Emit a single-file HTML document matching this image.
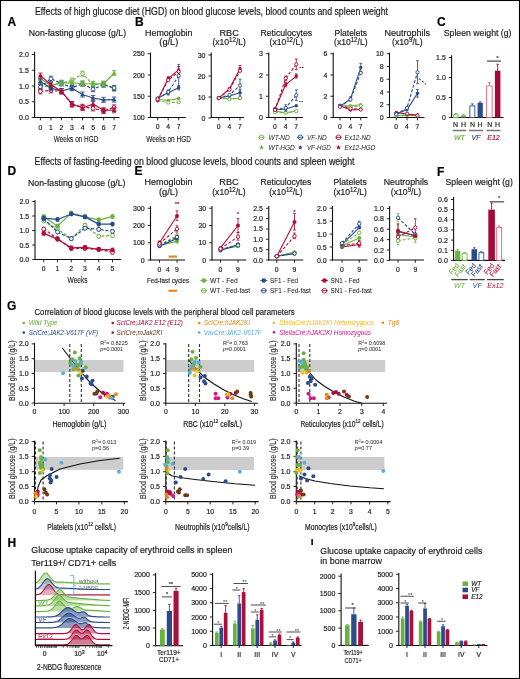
<!DOCTYPE html><html><head><meta charset="utf-8"><style>html,body{margin:0;padding:0;background:#fff;width:520px;height:679px;overflow:hidden}svg{display:block;will-change:transform}</style></head><body><svg width="520" height="679" viewBox="0 0 520 679" font-family='"Liberation Sans", sans-serif'>
<rect x="0.00" y="0.00" width="520.00" height="679.00" fill="#fff"/>
<text x="35.00" y="14.50" font-size="10" textLength="353.00" lengthAdjust="spacingAndGlyphs" fill="#1a1a1a" stroke="#1a1a1a" stroke-width="0.18">Effects of high glucose diet (HGD) on blood glucose levels, blood counts and spleen weight</text>
<text x="7.50" y="25.79" font-size="12" font-weight="bold" fill="#000" stroke="#000" stroke-width="0.18">A</text>
<text x="28.80" y="36.30" font-size="9.2" textLength="97.30" lengthAdjust="spacingAndGlyphs" fill="#1a1a1a" stroke="#1a1a1a" stroke-width="0.18">Non-fasting glucose (g/L)</text>
<line x1="34.60" y1="51.70" x2="34.60" y2="118.00" stroke="#111" stroke-width="1.1"/>
<line x1="31.80" y1="54.50" x2="34.60" y2="54.50" stroke="#111" stroke-width="0.9"/>
<text x="28.80" y="57.02" font-size="7" text-anchor="end" fill="#222" stroke="#222" stroke-width="0.18">2.0</text>
<line x1="31.80" y1="70.25" x2="34.60" y2="70.25" stroke="#111" stroke-width="0.9"/>
<text x="28.80" y="72.77" font-size="7" text-anchor="end" fill="#222" stroke="#222" stroke-width="0.18">1.5</text>
<line x1="31.80" y1="86.00" x2="34.60" y2="86.00" stroke="#111" stroke-width="0.9"/>
<text x="28.80" y="88.52" font-size="7" text-anchor="end" fill="#222" stroke="#222" stroke-width="0.18">1.0</text>
<line x1="31.80" y1="101.75" x2="34.60" y2="101.75" stroke="#111" stroke-width="0.9"/>
<text x="28.80" y="104.27" font-size="7" text-anchor="end" fill="#222" stroke="#222" stroke-width="0.18">0.5</text>
<line x1="31.80" y1="117.50" x2="34.60" y2="117.50" stroke="#111" stroke-width="0.9"/>
<text x="28.80" y="120.02" font-size="7" text-anchor="end" fill="#222" stroke="#222" stroke-width="0.18">0.0</text>
<line x1="34.10" y1="117.50" x2="119.50" y2="117.50" stroke="#111" stroke-width="1.1"/>
<line x1="40.40" y1="117.50" x2="40.40" y2="120.30" stroke="#111" stroke-width="0.9"/>
<text x="40.40" y="129.75" font-size="6.8" text-anchor="middle" fill="#222" stroke="#222" stroke-width="0.18">0</text>
<line x1="50.93" y1="117.50" x2="50.93" y2="120.30" stroke="#111" stroke-width="0.9"/>
<text x="50.93" y="129.75" font-size="6.8" text-anchor="middle" fill="#222" stroke="#222" stroke-width="0.18">1</text>
<line x1="61.46" y1="117.50" x2="61.46" y2="120.30" stroke="#111" stroke-width="0.9"/>
<text x="61.46" y="129.75" font-size="6.8" text-anchor="middle" fill="#222" stroke="#222" stroke-width="0.18">2</text>
<line x1="71.99" y1="117.50" x2="71.99" y2="120.30" stroke="#111" stroke-width="0.9"/>
<text x="71.99" y="129.75" font-size="6.8" text-anchor="middle" fill="#222" stroke="#222" stroke-width="0.18">3</text>
<line x1="82.52" y1="117.50" x2="82.52" y2="120.30" stroke="#111" stroke-width="0.9"/>
<text x="82.52" y="129.75" font-size="6.8" text-anchor="middle" fill="#222" stroke="#222" stroke-width="0.18">4</text>
<line x1="93.05" y1="117.50" x2="93.05" y2="120.30" stroke="#111" stroke-width="0.9"/>
<text x="93.05" y="129.75" font-size="6.8" text-anchor="middle" fill="#222" stroke="#222" stroke-width="0.18">5</text>
<line x1="103.58" y1="117.50" x2="103.58" y2="120.30" stroke="#111" stroke-width="0.9"/>
<text x="103.58" y="129.75" font-size="6.8" text-anchor="middle" fill="#222" stroke="#222" stroke-width="0.18">6</text>
<line x1="114.11" y1="117.50" x2="114.11" y2="120.30" stroke="#111" stroke-width="0.9"/>
<text x="114.11" y="129.75" font-size="6.8" text-anchor="middle" fill="#222" stroke="#222" stroke-width="0.18">7</text>
<text x="76.10" y="141.60" font-size="9.2" text-anchor="middle" textLength="44.70" lengthAdjust="spacingAndGlyphs" fill="#1a1a1a" stroke="#1a1a1a" stroke-width="0.12">Weeks on HGD</text>
<polyline points="40.40,86.63 50.93,86.00 61.46,82.85 71.99,80.65 82.52,73.72 93.05,84.74 103.58,83.79 114.11,88.83" fill="none" stroke="#6ab23e" stroke-width="1.2" stroke-dasharray="3,1.8" stroke-linejoin="round"/>
<line x1="40.40" y1="84.11" x2="40.40" y2="89.15" stroke="#6ab23e" stroke-width="0.85"/>
<line x1="38.20" y1="84.11" x2="42.60" y2="84.11" stroke="#6ab23e" stroke-width="0.85"/>
<line x1="38.20" y1="89.15" x2="42.60" y2="89.15" stroke="#6ab23e" stroke-width="0.85"/>
<line x1="50.93" y1="83.48" x2="50.93" y2="88.52" stroke="#6ab23e" stroke-width="0.85"/>
<line x1="48.73" y1="83.48" x2="53.13" y2="83.48" stroke="#6ab23e" stroke-width="0.85"/>
<line x1="48.73" y1="88.52" x2="53.13" y2="88.52" stroke="#6ab23e" stroke-width="0.85"/>
<line x1="61.46" y1="80.33" x2="61.46" y2="85.37" stroke="#6ab23e" stroke-width="0.85"/>
<line x1="59.26" y1="80.33" x2="63.66" y2="80.33" stroke="#6ab23e" stroke-width="0.85"/>
<line x1="59.26" y1="85.37" x2="63.66" y2="85.37" stroke="#6ab23e" stroke-width="0.85"/>
<line x1="71.99" y1="78.12" x2="71.99" y2="83.17" stroke="#6ab23e" stroke-width="0.85"/>
<line x1="69.79" y1="78.12" x2="74.19" y2="78.12" stroke="#6ab23e" stroke-width="0.85"/>
<line x1="69.79" y1="83.17" x2="74.19" y2="83.17" stroke="#6ab23e" stroke-width="0.85"/>
<line x1="82.52" y1="71.19" x2="82.52" y2="76.24" stroke="#6ab23e" stroke-width="0.85"/>
<line x1="80.32" y1="71.19" x2="84.72" y2="71.19" stroke="#6ab23e" stroke-width="0.85"/>
<line x1="80.32" y1="76.24" x2="84.72" y2="76.24" stroke="#6ab23e" stroke-width="0.85"/>
<line x1="93.05" y1="82.22" x2="93.05" y2="87.26" stroke="#6ab23e" stroke-width="0.85"/>
<line x1="90.85" y1="82.22" x2="95.25" y2="82.22" stroke="#6ab23e" stroke-width="0.85"/>
<line x1="90.85" y1="87.26" x2="95.25" y2="87.26" stroke="#6ab23e" stroke-width="0.85"/>
<line x1="103.58" y1="81.28" x2="103.58" y2="86.31" stroke="#6ab23e" stroke-width="0.85"/>
<line x1="101.38" y1="81.28" x2="105.78" y2="81.28" stroke="#6ab23e" stroke-width="0.85"/>
<line x1="101.38" y1="86.31" x2="105.78" y2="86.31" stroke="#6ab23e" stroke-width="0.85"/>
<line x1="114.11" y1="86.31" x2="114.11" y2="91.35" stroke="#6ab23e" stroke-width="0.85"/>
<line x1="111.91" y1="86.31" x2="116.31" y2="86.31" stroke="#6ab23e" stroke-width="0.85"/>
<line x1="111.91" y1="91.35" x2="116.31" y2="91.35" stroke="#6ab23e" stroke-width="0.85"/>
<circle cx="40.40" cy="86.63" r="1.87" fill="#fff" stroke="#6ab23e" stroke-width="0.95"/>
<circle cx="50.93" cy="86.00" r="1.87" fill="#fff" stroke="#6ab23e" stroke-width="0.95"/>
<circle cx="61.46" cy="82.85" r="1.87" fill="#fff" stroke="#6ab23e" stroke-width="0.95"/>
<circle cx="71.99" cy="80.65" r="1.87" fill="#fff" stroke="#6ab23e" stroke-width="0.95"/>
<circle cx="82.52" cy="73.72" r="1.87" fill="#fff" stroke="#6ab23e" stroke-width="0.95"/>
<circle cx="93.05" cy="84.74" r="1.87" fill="#fff" stroke="#6ab23e" stroke-width="0.95"/>
<circle cx="103.58" cy="83.79" r="1.87" fill="#fff" stroke="#6ab23e" stroke-width="0.95"/>
<circle cx="114.11" cy="88.83" r="1.87" fill="#fff" stroke="#6ab23e" stroke-width="0.95"/>
<polyline points="40.40,86.94 50.93,78.75 61.46,83.48 71.99,87.58 82.52,83.79 93.05,89.15 103.58,84.74 114.11,87.89" fill="none" stroke="#2b4b8c" stroke-width="1.2" stroke-dasharray="3,1.8" stroke-linejoin="round"/>
<line x1="40.40" y1="84.42" x2="40.40" y2="89.47" stroke="#2b4b8c" stroke-width="0.85"/>
<line x1="38.20" y1="84.42" x2="42.60" y2="84.42" stroke="#2b4b8c" stroke-width="0.85"/>
<line x1="38.20" y1="89.47" x2="42.60" y2="89.47" stroke="#2b4b8c" stroke-width="0.85"/>
<line x1="50.93" y1="76.23" x2="50.93" y2="81.28" stroke="#2b4b8c" stroke-width="0.85"/>
<line x1="48.73" y1="76.23" x2="53.13" y2="76.23" stroke="#2b4b8c" stroke-width="0.85"/>
<line x1="48.73" y1="81.28" x2="53.13" y2="81.28" stroke="#2b4b8c" stroke-width="0.85"/>
<line x1="61.46" y1="80.96" x2="61.46" y2="86.00" stroke="#2b4b8c" stroke-width="0.85"/>
<line x1="59.26" y1="80.96" x2="63.66" y2="80.96" stroke="#2b4b8c" stroke-width="0.85"/>
<line x1="59.26" y1="86.00" x2="63.66" y2="86.00" stroke="#2b4b8c" stroke-width="0.85"/>
<line x1="71.99" y1="85.06" x2="71.99" y2="90.09" stroke="#2b4b8c" stroke-width="0.85"/>
<line x1="69.79" y1="85.06" x2="74.19" y2="85.06" stroke="#2b4b8c" stroke-width="0.85"/>
<line x1="69.79" y1="90.09" x2="74.19" y2="90.09" stroke="#2b4b8c" stroke-width="0.85"/>
<line x1="82.52" y1="81.28" x2="82.52" y2="86.31" stroke="#2b4b8c" stroke-width="0.85"/>
<line x1="80.32" y1="81.28" x2="84.72" y2="81.28" stroke="#2b4b8c" stroke-width="0.85"/>
<line x1="80.32" y1="86.31" x2="84.72" y2="86.31" stroke="#2b4b8c" stroke-width="0.85"/>
<line x1="93.05" y1="86.63" x2="93.05" y2="91.67" stroke="#2b4b8c" stroke-width="0.85"/>
<line x1="90.85" y1="86.63" x2="95.25" y2="86.63" stroke="#2b4b8c" stroke-width="0.85"/>
<line x1="90.85" y1="91.67" x2="95.25" y2="91.67" stroke="#2b4b8c" stroke-width="0.85"/>
<line x1="103.58" y1="82.22" x2="103.58" y2="87.26" stroke="#2b4b8c" stroke-width="0.85"/>
<line x1="101.38" y1="82.22" x2="105.78" y2="82.22" stroke="#2b4b8c" stroke-width="0.85"/>
<line x1="101.38" y1="87.26" x2="105.78" y2="87.26" stroke="#2b4b8c" stroke-width="0.85"/>
<line x1="114.11" y1="85.37" x2="114.11" y2="90.41" stroke="#2b4b8c" stroke-width="0.85"/>
<line x1="111.91" y1="85.37" x2="116.31" y2="85.37" stroke="#2b4b8c" stroke-width="0.85"/>
<line x1="111.91" y1="90.41" x2="116.31" y2="90.41" stroke="#2b4b8c" stroke-width="0.85"/>
<circle cx="40.40" cy="86.94" r="1.87" fill="#fff" stroke="#2b4b8c" stroke-width="0.95"/>
<circle cx="50.93" cy="78.75" r="1.87" fill="#fff" stroke="#2b4b8c" stroke-width="0.95"/>
<circle cx="61.46" cy="83.48" r="1.87" fill="#fff" stroke="#2b4b8c" stroke-width="0.95"/>
<circle cx="71.99" cy="87.58" r="1.87" fill="#fff" stroke="#2b4b8c" stroke-width="0.95"/>
<circle cx="82.52" cy="83.79" r="1.87" fill="#fff" stroke="#2b4b8c" stroke-width="0.95"/>
<circle cx="93.05" cy="89.15" r="1.87" fill="#fff" stroke="#2b4b8c" stroke-width="0.95"/>
<circle cx="103.58" cy="84.74" r="1.87" fill="#fff" stroke="#2b4b8c" stroke-width="0.95"/>
<circle cx="114.11" cy="87.89" r="1.87" fill="#fff" stroke="#2b4b8c" stroke-width="0.95"/>
<polyline points="40.40,91.36 50.93,90.41 61.46,91.36 71.99,104.59 82.52,106.79 93.05,108.36 103.58,110.89 114.11,107.42" fill="none" stroke="#ad0e3a" stroke-width="1.2" stroke-dasharray="3,1.8" stroke-linejoin="round"/>
<line x1="40.40" y1="88.84" x2="40.40" y2="93.88" stroke="#ad0e3a" stroke-width="0.85"/>
<line x1="38.20" y1="88.84" x2="42.60" y2="88.84" stroke="#ad0e3a" stroke-width="0.85"/>
<line x1="38.20" y1="93.88" x2="42.60" y2="93.88" stroke="#ad0e3a" stroke-width="0.85"/>
<line x1="50.93" y1="87.89" x2="50.93" y2="92.93" stroke="#ad0e3a" stroke-width="0.85"/>
<line x1="48.73" y1="87.89" x2="53.13" y2="87.89" stroke="#ad0e3a" stroke-width="0.85"/>
<line x1="48.73" y1="92.93" x2="53.13" y2="92.93" stroke="#ad0e3a" stroke-width="0.85"/>
<line x1="61.46" y1="88.84" x2="61.46" y2="93.88" stroke="#ad0e3a" stroke-width="0.85"/>
<line x1="59.26" y1="88.84" x2="63.66" y2="88.84" stroke="#ad0e3a" stroke-width="0.85"/>
<line x1="59.26" y1="93.88" x2="63.66" y2="93.88" stroke="#ad0e3a" stroke-width="0.85"/>
<line x1="71.99" y1="102.06" x2="71.99" y2="107.11" stroke="#ad0e3a" stroke-width="0.85"/>
<line x1="69.79" y1="102.06" x2="74.19" y2="102.06" stroke="#ad0e3a" stroke-width="0.85"/>
<line x1="69.79" y1="107.11" x2="74.19" y2="107.11" stroke="#ad0e3a" stroke-width="0.85"/>
<line x1="82.52" y1="104.27" x2="82.52" y2="109.31" stroke="#ad0e3a" stroke-width="0.85"/>
<line x1="80.32" y1="104.27" x2="84.72" y2="104.27" stroke="#ad0e3a" stroke-width="0.85"/>
<line x1="80.32" y1="109.31" x2="84.72" y2="109.31" stroke="#ad0e3a" stroke-width="0.85"/>
<line x1="93.05" y1="105.84" x2="93.05" y2="110.89" stroke="#ad0e3a" stroke-width="0.85"/>
<line x1="90.85" y1="105.84" x2="95.25" y2="105.84" stroke="#ad0e3a" stroke-width="0.85"/>
<line x1="90.85" y1="110.89" x2="95.25" y2="110.89" stroke="#ad0e3a" stroke-width="0.85"/>
<line x1="103.58" y1="108.36" x2="103.58" y2="113.41" stroke="#ad0e3a" stroke-width="0.85"/>
<line x1="101.38" y1="108.36" x2="105.78" y2="108.36" stroke="#ad0e3a" stroke-width="0.85"/>
<line x1="101.38" y1="113.41" x2="105.78" y2="113.41" stroke="#ad0e3a" stroke-width="0.85"/>
<line x1="114.11" y1="104.90" x2="114.11" y2="109.94" stroke="#ad0e3a" stroke-width="0.85"/>
<line x1="111.91" y1="104.90" x2="116.31" y2="104.90" stroke="#ad0e3a" stroke-width="0.85"/>
<line x1="111.91" y1="109.94" x2="116.31" y2="109.94" stroke="#ad0e3a" stroke-width="0.85"/>
<circle cx="40.40" cy="91.36" r="1.87" fill="#fff" stroke="#ad0e3a" stroke-width="0.95"/>
<circle cx="50.93" cy="90.41" r="1.87" fill="#fff" stroke="#ad0e3a" stroke-width="0.95"/>
<circle cx="61.46" cy="91.36" r="1.87" fill="#fff" stroke="#ad0e3a" stroke-width="0.95"/>
<circle cx="71.99" cy="104.59" r="1.87" fill="#fff" stroke="#ad0e3a" stroke-width="0.95"/>
<circle cx="82.52" cy="106.79" r="1.87" fill="#fff" stroke="#ad0e3a" stroke-width="0.95"/>
<circle cx="93.05" cy="108.36" r="1.87" fill="#fff" stroke="#ad0e3a" stroke-width="0.95"/>
<circle cx="103.58" cy="110.89" r="1.87" fill="#fff" stroke="#ad0e3a" stroke-width="0.95"/>
<circle cx="114.11" cy="107.42" r="1.87" fill="#fff" stroke="#ad0e3a" stroke-width="0.95"/>
<polyline points="40.40,78.44 50.93,85.69 61.46,82.85 71.99,82.85 82.52,83.48 93.05,83.79 103.58,83.79 114.11,73.09" fill="none" stroke="#6ab23e" stroke-width="1.2" stroke-linejoin="round"/>
<line x1="40.40" y1="75.92" x2="40.40" y2="80.96" stroke="#6ab23e" stroke-width="0.85"/>
<line x1="38.20" y1="75.92" x2="42.60" y2="75.92" stroke="#6ab23e" stroke-width="0.85"/>
<line x1="38.20" y1="80.96" x2="42.60" y2="80.96" stroke="#6ab23e" stroke-width="0.85"/>
<line x1="50.93" y1="83.16" x2="50.93" y2="88.20" stroke="#6ab23e" stroke-width="0.85"/>
<line x1="48.73" y1="83.16" x2="53.13" y2="83.16" stroke="#6ab23e" stroke-width="0.85"/>
<line x1="48.73" y1="88.20" x2="53.13" y2="88.20" stroke="#6ab23e" stroke-width="0.85"/>
<line x1="61.46" y1="80.33" x2="61.46" y2="85.37" stroke="#6ab23e" stroke-width="0.85"/>
<line x1="59.26" y1="80.33" x2="63.66" y2="80.33" stroke="#6ab23e" stroke-width="0.85"/>
<line x1="59.26" y1="85.37" x2="63.66" y2="85.37" stroke="#6ab23e" stroke-width="0.85"/>
<line x1="71.99" y1="80.33" x2="71.99" y2="85.37" stroke="#6ab23e" stroke-width="0.85"/>
<line x1="69.79" y1="80.33" x2="74.19" y2="80.33" stroke="#6ab23e" stroke-width="0.85"/>
<line x1="69.79" y1="85.37" x2="74.19" y2="85.37" stroke="#6ab23e" stroke-width="0.85"/>
<line x1="82.52" y1="80.96" x2="82.52" y2="86.00" stroke="#6ab23e" stroke-width="0.85"/>
<line x1="80.32" y1="80.96" x2="84.72" y2="80.96" stroke="#6ab23e" stroke-width="0.85"/>
<line x1="80.32" y1="86.00" x2="84.72" y2="86.00" stroke="#6ab23e" stroke-width="0.85"/>
<line x1="93.05" y1="81.28" x2="93.05" y2="86.31" stroke="#6ab23e" stroke-width="0.85"/>
<line x1="90.85" y1="81.28" x2="95.25" y2="81.28" stroke="#6ab23e" stroke-width="0.85"/>
<line x1="90.85" y1="86.31" x2="95.25" y2="86.31" stroke="#6ab23e" stroke-width="0.85"/>
<line x1="103.58" y1="81.28" x2="103.58" y2="86.31" stroke="#6ab23e" stroke-width="0.85"/>
<line x1="101.38" y1="81.28" x2="105.78" y2="81.28" stroke="#6ab23e" stroke-width="0.85"/>
<line x1="101.38" y1="86.31" x2="105.78" y2="86.31" stroke="#6ab23e" stroke-width="0.85"/>
<line x1="114.11" y1="70.56" x2="114.11" y2="75.61" stroke="#6ab23e" stroke-width="0.85"/>
<line x1="111.91" y1="70.56" x2="116.31" y2="70.56" stroke="#6ab23e" stroke-width="0.85"/>
<line x1="111.91" y1="75.61" x2="116.31" y2="75.61" stroke="#6ab23e" stroke-width="0.85"/>
<polygon points="40.40,75.80 42.82,80.20 37.98,80.20" fill="#6ab23e"/>
<polygon points="50.93,83.05 53.35,87.45 48.51,87.45" fill="#6ab23e"/>
<polygon points="61.46,80.21 63.88,84.61 59.04,84.61" fill="#6ab23e"/>
<polygon points="71.99,80.21 74.41,84.61 69.57,84.61" fill="#6ab23e"/>
<polygon points="82.52,80.84 84.94,85.24 80.10,85.24" fill="#6ab23e"/>
<polygon points="93.05,81.15 95.47,85.55 90.63,85.55" fill="#6ab23e"/>
<polygon points="103.58,81.15 106.00,85.55 101.16,85.55" fill="#6ab23e"/>
<polygon points="114.11,70.45 116.53,74.85 111.69,74.85" fill="#6ab23e"/>
<polyline points="40.40,81.59 50.93,88.20 61.46,91.04 71.99,88.20 82.52,94.50 93.05,97.97 103.58,99.86 114.11,99.55" fill="none" stroke="#2b4b8c" stroke-width="1.2" stroke-linejoin="round"/>
<line x1="40.40" y1="79.07" x2="40.40" y2="84.11" stroke="#2b4b8c" stroke-width="0.85"/>
<line x1="38.20" y1="79.07" x2="42.60" y2="79.07" stroke="#2b4b8c" stroke-width="0.85"/>
<line x1="38.20" y1="84.11" x2="42.60" y2="84.11" stroke="#2b4b8c" stroke-width="0.85"/>
<line x1="50.93" y1="85.69" x2="50.93" y2="90.72" stroke="#2b4b8c" stroke-width="0.85"/>
<line x1="48.73" y1="85.69" x2="53.13" y2="85.69" stroke="#2b4b8c" stroke-width="0.85"/>
<line x1="48.73" y1="90.72" x2="53.13" y2="90.72" stroke="#2b4b8c" stroke-width="0.85"/>
<line x1="61.46" y1="88.52" x2="61.46" y2="93.56" stroke="#2b4b8c" stroke-width="0.85"/>
<line x1="59.26" y1="88.52" x2="63.66" y2="88.52" stroke="#2b4b8c" stroke-width="0.85"/>
<line x1="59.26" y1="93.56" x2="63.66" y2="93.56" stroke="#2b4b8c" stroke-width="0.85"/>
<line x1="71.99" y1="85.69" x2="71.99" y2="90.72" stroke="#2b4b8c" stroke-width="0.85"/>
<line x1="69.79" y1="85.69" x2="74.19" y2="85.69" stroke="#2b4b8c" stroke-width="0.85"/>
<line x1="69.79" y1="90.72" x2="74.19" y2="90.72" stroke="#2b4b8c" stroke-width="0.85"/>
<line x1="82.52" y1="91.98" x2="82.52" y2="97.03" stroke="#2b4b8c" stroke-width="0.85"/>
<line x1="80.32" y1="91.98" x2="84.72" y2="91.98" stroke="#2b4b8c" stroke-width="0.85"/>
<line x1="80.32" y1="97.03" x2="84.72" y2="97.03" stroke="#2b4b8c" stroke-width="0.85"/>
<line x1="93.05" y1="95.45" x2="93.05" y2="100.49" stroke="#2b4b8c" stroke-width="0.85"/>
<line x1="90.85" y1="95.45" x2="95.25" y2="95.45" stroke="#2b4b8c" stroke-width="0.85"/>
<line x1="90.85" y1="100.49" x2="95.25" y2="100.49" stroke="#2b4b8c" stroke-width="0.85"/>
<line x1="103.58" y1="97.34" x2="103.58" y2="102.38" stroke="#2b4b8c" stroke-width="0.85"/>
<line x1="101.38" y1="97.34" x2="105.78" y2="97.34" stroke="#2b4b8c" stroke-width="0.85"/>
<line x1="101.38" y1="102.38" x2="105.78" y2="102.38" stroke="#2b4b8c" stroke-width="0.85"/>
<line x1="114.11" y1="97.03" x2="114.11" y2="102.06" stroke="#2b4b8c" stroke-width="0.85"/>
<line x1="111.91" y1="97.03" x2="116.31" y2="97.03" stroke="#2b4b8c" stroke-width="0.85"/>
<line x1="111.91" y1="102.06" x2="116.31" y2="102.06" stroke="#2b4b8c" stroke-width="0.85"/>
<polygon points="40.40,78.95 42.82,83.35 37.98,83.35" fill="#2b4b8c"/>
<polygon points="50.93,85.56 53.35,89.97 48.51,89.97" fill="#2b4b8c"/>
<polygon points="61.46,88.40 63.88,92.80 59.04,92.80" fill="#2b4b8c"/>
<polygon points="71.99,85.56 74.41,89.97 69.57,89.97" fill="#2b4b8c"/>
<polygon points="82.52,91.86 84.94,96.27 80.10,96.27" fill="#2b4b8c"/>
<polygon points="93.05,95.33 95.47,99.73 90.63,99.73" fill="#2b4b8c"/>
<polygon points="103.58,97.22 106.00,101.62 101.16,101.62" fill="#2b4b8c"/>
<polygon points="114.11,96.91 116.53,101.31 111.69,101.31" fill="#2b4b8c"/>
<polyline points="40.40,75.60 50.93,84.74 61.46,91.36 71.99,103.95 82.52,108.05 93.05,103.95 103.58,110.25 114.11,110.25" fill="none" stroke="#ad0e3a" stroke-width="1.2" stroke-linejoin="round"/>
<line x1="40.40" y1="73.08" x2="40.40" y2="78.12" stroke="#ad0e3a" stroke-width="0.85"/>
<line x1="38.20" y1="73.08" x2="42.60" y2="73.08" stroke="#ad0e3a" stroke-width="0.85"/>
<line x1="38.20" y1="78.12" x2="42.60" y2="78.12" stroke="#ad0e3a" stroke-width="0.85"/>
<line x1="50.93" y1="82.22" x2="50.93" y2="87.26" stroke="#ad0e3a" stroke-width="0.85"/>
<line x1="48.73" y1="82.22" x2="53.13" y2="82.22" stroke="#ad0e3a" stroke-width="0.85"/>
<line x1="48.73" y1="87.26" x2="53.13" y2="87.26" stroke="#ad0e3a" stroke-width="0.85"/>
<line x1="61.46" y1="88.84" x2="61.46" y2="93.88" stroke="#ad0e3a" stroke-width="0.85"/>
<line x1="59.26" y1="88.84" x2="63.66" y2="88.84" stroke="#ad0e3a" stroke-width="0.85"/>
<line x1="59.26" y1="93.88" x2="63.66" y2="93.88" stroke="#ad0e3a" stroke-width="0.85"/>
<line x1="71.99" y1="101.44" x2="71.99" y2="106.47" stroke="#ad0e3a" stroke-width="0.85"/>
<line x1="69.79" y1="101.44" x2="74.19" y2="101.44" stroke="#ad0e3a" stroke-width="0.85"/>
<line x1="69.79" y1="106.47" x2="74.19" y2="106.47" stroke="#ad0e3a" stroke-width="0.85"/>
<line x1="82.52" y1="105.53" x2="82.52" y2="110.57" stroke="#ad0e3a" stroke-width="0.85"/>
<line x1="80.32" y1="105.53" x2="84.72" y2="105.53" stroke="#ad0e3a" stroke-width="0.85"/>
<line x1="80.32" y1="110.57" x2="84.72" y2="110.57" stroke="#ad0e3a" stroke-width="0.85"/>
<line x1="93.05" y1="101.44" x2="93.05" y2="106.47" stroke="#ad0e3a" stroke-width="0.85"/>
<line x1="90.85" y1="101.44" x2="95.25" y2="101.44" stroke="#ad0e3a" stroke-width="0.85"/>
<line x1="90.85" y1="106.47" x2="95.25" y2="106.47" stroke="#ad0e3a" stroke-width="0.85"/>
<line x1="103.58" y1="107.73" x2="103.58" y2="112.78" stroke="#ad0e3a" stroke-width="0.85"/>
<line x1="101.38" y1="107.73" x2="105.78" y2="107.73" stroke="#ad0e3a" stroke-width="0.85"/>
<line x1="101.38" y1="112.78" x2="105.78" y2="112.78" stroke="#ad0e3a" stroke-width="0.85"/>
<line x1="114.11" y1="107.73" x2="114.11" y2="112.78" stroke="#ad0e3a" stroke-width="0.85"/>
<line x1="111.91" y1="107.73" x2="116.31" y2="107.73" stroke="#ad0e3a" stroke-width="0.85"/>
<line x1="111.91" y1="112.78" x2="116.31" y2="112.78" stroke="#ad0e3a" stroke-width="0.85"/>
<polygon points="40.40,72.96 42.82,77.36 37.98,77.36" fill="#ad0e3a"/>
<polygon points="50.93,82.10 53.35,86.50 48.51,86.50" fill="#ad0e3a"/>
<polygon points="61.46,88.72 63.88,93.12 59.04,93.12" fill="#ad0e3a"/>
<polygon points="71.99,101.31 74.41,105.72 69.57,105.72" fill="#ad0e3a"/>
<polygon points="82.52,105.41 84.94,109.81 80.10,109.81" fill="#ad0e3a"/>
<polygon points="93.05,101.31 95.47,105.72 90.63,105.72" fill="#ad0e3a"/>
<polygon points="103.58,107.61 106.00,112.02 101.16,112.02" fill="#ad0e3a"/>
<polygon points="114.11,107.61 116.53,112.02 111.69,112.02" fill="#ad0e3a"/>
<text x="135.00" y="25.79" font-size="12" font-weight="bold" fill="#000" stroke="#000" stroke-width="0.18">B</text>
<text x="168.80" y="35.90" font-size="9.2" text-anchor="middle" textLength="47.50" lengthAdjust="spacingAndGlyphs" fill="#1a1a1a" stroke="#1a1a1a" stroke-width="0.18">Hemoglobin</text>
<text x="168.80" y="45.30" font-size="9.2" text-anchor="middle" fill="#1a1a1a" stroke="#1a1a1a" stroke-width="0.18">(g/L)</text>
<text x="229.20" y="35.90" font-size="9.2" text-anchor="middle" fill="#1a1a1a" stroke="#1a1a1a" stroke-width="0.18">RBC</text>
<text x="229.20" y="45.30" font-size="9.2" text-anchor="middle" textLength="33.50" lengthAdjust="spacingAndGlyphs" fill="#1a1a1a" stroke="#1a1a1a" stroke-width="0.18">(x10<tspan font-size="6.6" dy="-3.3">12</tspan><tspan dy="3.3">/L)</tspan></text>
<text x="286.30" y="35.90" font-size="9.2" text-anchor="middle" textLength="51.50" lengthAdjust="spacingAndGlyphs" fill="#1a1a1a" stroke="#1a1a1a" stroke-width="0.18">Reticulocytes</text>
<text x="286.30" y="45.30" font-size="9.2" text-anchor="middle" textLength="33.50" lengthAdjust="spacingAndGlyphs" fill="#1a1a1a" stroke="#1a1a1a" stroke-width="0.18">(x10<tspan font-size="6.6" dy="-3.3">12</tspan><tspan dy="3.3">/L)</tspan></text>
<text x="350.80" y="35.90" font-size="9.2" text-anchor="middle" textLength="32.50" lengthAdjust="spacingAndGlyphs" fill="#1a1a1a" stroke="#1a1a1a" stroke-width="0.18">Platelets</text>
<text x="350.80" y="45.30" font-size="9.2" text-anchor="middle" textLength="33.50" lengthAdjust="spacingAndGlyphs" fill="#1a1a1a" stroke="#1a1a1a" stroke-width="0.18">(x10<tspan font-size="6.6" dy="-3.3">12</tspan><tspan dy="3.3">/L)</tspan></text>
<text x="407.30" y="35.90" font-size="9.2" text-anchor="middle" textLength="45.50" lengthAdjust="spacingAndGlyphs" fill="#1a1a1a" stroke="#1a1a1a" stroke-width="0.18">Neutrophils</text>
<text x="407.30" y="45.30" font-size="9.2" text-anchor="middle" textLength="30.50" lengthAdjust="spacingAndGlyphs" fill="#1a1a1a" stroke="#1a1a1a" stroke-width="0.18">(x10<tspan font-size="6.6" dy="-3.3">9</tspan><tspan dy="3.3">/L)</tspan></text>
<line x1="150.50" y1="52.50" x2="150.50" y2="118.00" stroke="#111" stroke-width="1.1"/>
<line x1="147.70" y1="53.75" x2="150.50" y2="53.75" stroke="#111" stroke-width="0.9"/>
<text x="144.70" y="56.27" font-size="7" text-anchor="end" fill="#222" stroke="#222" stroke-width="0.18">250</text>
<line x1="147.70" y1="75.00" x2="150.50" y2="75.00" stroke="#111" stroke-width="0.9"/>
<text x="144.70" y="77.52" font-size="7" text-anchor="end" fill="#222" stroke="#222" stroke-width="0.18">200</text>
<line x1="147.70" y1="96.25" x2="150.50" y2="96.25" stroke="#111" stroke-width="0.9"/>
<text x="144.70" y="98.77" font-size="7" text-anchor="end" fill="#222" stroke="#222" stroke-width="0.18">150</text>
<line x1="147.70" y1="117.50" x2="150.50" y2="117.50" stroke="#111" stroke-width="0.9"/>
<text x="144.70" y="120.02" font-size="7" text-anchor="end" fill="#222" stroke="#222" stroke-width="0.18">100</text>
<line x1="150.00" y1="117.50" x2="185.80" y2="117.50" stroke="#111" stroke-width="1.1"/>
<line x1="157.60" y1="117.50" x2="157.60" y2="120.30" stroke="#111" stroke-width="0.9"/>
<text x="157.60" y="129.45" font-size="6.8" text-anchor="middle" fill="#222" stroke="#222" stroke-width="0.18">0</text>
<line x1="168.20" y1="117.50" x2="168.20" y2="120.30" stroke="#111" stroke-width="0.9"/>
<text x="168.20" y="129.45" font-size="6.8" text-anchor="middle" fill="#222" stroke="#222" stroke-width="0.18">4</text>
<line x1="178.70" y1="117.50" x2="178.70" y2="120.30" stroke="#111" stroke-width="0.9"/>
<text x="178.70" y="129.45" font-size="6.8" text-anchor="middle" fill="#222" stroke="#222" stroke-width="0.18">7</text>
<polyline points="157.60,99.22 168.20,100.50 178.70,98.38" fill="none" stroke="#6ab23e" stroke-width="1.1" stroke-linejoin="round"/>
<circle cx="157.60" cy="99.22" r="1.71" fill="#6ab23e"/>
<circle cx="168.20" cy="100.50" r="1.71" fill="#6ab23e"/>
<circle cx="178.70" cy="98.38" r="1.71" fill="#6ab23e"/>
<polyline points="157.60,100.50 168.20,102.62 178.70,102.20" fill="none" stroke="#6ab23e" stroke-width="1.1" stroke-dasharray="3,1.8" stroke-linejoin="round"/>
<circle cx="157.60" cy="100.50" r="1.61" fill="#fff" stroke="#6ab23e" stroke-width="0.95"/>
<circle cx="168.20" cy="102.62" r="1.61" fill="#fff" stroke="#6ab23e" stroke-width="0.95"/>
<circle cx="178.70" cy="102.20" r="1.61" fill="#fff" stroke="#6ab23e" stroke-width="0.95"/>
<polyline points="157.60,98.38 168.20,92.85 178.70,87.75" fill="none" stroke="#2b4b8c" stroke-width="1.1" stroke-linejoin="round"/>
<line x1="168.20" y1="94.97" x2="168.20" y2="90.72" stroke="#2b4b8c" stroke-width="0.85"/>
<line x1="166.80" y1="94.97" x2="169.60" y2="94.97" stroke="#2b4b8c" stroke-width="0.85"/>
<line x1="166.80" y1="90.72" x2="169.60" y2="90.72" stroke="#2b4b8c" stroke-width="0.85"/>
<line x1="178.70" y1="89.88" x2="178.70" y2="85.62" stroke="#2b4b8c" stroke-width="0.85"/>
<line x1="177.30" y1="89.88" x2="180.10" y2="89.88" stroke="#2b4b8c" stroke-width="0.85"/>
<line x1="177.30" y1="85.62" x2="180.10" y2="85.62" stroke="#2b4b8c" stroke-width="0.85"/>
<circle cx="157.60" cy="98.38" r="1.71" fill="#2b4b8c"/>
<circle cx="168.20" cy="92.85" r="1.71" fill="#2b4b8c"/>
<circle cx="178.70" cy="87.75" r="1.71" fill="#2b4b8c"/>
<polyline points="157.60,98.38 168.20,92.00 178.70,75.85" fill="none" stroke="#2b4b8c" stroke-width="1.1" stroke-dasharray="3,1.8" stroke-linejoin="round"/>
<line x1="168.20" y1="94.12" x2="168.20" y2="89.88" stroke="#2b4b8c" stroke-width="0.85"/>
<line x1="166.80" y1="94.12" x2="169.60" y2="94.12" stroke="#2b4b8c" stroke-width="0.85"/>
<line x1="166.80" y1="89.88" x2="169.60" y2="89.88" stroke="#2b4b8c" stroke-width="0.85"/>
<line x1="178.70" y1="86.90" x2="178.70" y2="64.38" stroke="#2b4b8c" stroke-width="0.85"/>
<line x1="177.30" y1="86.90" x2="180.10" y2="86.90" stroke="#2b4b8c" stroke-width="0.85"/>
<line x1="177.30" y1="64.38" x2="180.10" y2="64.38" stroke="#2b4b8c" stroke-width="0.85"/>
<circle cx="157.60" cy="98.38" r="1.61" fill="#fff" stroke="#2b4b8c" stroke-width="0.95"/>
<circle cx="168.20" cy="92.00" r="1.61" fill="#fff" stroke="#2b4b8c" stroke-width="0.95"/>
<circle cx="178.70" cy="75.85" r="1.61" fill="#fff" stroke="#2b4b8c" stroke-width="0.95"/>
<polyline points="157.60,100.50 168.20,78.40 178.70,69.90" fill="none" stroke="#ad0e3a" stroke-width="1.1" stroke-linejoin="round"/>
<line x1="168.20" y1="80.10" x2="168.20" y2="76.70" stroke="#ad0e3a" stroke-width="0.85"/>
<line x1="166.80" y1="80.10" x2="169.60" y2="80.10" stroke="#ad0e3a" stroke-width="0.85"/>
<line x1="166.80" y1="76.70" x2="169.60" y2="76.70" stroke="#ad0e3a" stroke-width="0.85"/>
<line x1="178.70" y1="72.88" x2="178.70" y2="66.50" stroke="#ad0e3a" stroke-width="0.85"/>
<line x1="177.30" y1="72.88" x2="180.10" y2="72.88" stroke="#ad0e3a" stroke-width="0.85"/>
<line x1="177.30" y1="66.50" x2="180.10" y2="66.50" stroke="#ad0e3a" stroke-width="0.85"/>
<circle cx="157.60" cy="100.50" r="1.71" fill="#ad0e3a"/>
<circle cx="168.20" cy="78.40" r="1.71" fill="#ad0e3a"/>
<circle cx="178.70" cy="69.90" r="1.71" fill="#ad0e3a"/>
<polyline points="157.60,99.22 168.20,80.10 178.70,71.60" fill="none" stroke="#ad0e3a" stroke-width="1.1" stroke-dasharray="3,1.8" stroke-linejoin="round"/>
<circle cx="157.60" cy="99.22" r="1.61" fill="#fff" stroke="#ad0e3a" stroke-width="0.95"/>
<circle cx="168.20" cy="80.10" r="1.61" fill="#fff" stroke="#ad0e3a" stroke-width="0.95"/>
<circle cx="178.70" cy="71.60" r="1.61" fill="#fff" stroke="#ad0e3a" stroke-width="0.95"/>
<text x="168.50" y="141.60" font-size="9.2" text-anchor="middle" textLength="44.60" lengthAdjust="spacingAndGlyphs" fill="#1a1a1a" stroke="#1a1a1a" stroke-width="0.12">Weeks on HGD</text>
<line x1="211.25" y1="52.50" x2="211.25" y2="118.00" stroke="#111" stroke-width="1.1"/>
<line x1="208.45" y1="55.00" x2="211.25" y2="55.00" stroke="#111" stroke-width="0.9"/>
<text x="205.45" y="57.52" font-size="7" text-anchor="end" fill="#222" stroke="#222" stroke-width="0.18">30</text>
<line x1="208.45" y1="76.00" x2="211.25" y2="76.00" stroke="#111" stroke-width="0.9"/>
<text x="205.45" y="78.52" font-size="7" text-anchor="end" fill="#222" stroke="#222" stroke-width="0.18">20</text>
<line x1="208.45" y1="97.00" x2="211.25" y2="97.00" stroke="#111" stroke-width="0.9"/>
<text x="205.45" y="99.52" font-size="7" text-anchor="end" fill="#222" stroke="#222" stroke-width="0.18">10</text>
<line x1="208.45" y1="118.00" x2="211.25" y2="118.00" stroke="#111" stroke-width="0.9"/>
<text x="205.45" y="120.52" font-size="7" text-anchor="end" fill="#222" stroke="#222" stroke-width="0.18">0</text>
<line x1="210.75" y1="117.50" x2="244.00" y2="117.50" stroke="#111" stroke-width="1.1"/>
<line x1="218.75" y1="117.50" x2="218.75" y2="120.30" stroke="#111" stroke-width="0.9"/>
<text x="218.75" y="129.45" font-size="6.8" text-anchor="middle" fill="#222" stroke="#222" stroke-width="0.18">0</text>
<line x1="229.50" y1="117.50" x2="229.50" y2="120.30" stroke="#111" stroke-width="0.9"/>
<text x="229.50" y="129.45" font-size="6.8" text-anchor="middle" fill="#222" stroke="#222" stroke-width="0.18">4</text>
<line x1="240.00" y1="117.50" x2="240.00" y2="120.30" stroke="#111" stroke-width="0.9"/>
<text x="240.00" y="129.45" font-size="6.8" text-anchor="middle" fill="#222" stroke="#222" stroke-width="0.18">7</text>
<polyline points="218.75,98.05 229.50,98.68 240.00,98.47" fill="none" stroke="#6ab23e" stroke-width="1.1" stroke-linejoin="round"/>
<circle cx="218.75" cy="98.05" r="1.71" fill="#6ab23e"/>
<circle cx="229.50" cy="98.68" r="1.71" fill="#6ab23e"/>
<circle cx="240.00" cy="98.47" r="1.71" fill="#6ab23e"/>
<polyline points="218.75,98.05 229.50,99.10 240.00,98.05" fill="none" stroke="#6ab23e" stroke-width="1.1" stroke-dasharray="3,1.8" stroke-linejoin="round"/>
<circle cx="218.75" cy="98.05" r="1.61" fill="#fff" stroke="#6ab23e" stroke-width="0.95"/>
<circle cx="229.50" cy="99.10" r="1.61" fill="#fff" stroke="#6ab23e" stroke-width="0.95"/>
<circle cx="240.00" cy="98.05" r="1.61" fill="#fff" stroke="#6ab23e" stroke-width="0.95"/>
<polyline points="218.75,98.05 229.50,95.95 240.00,92.80" fill="none" stroke="#2b4b8c" stroke-width="1.1" stroke-linejoin="round"/>
<line x1="240.00" y1="95.95" x2="240.00" y2="89.65" stroke="#2b4b8c" stroke-width="0.85"/>
<line x1="238.60" y1="95.95" x2="241.40" y2="95.95" stroke="#2b4b8c" stroke-width="0.85"/>
<line x1="238.60" y1="89.65" x2="241.40" y2="89.65" stroke="#2b4b8c" stroke-width="0.85"/>
<circle cx="218.75" cy="98.05" r="1.71" fill="#2b4b8c"/>
<circle cx="229.50" cy="95.95" r="1.71" fill="#2b4b8c"/>
<circle cx="240.00" cy="92.80" r="1.71" fill="#2b4b8c"/>
<polyline points="218.75,98.05 229.50,94.90 240.00,85.45" fill="none" stroke="#2b4b8c" stroke-width="1.1" stroke-dasharray="3,1.8" stroke-linejoin="round"/>
<line x1="240.00" y1="92.80" x2="240.00" y2="79.15" stroke="#2b4b8c" stroke-width="0.85"/>
<line x1="238.60" y1="92.80" x2="241.40" y2="92.80" stroke="#2b4b8c" stroke-width="0.85"/>
<line x1="238.60" y1="79.15" x2="241.40" y2="79.15" stroke="#2b4b8c" stroke-width="0.85"/>
<circle cx="218.75" cy="98.05" r="1.61" fill="#fff" stroke="#2b4b8c" stroke-width="0.95"/>
<circle cx="229.50" cy="94.90" r="1.61" fill="#fff" stroke="#2b4b8c" stroke-width="0.95"/>
<circle cx="240.00" cy="85.45" r="1.61" fill="#fff" stroke="#2b4b8c" stroke-width="0.95"/>
<polyline points="218.75,98.05 229.50,88.60 240.00,68.65" fill="none" stroke="#ad0e3a" stroke-width="1.1" stroke-linejoin="round"/>
<line x1="240.00" y1="71.80" x2="240.00" y2="65.50" stroke="#ad0e3a" stroke-width="0.85"/>
<line x1="238.60" y1="71.80" x2="241.40" y2="71.80" stroke="#ad0e3a" stroke-width="0.85"/>
<line x1="238.60" y1="65.50" x2="241.40" y2="65.50" stroke="#ad0e3a" stroke-width="0.85"/>
<circle cx="218.75" cy="98.05" r="1.71" fill="#ad0e3a"/>
<circle cx="229.50" cy="88.60" r="1.71" fill="#ad0e3a"/>
<circle cx="240.00" cy="68.65" r="1.71" fill="#ad0e3a"/>
<polyline points="218.75,98.05 229.50,89.65 240.00,70.75" fill="none" stroke="#ad0e3a" stroke-width="1.1" stroke-dasharray="3,1.8" stroke-linejoin="round"/>
<circle cx="218.75" cy="98.05" r="1.61" fill="#fff" stroke="#ad0e3a" stroke-width="0.95"/>
<circle cx="229.50" cy="89.65" r="1.61" fill="#fff" stroke="#ad0e3a" stroke-width="0.95"/>
<circle cx="240.00" cy="70.75" r="1.61" fill="#fff" stroke="#ad0e3a" stroke-width="0.95"/>
<line x1="268.75" y1="52.50" x2="268.75" y2="118.00" stroke="#111" stroke-width="1.1"/>
<line x1="265.95" y1="53.75" x2="268.75" y2="53.75" stroke="#111" stroke-width="0.9"/>
<text x="262.95" y="56.27" font-size="7" text-anchor="end" fill="#222" stroke="#222" stroke-width="0.18">3</text>
<line x1="265.95" y1="75.00" x2="268.75" y2="75.00" stroke="#111" stroke-width="0.9"/>
<text x="262.95" y="77.52" font-size="7" text-anchor="end" fill="#222" stroke="#222" stroke-width="0.18">2</text>
<line x1="265.95" y1="96.25" x2="268.75" y2="96.25" stroke="#111" stroke-width="0.9"/>
<text x="262.95" y="98.77" font-size="7" text-anchor="end" fill="#222" stroke="#222" stroke-width="0.18">1</text>
<line x1="265.95" y1="117.50" x2="268.75" y2="117.50" stroke="#111" stroke-width="0.9"/>
<text x="262.95" y="120.02" font-size="7" text-anchor="end" fill="#222" stroke="#222" stroke-width="0.18">0</text>
<line x1="268.25" y1="117.50" x2="303.00" y2="117.50" stroke="#111" stroke-width="1.1"/>
<line x1="275.00" y1="117.50" x2="275.00" y2="120.30" stroke="#111" stroke-width="0.9"/>
<text x="275.00" y="129.45" font-size="6.8" text-anchor="middle" fill="#222" stroke="#222" stroke-width="0.18">0</text>
<line x1="285.75" y1="117.50" x2="285.75" y2="120.30" stroke="#111" stroke-width="0.9"/>
<text x="285.75" y="129.45" font-size="6.8" text-anchor="middle" fill="#222" stroke="#222" stroke-width="0.18">4</text>
<line x1="296.25" y1="117.50" x2="296.25" y2="120.30" stroke="#111" stroke-width="0.9"/>
<text x="296.25" y="129.45" font-size="6.8" text-anchor="middle" fill="#222" stroke="#222" stroke-width="0.18">7</text>
<polyline points="275.00,111.12 285.75,112.83 296.25,111.12" fill="none" stroke="#6ab23e" stroke-width="1.1" stroke-linejoin="round"/>
<circle cx="275.00" cy="111.12" r="1.71" fill="#6ab23e"/>
<circle cx="285.75" cy="112.83" r="1.71" fill="#6ab23e"/>
<circle cx="296.25" cy="111.12" r="1.71" fill="#6ab23e"/>
<polyline points="275.00,112.19 285.75,112.83 296.25,111.12" fill="none" stroke="#6ab23e" stroke-width="1.1" stroke-dasharray="3,1.8" stroke-linejoin="round"/>
<circle cx="275.00" cy="112.19" r="1.61" fill="#fff" stroke="#6ab23e" stroke-width="0.95"/>
<circle cx="285.75" cy="112.83" r="1.61" fill="#fff" stroke="#6ab23e" stroke-width="0.95"/>
<circle cx="296.25" cy="111.12" r="1.61" fill="#fff" stroke="#6ab23e" stroke-width="0.95"/>
<polyline points="275.00,110.06 285.75,109.00 296.25,105.81" fill="none" stroke="#2b4b8c" stroke-width="1.1" stroke-linejoin="round"/>
<circle cx="275.00" cy="110.06" r="1.71" fill="#2b4b8c"/>
<circle cx="285.75" cy="109.00" r="1.71" fill="#2b4b8c"/>
<circle cx="296.25" cy="105.81" r="1.71" fill="#2b4b8c"/>
<polyline points="275.00,109.00 285.75,107.94 296.25,95.19" fill="none" stroke="#2b4b8c" stroke-width="1.1" stroke-dasharray="3,1.8" stroke-linejoin="round"/>
<line x1="285.75" y1="111.12" x2="285.75" y2="104.75" stroke="#2b4b8c" stroke-width="0.85"/>
<line x1="284.35" y1="111.12" x2="287.15" y2="111.12" stroke="#2b4b8c" stroke-width="0.85"/>
<line x1="284.35" y1="104.75" x2="287.15" y2="104.75" stroke="#2b4b8c" stroke-width="0.85"/>
<line x1="296.25" y1="100.50" x2="296.25" y2="89.88" stroke="#2b4b8c" stroke-width="0.85"/>
<line x1="294.85" y1="100.50" x2="297.65" y2="100.50" stroke="#2b4b8c" stroke-width="0.85"/>
<line x1="294.85" y1="89.88" x2="297.65" y2="89.88" stroke="#2b4b8c" stroke-width="0.85"/>
<circle cx="275.00" cy="109.00" r="1.61" fill="#fff" stroke="#2b4b8c" stroke-width="0.95"/>
<circle cx="285.75" cy="107.94" r="1.61" fill="#fff" stroke="#2b4b8c" stroke-width="0.95"/>
<circle cx="296.25" cy="95.19" r="1.61" fill="#fff" stroke="#2b4b8c" stroke-width="0.95"/>
<polyline points="275.00,109.00 285.75,84.56 296.25,76.06" fill="none" stroke="#ad0e3a" stroke-width="1.1" stroke-linejoin="round"/>
<line x1="285.75" y1="86.69" x2="285.75" y2="82.44" stroke="#ad0e3a" stroke-width="0.85"/>
<line x1="284.35" y1="86.69" x2="287.15" y2="86.69" stroke="#ad0e3a" stroke-width="0.85"/>
<line x1="284.35" y1="82.44" x2="287.15" y2="82.44" stroke="#ad0e3a" stroke-width="0.85"/>
<line x1="296.25" y1="78.19" x2="296.25" y2="73.94" stroke="#ad0e3a" stroke-width="0.85"/>
<line x1="294.85" y1="78.19" x2="297.65" y2="78.19" stroke="#ad0e3a" stroke-width="0.85"/>
<line x1="294.85" y1="73.94" x2="297.65" y2="73.94" stroke="#ad0e3a" stroke-width="0.85"/>
<circle cx="275.00" cy="109.00" r="1.71" fill="#ad0e3a"/>
<circle cx="285.75" cy="84.56" r="1.71" fill="#ad0e3a"/>
<circle cx="296.25" cy="76.06" r="1.71" fill="#ad0e3a"/>
<polyline points="275.00,110.06 285.75,78.19 296.25,64.38" fill="none" stroke="#ad0e3a" stroke-width="1.1" stroke-dasharray="3,1.8" stroke-linejoin="round"/>
<line x1="285.75" y1="80.31" x2="285.75" y2="76.06" stroke="#ad0e3a" stroke-width="0.85"/>
<line x1="284.35" y1="80.31" x2="287.15" y2="80.31" stroke="#ad0e3a" stroke-width="0.85"/>
<line x1="284.35" y1="76.06" x2="287.15" y2="76.06" stroke="#ad0e3a" stroke-width="0.85"/>
<line x1="296.25" y1="69.69" x2="296.25" y2="59.06" stroke="#ad0e3a" stroke-width="0.85"/>
<line x1="294.85" y1="69.69" x2="297.65" y2="69.69" stroke="#ad0e3a" stroke-width="0.85"/>
<line x1="294.85" y1="59.06" x2="297.65" y2="59.06" stroke="#ad0e3a" stroke-width="0.85"/>
<circle cx="275.00" cy="110.06" r="1.61" fill="#fff" stroke="#ad0e3a" stroke-width="0.95"/>
<circle cx="285.75" cy="78.19" r="1.61" fill="#fff" stroke="#ad0e3a" stroke-width="0.95"/>
<circle cx="296.25" cy="64.38" r="1.61" fill="#fff" stroke="#ad0e3a" stroke-width="0.95"/>
<line x1="299.50" y1="67.56" x2="303.50" y2="67.56" stroke="#ad0e3a" stroke-width="1.1" stroke-dasharray="1.5,1"/>
<line x1="299.00" y1="101.56" x2="303.50" y2="101.56" stroke="#2b4b8c" stroke-width="1.1" stroke-dasharray="1.5,1"/>
<line x1="333.20" y1="52.50" x2="333.20" y2="118.00" stroke="#111" stroke-width="1.1"/>
<line x1="330.40" y1="53.75" x2="333.20" y2="53.75" stroke="#111" stroke-width="0.9"/>
<text x="327.40" y="56.27" font-size="7" text-anchor="end" fill="#222" stroke="#222" stroke-width="0.18">6</text>
<line x1="330.40" y1="75.00" x2="333.20" y2="75.00" stroke="#111" stroke-width="0.9"/>
<text x="327.40" y="77.52" font-size="7" text-anchor="end" fill="#222" stroke="#222" stroke-width="0.18">4</text>
<line x1="330.40" y1="96.25" x2="333.20" y2="96.25" stroke="#111" stroke-width="0.9"/>
<text x="327.40" y="98.77" font-size="7" text-anchor="end" fill="#222" stroke="#222" stroke-width="0.18">2</text>
<line x1="330.40" y1="117.50" x2="333.20" y2="117.50" stroke="#111" stroke-width="0.9"/>
<text x="327.40" y="120.02" font-size="7" text-anchor="end" fill="#222" stroke="#222" stroke-width="0.18">0</text>
<line x1="332.70" y1="117.50" x2="367.50" y2="117.50" stroke="#111" stroke-width="1.1"/>
<line x1="340.00" y1="117.50" x2="340.00" y2="120.30" stroke="#111" stroke-width="0.9"/>
<text x="340.00" y="129.45" font-size="6.8" text-anchor="middle" fill="#222" stroke="#222" stroke-width="0.18">0</text>
<line x1="350.50" y1="117.50" x2="350.50" y2="120.30" stroke="#111" stroke-width="0.9"/>
<text x="350.50" y="129.45" font-size="6.8" text-anchor="middle" fill="#222" stroke="#222" stroke-width="0.18">4</text>
<line x1="360.75" y1="117.50" x2="360.75" y2="120.30" stroke="#111" stroke-width="0.9"/>
<text x="360.75" y="129.45" font-size="6.8" text-anchor="middle" fill="#222" stroke="#222" stroke-width="0.18">7</text>
<polyline points="340.00,105.81 350.50,105.81 360.75,104.75" fill="none" stroke="#6ab23e" stroke-width="1.1" stroke-linejoin="round"/>
<circle cx="340.00" cy="105.81" r="1.71" fill="#6ab23e"/>
<circle cx="350.50" cy="105.81" r="1.71" fill="#6ab23e"/>
<circle cx="360.75" cy="104.75" r="1.71" fill="#6ab23e"/>
<polyline points="340.00,105.81 350.50,106.88 360.75,105.81" fill="none" stroke="#6ab23e" stroke-width="1.1" stroke-dasharray="3,1.8" stroke-linejoin="round"/>
<circle cx="340.00" cy="105.81" r="1.61" fill="#fff" stroke="#6ab23e" stroke-width="0.95"/>
<circle cx="350.50" cy="106.88" r="1.61" fill="#fff" stroke="#6ab23e" stroke-width="0.95"/>
<circle cx="360.75" cy="105.81" r="1.61" fill="#fff" stroke="#6ab23e" stroke-width="0.95"/>
<polyline points="340.00,105.81 350.50,110.06 360.75,109.53" fill="none" stroke="#ad0e3a" stroke-width="1.1" stroke-linejoin="round"/>
<circle cx="340.00" cy="105.81" r="1.71" fill="#ad0e3a"/>
<circle cx="350.50" cy="110.06" r="1.71" fill="#ad0e3a"/>
<circle cx="360.75" cy="109.53" r="1.71" fill="#ad0e3a"/>
<polyline points="340.00,105.81 350.50,108.47 360.75,109.53" fill="none" stroke="#ad0e3a" stroke-width="1.1" stroke-dasharray="3,1.8" stroke-linejoin="round"/>
<circle cx="340.00" cy="105.81" r="1.61" fill="#fff" stroke="#ad0e3a" stroke-width="0.95"/>
<circle cx="350.50" cy="108.47" r="1.61" fill="#fff" stroke="#ad0e3a" stroke-width="0.95"/>
<circle cx="360.75" cy="109.53" r="1.61" fill="#fff" stroke="#ad0e3a" stroke-width="0.95"/>
<polyline points="340.00,106.34 350.50,98.91 360.75,67.56" fill="none" stroke="#2b4b8c" stroke-width="1.1" stroke-linejoin="round"/>
<line x1="350.50" y1="101.03" x2="350.50" y2="96.78" stroke="#2b4b8c" stroke-width="0.85"/>
<line x1="349.10" y1="101.03" x2="351.90" y2="101.03" stroke="#2b4b8c" stroke-width="0.85"/>
<line x1="349.10" y1="96.78" x2="351.90" y2="96.78" stroke="#2b4b8c" stroke-width="0.85"/>
<line x1="360.75" y1="71.81" x2="360.75" y2="63.31" stroke="#2b4b8c" stroke-width="0.85"/>
<line x1="359.35" y1="71.81" x2="362.15" y2="71.81" stroke="#2b4b8c" stroke-width="0.85"/>
<line x1="359.35" y1="63.31" x2="362.15" y2="63.31" stroke="#2b4b8c" stroke-width="0.85"/>
<circle cx="340.00" cy="106.34" r="1.71" fill="#2b4b8c"/>
<circle cx="350.50" cy="98.91" r="1.71" fill="#2b4b8c"/>
<circle cx="360.75" cy="67.56" r="1.71" fill="#2b4b8c"/>
<polyline points="340.00,106.88 350.50,99.44 360.75,72.88" fill="none" stroke="#2b4b8c" stroke-width="1.1" stroke-dasharray="3,1.8" stroke-linejoin="round"/>
<circle cx="340.00" cy="106.88" r="1.61" fill="#fff" stroke="#2b4b8c" stroke-width="0.95"/>
<circle cx="350.50" cy="99.44" r="1.61" fill="#fff" stroke="#2b4b8c" stroke-width="0.95"/>
<circle cx="360.75" cy="72.88" r="1.61" fill="#fff" stroke="#2b4b8c" stroke-width="0.95"/>
<line x1="389.50" y1="52.50" x2="389.50" y2="118.00" stroke="#111" stroke-width="1.1"/>
<line x1="386.70" y1="53.75" x2="389.50" y2="53.75" stroke="#111" stroke-width="0.9"/>
<text x="383.70" y="56.27" font-size="7" text-anchor="end" fill="#222" stroke="#222" stroke-width="0.18">10</text>
<line x1="386.70" y1="66.50" x2="389.50" y2="66.50" stroke="#111" stroke-width="0.9"/>
<text x="383.70" y="69.02" font-size="7" text-anchor="end" fill="#222" stroke="#222" stroke-width="0.18">8</text>
<line x1="386.70" y1="79.25" x2="389.50" y2="79.25" stroke="#111" stroke-width="0.9"/>
<text x="383.70" y="81.77" font-size="7" text-anchor="end" fill="#222" stroke="#222" stroke-width="0.18">6</text>
<line x1="386.70" y1="92.00" x2="389.50" y2="92.00" stroke="#111" stroke-width="0.9"/>
<text x="383.70" y="94.52" font-size="7" text-anchor="end" fill="#222" stroke="#222" stroke-width="0.18">4</text>
<line x1="386.70" y1="104.75" x2="389.50" y2="104.75" stroke="#111" stroke-width="0.9"/>
<text x="383.70" y="107.27" font-size="7" text-anchor="end" fill="#222" stroke="#222" stroke-width="0.18">2</text>
<line x1="386.70" y1="117.50" x2="389.50" y2="117.50" stroke="#111" stroke-width="0.9"/>
<text x="383.70" y="120.02" font-size="7" text-anchor="end" fill="#222" stroke="#222" stroke-width="0.18">0</text>
<line x1="389.00" y1="117.50" x2="424.50" y2="117.50" stroke="#111" stroke-width="1.1"/>
<line x1="396.25" y1="117.50" x2="396.25" y2="120.30" stroke="#111" stroke-width="0.9"/>
<text x="396.25" y="129.45" font-size="6.8" text-anchor="middle" fill="#222" stroke="#222" stroke-width="0.18">0</text>
<line x1="407.00" y1="117.50" x2="407.00" y2="120.30" stroke="#111" stroke-width="0.9"/>
<text x="407.00" y="129.45" font-size="6.8" text-anchor="middle" fill="#222" stroke="#222" stroke-width="0.18">4</text>
<line x1="417.50" y1="117.50" x2="417.50" y2="120.30" stroke="#111" stroke-width="0.9"/>
<text x="417.50" y="129.45" font-size="6.8" text-anchor="middle" fill="#222" stroke="#222" stroke-width="0.18">7</text>
<polyline points="396.25,115.59 407.00,115.59 417.50,115.59" fill="none" stroke="#6ab23e" stroke-width="1.1" stroke-linejoin="round"/>
<circle cx="396.25" cy="115.59" r="1.71" fill="#6ab23e"/>
<circle cx="407.00" cy="115.59" r="1.71" fill="#6ab23e"/>
<circle cx="417.50" cy="115.59" r="1.71" fill="#6ab23e"/>
<polyline points="396.25,115.59 407.00,114.95 417.50,115.59" fill="none" stroke="#6ab23e" stroke-width="1.1" stroke-dasharray="3,1.8" stroke-linejoin="round"/>
<circle cx="396.25" cy="115.59" r="1.61" fill="#fff" stroke="#6ab23e" stroke-width="0.95"/>
<circle cx="407.00" cy="114.95" r="1.61" fill="#fff" stroke="#6ab23e" stroke-width="0.95"/>
<circle cx="417.50" cy="115.59" r="1.61" fill="#fff" stroke="#6ab23e" stroke-width="0.95"/>
<polyline points="396.25,112.40 407.00,114.31 417.50,114.95" fill="none" stroke="#ad0e3a" stroke-width="1.1" stroke-linejoin="round"/>
<circle cx="396.25" cy="112.40" r="1.71" fill="#ad0e3a"/>
<circle cx="407.00" cy="114.31" r="1.71" fill="#ad0e3a"/>
<circle cx="417.50" cy="114.95" r="1.71" fill="#ad0e3a"/>
<polyline points="396.25,113.04 407.00,113.67 417.50,115.59" fill="none" stroke="#ad0e3a" stroke-width="1.1" stroke-dasharray="3,1.8" stroke-linejoin="round"/>
<circle cx="396.25" cy="113.04" r="1.61" fill="#fff" stroke="#ad0e3a" stroke-width="0.95"/>
<circle cx="407.00" cy="113.67" r="1.61" fill="#fff" stroke="#ad0e3a" stroke-width="0.95"/>
<circle cx="417.50" cy="115.59" r="1.61" fill="#fff" stroke="#ad0e3a" stroke-width="0.95"/>
<polyline points="396.25,113.67 407.00,109.85 417.50,93.28" fill="none" stroke="#2b4b8c" stroke-width="1.1" stroke-linejoin="round"/>
<line x1="417.50" y1="97.10" x2="417.50" y2="89.45" stroke="#2b4b8c" stroke-width="0.85"/>
<line x1="416.10" y1="97.10" x2="418.90" y2="97.10" stroke="#2b4b8c" stroke-width="0.85"/>
<line x1="416.10" y1="89.45" x2="418.90" y2="89.45" stroke="#2b4b8c" stroke-width="0.85"/>
<circle cx="396.25" cy="113.67" r="1.71" fill="#2b4b8c"/>
<circle cx="407.00" cy="109.85" r="1.71" fill="#2b4b8c"/>
<circle cx="417.50" cy="93.28" r="1.71" fill="#2b4b8c"/>
<polyline points="396.25,114.31 407.00,107.94 417.50,72.24" fill="none" stroke="#2b4b8c" stroke-width="1.1" stroke-dasharray="3,1.8" stroke-linejoin="round"/>
<line x1="417.50" y1="83.71" x2="417.50" y2="60.76" stroke="#2b4b8c" stroke-width="0.85"/>
<line x1="416.10" y1="83.71" x2="418.90" y2="83.71" stroke="#2b4b8c" stroke-width="0.85"/>
<line x1="416.10" y1="60.76" x2="418.90" y2="60.76" stroke="#2b4b8c" stroke-width="0.85"/>
<circle cx="396.25" cy="114.31" r="1.61" fill="#fff" stroke="#2b4b8c" stroke-width="0.95"/>
<circle cx="407.00" cy="107.94" r="1.61" fill="#fff" stroke="#2b4b8c" stroke-width="0.95"/>
<circle cx="417.50" cy="72.24" r="1.61" fill="#fff" stroke="#2b4b8c" stroke-width="0.95"/>
<line x1="419.00" y1="78.61" x2="426.00" y2="84.35" stroke="#2b4b8c" stroke-width="1.1" stroke-dasharray="2.2,1.6"/>
<line x1="258.30" y1="137.30" x2="264.70" y2="137.30" stroke="#6ab23e" stroke-width="0.9"/>
<circle cx="261.50" cy="137.30" r="2.30" fill="none" stroke="#6ab23e" stroke-width="0.9"/>
<text x="268.60" y="139.80" font-size="7.2" textLength="21.20" lengthAdjust="spacingAndGlyphs" font-style="italic" fill="#222" stroke="#222" stroke-width="0">WT-ND</text>
<polygon points="261.50,144.90 262.19,146.55 263.97,146.70 262.61,147.86 263.03,149.60 261.50,148.67 259.97,149.60 260.39,147.86 259.03,146.70 260.81,146.55" fill="#6ab23e"/>
<text x="268.60" y="150.00" font-size="7.2" textLength="26.20" lengthAdjust="spacingAndGlyphs" font-style="italic" fill="#222" stroke="#222" stroke-width="0">WT-HGD</text>
<line x1="297.10" y1="137.30" x2="303.50" y2="137.30" stroke="#2b4b8c" stroke-width="0.9"/>
<circle cx="300.30" cy="137.30" r="2.30" fill="none" stroke="#2b4b8c" stroke-width="0.9"/>
<text x="307.00" y="139.80" font-size="7.2" textLength="19.70" lengthAdjust="spacingAndGlyphs" font-style="italic" fill="#222" stroke="#222" stroke-width="0">VF-ND</text>
<polygon points="300.30,144.90 300.99,146.55 302.77,146.70 301.41,147.86 301.83,149.60 300.30,148.67 298.77,149.60 299.19,147.86 297.83,146.70 299.61,146.55" fill="#2b4b8c"/>
<text x="307.00" y="150.00" font-size="7.2" textLength="23.70" lengthAdjust="spacingAndGlyphs" font-style="italic" fill="#222" stroke="#222" stroke-width="0">VF-HGD</text>
<line x1="335.30" y1="137.30" x2="341.70" y2="137.30" stroke="#ad0e3a" stroke-width="0.9"/>
<circle cx="338.50" cy="137.30" r="2.30" fill="none" stroke="#ad0e3a" stroke-width="0.9"/>
<text x="344.60" y="139.80" font-size="7.2" textLength="26.20" lengthAdjust="spacingAndGlyphs" font-style="italic" fill="#222" stroke="#222" stroke-width="0">Ex12-ND</text>
<polygon points="338.50,144.90 339.19,146.55 340.97,146.70 339.61,147.86 340.03,149.60 338.50,148.67 336.97,149.60 337.39,147.86 336.03,146.70 337.81,146.55" fill="#ad0e3a"/>
<text x="344.60" y="150.00" font-size="7.2" textLength="30.80" lengthAdjust="spacingAndGlyphs" font-style="italic" fill="#222" stroke="#222" stroke-width="0">Ex12-HGD</text>
<text x="437.00" y="25.79" font-size="12" font-weight="bold" fill="#000" stroke="#000" stroke-width="0.18">C</text>
<text x="443.80" y="36.40" font-size="9.2" textLength="67.70" lengthAdjust="spacingAndGlyphs" fill="#1a1a1a" stroke="#1a1a1a" stroke-width="0.18">Spleen weight (g)</text>
<line x1="451.60" y1="55.20" x2="451.60" y2="118.00" stroke="#111" stroke-width="1.1"/>
<line x1="448.80" y1="57.50" x2="451.60" y2="57.50" stroke="#111" stroke-width="0.9"/>
<text x="445.80" y="60.02" font-size="7" text-anchor="end" fill="#222" stroke="#222" stroke-width="0.18">1.5</text>
<line x1="448.80" y1="77.50" x2="451.60" y2="77.50" stroke="#111" stroke-width="0.9"/>
<text x="445.80" y="80.02" font-size="7" text-anchor="end" fill="#222" stroke="#222" stroke-width="0.18">1.0</text>
<line x1="448.80" y1="97.50" x2="451.60" y2="97.50" stroke="#111" stroke-width="0.9"/>
<text x="445.80" y="100.02" font-size="7" text-anchor="end" fill="#222" stroke="#222" stroke-width="0.18">0.5</text>
<line x1="448.80" y1="117.50" x2="451.60" y2="117.50" stroke="#111" stroke-width="0.9"/>
<text x="445.80" y="120.02" font-size="7" text-anchor="end" fill="#222" stroke="#222" stroke-width="0.18">0</text>
<line x1="451.10" y1="117.50" x2="503.50" y2="117.50" stroke="#111" stroke-width="1.1"/>
<line x1="455.75" y1="114.30" x2="455.75" y2="113.50" stroke="#6ab23e" stroke-width="0.9"/>
<line x1="454.55" y1="113.50" x2="456.95" y2="113.50" stroke="#6ab23e" stroke-width="0.9"/>
<rect x="453.45" y="114.75" width="4.60" height="2.75" fill="#fff" stroke="#6ab23e" stroke-width="0.9"/>
<line x1="463.40" y1="115.30" x2="463.40" y2="114.70" stroke="#6ab23e" stroke-width="0.9"/>
<line x1="462.20" y1="114.70" x2="464.60" y2="114.70" stroke="#6ab23e" stroke-width="0.9"/>
<rect x="460.80" y="115.30" width="5.20" height="2.20" fill="#6ab23e"/>
<line x1="472.35" y1="105.50" x2="472.35" y2="103.90" stroke="#2b4b8c" stroke-width="0.9"/>
<line x1="471.15" y1="103.90" x2="473.55" y2="103.90" stroke="#2b4b8c" stroke-width="0.9"/>
<rect x="469.85" y="105.95" width="5.00" height="11.55" fill="#fff" stroke="#2b4b8c" stroke-width="0.9"/>
<line x1="480.20" y1="102.70" x2="480.20" y2="101.90" stroke="#2b4b8c" stroke-width="0.9"/>
<line x1="479.00" y1="101.90" x2="481.40" y2="101.90" stroke="#2b4b8c" stroke-width="0.9"/>
<rect x="477.60" y="102.70" width="5.20" height="14.80" fill="#2b4b8c"/>
<line x1="489.40" y1="85.50" x2="489.40" y2="82.70" stroke="#d9607e" stroke-width="0.9"/>
<line x1="488.20" y1="82.70" x2="490.60" y2="82.70" stroke="#d9607e" stroke-width="0.9"/>
<rect x="486.65" y="85.95" width="5.50" height="31.55" fill="#fff" stroke="#d9607e" stroke-width="0.9"/>
<line x1="497.65" y1="70.70" x2="497.65" y2="64.30" stroke="#a50a35" stroke-width="0.9"/>
<line x1="496.45" y1="64.30" x2="498.85" y2="64.30" stroke="#a50a35" stroke-width="0.9"/>
<rect x="494.90" y="70.70" width="5.50" height="46.80" fill="#a50a35"/>
<line x1="487.00" y1="61.10" x2="501.00" y2="61.10" stroke="#555" stroke-width="1.3"/>
<text x="497.50" y="59.60" font-size="6" text-anchor="middle" fill="#ad0e3a" stroke="#ad0e3a" stroke-width="0.18">*</text>
<text x="455.60" y="126.90" font-size="7" text-anchor="middle" fill="#222" stroke="#222" stroke-width="0.18">N</text>
<text x="463.50" y="126.90" font-size="7" text-anchor="middle" fill="#222" stroke="#222" stroke-width="0.18">H</text>
<text x="472.60" y="126.90" font-size="7" text-anchor="middle" fill="#222" stroke="#222" stroke-width="0.18">N</text>
<text x="480.00" y="126.90" font-size="7" text-anchor="middle" fill="#222" stroke="#222" stroke-width="0.18">H</text>
<text x="489.70" y="126.90" font-size="7" text-anchor="middle" fill="#222" stroke="#222" stroke-width="0.18">N</text>
<text x="497.50" y="126.90" font-size="7" text-anchor="middle" fill="#222" stroke="#222" stroke-width="0.18">H</text>
<line x1="452.50" y1="130.50" x2="466.30" y2="130.50" stroke="#777" stroke-width="1.5"/>
<text x="459.40" y="139.90" font-size="7" text-anchor="middle" font-style="italic" fill="#6ab23e" stroke="#6ab23e" stroke-width="0.18">WT</text>
<line x1="469.00" y1="130.50" x2="483.00" y2="130.50" stroke="#777" stroke-width="1.5"/>
<text x="476.00" y="139.90" font-size="7" text-anchor="middle" font-style="italic" fill="#2b4b8c" stroke="#2b4b8c" stroke-width="0.18">VF</text>
<line x1="486.50" y1="130.50" x2="500.50" y2="130.50" stroke="#777" stroke-width="1.5"/>
<text x="493.50" y="139.90" font-size="7" text-anchor="middle" font-style="italic" fill="#ad0e3a" stroke="#ad0e3a" stroke-width="0.18">E12</text>
<text x="34.50" y="164.80" font-size="10" textLength="320.00" lengthAdjust="spacingAndGlyphs" fill="#1a1a1a" stroke="#1a1a1a" stroke-width="0.18">Effects of fasting-feeding on blood glucose levels, blood counts and spleen weight</text>
<text x="7.50" y="175.39" font-size="12" font-weight="bold" fill="#000" stroke="#000" stroke-width="0.18">D</text>
<text x="28.00" y="185.90" font-size="9.2" textLength="97.50" lengthAdjust="spacingAndGlyphs" fill="#1a1a1a" stroke="#1a1a1a" stroke-width="0.18">Non-fasting glucose (g/L)</text>
<line x1="35.00" y1="200.00" x2="35.00" y2="260.00" stroke="#111" stroke-width="1.1"/>
<line x1="32.20" y1="201.50" x2="35.00" y2="201.50" stroke="#111" stroke-width="0.9"/>
<text x="29.20" y="204.02" font-size="7" text-anchor="end" fill="#222" stroke="#222" stroke-width="0.18">2.0</text>
<line x1="32.20" y1="216.00" x2="35.00" y2="216.00" stroke="#111" stroke-width="0.9"/>
<text x="29.20" y="218.52" font-size="7" text-anchor="end" fill="#222" stroke="#222" stroke-width="0.18">1.5</text>
<line x1="32.20" y1="230.50" x2="35.00" y2="230.50" stroke="#111" stroke-width="0.9"/>
<text x="29.20" y="233.02" font-size="7" text-anchor="end" fill="#222" stroke="#222" stroke-width="0.18">1.0</text>
<line x1="32.20" y1="245.00" x2="35.00" y2="245.00" stroke="#111" stroke-width="0.9"/>
<text x="29.20" y="247.52" font-size="7" text-anchor="end" fill="#222" stroke="#222" stroke-width="0.18">0.5</text>
<line x1="32.20" y1="259.50" x2="35.00" y2="259.50" stroke="#111" stroke-width="0.9"/>
<text x="29.20" y="262.02" font-size="7" text-anchor="end" fill="#222" stroke="#222" stroke-width="0.18">0.0</text>
<line x1="34.50" y1="259.50" x2="121.25" y2="259.50" stroke="#111" stroke-width="1.1"/>
<line x1="43.75" y1="259.50" x2="43.75" y2="262.30" stroke="#111" stroke-width="0.9"/>
<text x="43.75" y="271.45" font-size="6.8" text-anchor="middle" fill="#222" stroke="#222" stroke-width="0.18">0</text>
<line x1="57.50" y1="259.50" x2="57.50" y2="262.30" stroke="#111" stroke-width="0.9"/>
<text x="57.50" y="271.45" font-size="6.8" text-anchor="middle" fill="#222" stroke="#222" stroke-width="0.18">1</text>
<line x1="71.25" y1="259.50" x2="71.25" y2="262.30" stroke="#111" stroke-width="0.9"/>
<text x="71.25" y="271.45" font-size="6.8" text-anchor="middle" fill="#222" stroke="#222" stroke-width="0.18">2</text>
<line x1="85.00" y1="259.50" x2="85.00" y2="262.30" stroke="#111" stroke-width="0.9"/>
<text x="85.00" y="271.45" font-size="6.8" text-anchor="middle" fill="#222" stroke="#222" stroke-width="0.18">3</text>
<line x1="98.75" y1="259.50" x2="98.75" y2="262.30" stroke="#111" stroke-width="0.9"/>
<text x="98.75" y="271.45" font-size="6.8" text-anchor="middle" fill="#222" stroke="#222" stroke-width="0.18">4</text>
<line x1="112.50" y1="259.50" x2="112.50" y2="262.30" stroke="#111" stroke-width="0.9"/>
<text x="112.50" y="271.45" font-size="6.8" text-anchor="middle" fill="#222" stroke="#222" stroke-width="0.18">5</text>
<text x="77.60" y="283.40" font-size="9.2" text-anchor="middle" textLength="20.20" lengthAdjust="spacingAndGlyphs" fill="#1a1a1a" stroke="#1a1a1a" stroke-width="0.12">Weeks</text>
<polyline points="43.75,220.93 57.50,229.05 71.25,238.62 85.00,225.28 98.75,236.30 112.50,235.43" fill="none" stroke="#6ab23e" stroke-width="1.25" stroke-dasharray="3,1.8" stroke-linejoin="round"/>
<line x1="43.75" y1="219.19" x2="43.75" y2="222.67" stroke="#6ab23e" stroke-width="0.85"/>
<line x1="42.35" y1="219.19" x2="45.15" y2="219.19" stroke="#6ab23e" stroke-width="0.85"/>
<line x1="42.35" y1="222.67" x2="45.15" y2="222.67" stroke="#6ab23e" stroke-width="0.85"/>
<line x1="57.50" y1="227.31" x2="57.50" y2="230.79" stroke="#6ab23e" stroke-width="0.85"/>
<line x1="56.10" y1="227.31" x2="58.90" y2="227.31" stroke="#6ab23e" stroke-width="0.85"/>
<line x1="56.10" y1="230.79" x2="58.90" y2="230.79" stroke="#6ab23e" stroke-width="0.85"/>
<line x1="71.25" y1="236.88" x2="71.25" y2="240.36" stroke="#6ab23e" stroke-width="0.85"/>
<line x1="69.85" y1="236.88" x2="72.65" y2="236.88" stroke="#6ab23e" stroke-width="0.85"/>
<line x1="69.85" y1="240.36" x2="72.65" y2="240.36" stroke="#6ab23e" stroke-width="0.85"/>
<line x1="85.00" y1="223.54" x2="85.00" y2="227.02" stroke="#6ab23e" stroke-width="0.85"/>
<line x1="83.60" y1="223.54" x2="86.40" y2="223.54" stroke="#6ab23e" stroke-width="0.85"/>
<line x1="83.60" y1="227.02" x2="86.40" y2="227.02" stroke="#6ab23e" stroke-width="0.85"/>
<line x1="98.75" y1="234.56" x2="98.75" y2="238.04" stroke="#6ab23e" stroke-width="0.85"/>
<line x1="97.35" y1="234.56" x2="100.15" y2="234.56" stroke="#6ab23e" stroke-width="0.85"/>
<line x1="97.35" y1="238.04" x2="100.15" y2="238.04" stroke="#6ab23e" stroke-width="0.85"/>
<line x1="112.50" y1="233.69" x2="112.50" y2="237.17" stroke="#6ab23e" stroke-width="0.85"/>
<line x1="111.10" y1="233.69" x2="113.90" y2="233.69" stroke="#6ab23e" stroke-width="0.85"/>
<line x1="111.10" y1="237.17" x2="113.90" y2="237.17" stroke="#6ab23e" stroke-width="0.85"/>
<circle cx="43.75" cy="220.93" r="1.95" fill="#fff" stroke="#6ab23e" stroke-width="0.95"/>
<circle cx="57.50" cy="229.05" r="1.95" fill="#fff" stroke="#6ab23e" stroke-width="0.95"/>
<circle cx="71.25" cy="238.62" r="1.95" fill="#fff" stroke="#6ab23e" stroke-width="0.95"/>
<circle cx="85.00" cy="225.28" r="1.95" fill="#fff" stroke="#6ab23e" stroke-width="0.95"/>
<circle cx="98.75" cy="236.30" r="1.95" fill="#fff" stroke="#6ab23e" stroke-width="0.95"/>
<circle cx="112.50" cy="235.43" r="1.95" fill="#fff" stroke="#6ab23e" stroke-width="0.95"/>
<polyline points="43.75,218.90 57.50,231.95 71.25,238.62 85.00,228.18 98.75,229.34 112.50,231.37" fill="none" stroke="#2b4b8c" stroke-width="1.25" stroke-dasharray="3,1.8" stroke-linejoin="round"/>
<line x1="43.75" y1="217.16" x2="43.75" y2="220.64" stroke="#2b4b8c" stroke-width="0.85"/>
<line x1="42.35" y1="217.16" x2="45.15" y2="217.16" stroke="#2b4b8c" stroke-width="0.85"/>
<line x1="42.35" y1="220.64" x2="45.15" y2="220.64" stroke="#2b4b8c" stroke-width="0.85"/>
<line x1="57.50" y1="230.21" x2="57.50" y2="233.69" stroke="#2b4b8c" stroke-width="0.85"/>
<line x1="56.10" y1="230.21" x2="58.90" y2="230.21" stroke="#2b4b8c" stroke-width="0.85"/>
<line x1="56.10" y1="233.69" x2="58.90" y2="233.69" stroke="#2b4b8c" stroke-width="0.85"/>
<line x1="71.25" y1="236.88" x2="71.25" y2="240.36" stroke="#2b4b8c" stroke-width="0.85"/>
<line x1="69.85" y1="236.88" x2="72.65" y2="236.88" stroke="#2b4b8c" stroke-width="0.85"/>
<line x1="69.85" y1="240.36" x2="72.65" y2="240.36" stroke="#2b4b8c" stroke-width="0.85"/>
<line x1="85.00" y1="226.44" x2="85.00" y2="229.92" stroke="#2b4b8c" stroke-width="0.85"/>
<line x1="83.60" y1="226.44" x2="86.40" y2="226.44" stroke="#2b4b8c" stroke-width="0.85"/>
<line x1="83.60" y1="229.92" x2="86.40" y2="229.92" stroke="#2b4b8c" stroke-width="0.85"/>
<line x1="98.75" y1="227.60" x2="98.75" y2="231.08" stroke="#2b4b8c" stroke-width="0.85"/>
<line x1="97.35" y1="227.60" x2="100.15" y2="227.60" stroke="#2b4b8c" stroke-width="0.85"/>
<line x1="97.35" y1="231.08" x2="100.15" y2="231.08" stroke="#2b4b8c" stroke-width="0.85"/>
<line x1="112.50" y1="229.63" x2="112.50" y2="233.11" stroke="#2b4b8c" stroke-width="0.85"/>
<line x1="111.10" y1="229.63" x2="113.90" y2="229.63" stroke="#2b4b8c" stroke-width="0.85"/>
<line x1="111.10" y1="233.11" x2="113.90" y2="233.11" stroke="#2b4b8c" stroke-width="0.85"/>
<circle cx="43.75" cy="218.90" r="1.95" fill="#fff" stroke="#2b4b8c" stroke-width="0.95"/>
<circle cx="57.50" cy="231.95" r="1.95" fill="#fff" stroke="#2b4b8c" stroke-width="0.95"/>
<circle cx="71.25" cy="238.62" r="1.95" fill="#fff" stroke="#2b4b8c" stroke-width="0.95"/>
<circle cx="85.00" cy="228.18" r="1.95" fill="#fff" stroke="#2b4b8c" stroke-width="0.95"/>
<circle cx="98.75" cy="229.34" r="1.95" fill="#fff" stroke="#2b4b8c" stroke-width="0.95"/>
<circle cx="112.50" cy="231.37" r="1.95" fill="#fff" stroke="#2b4b8c" stroke-width="0.95"/>
<polyline points="43.75,229.05 57.50,238.62 71.25,248.48 85.00,248.48 98.75,249.35 112.50,252.25" fill="none" stroke="#ad0e3a" stroke-width="1.25" stroke-dasharray="3,1.8" stroke-linejoin="round"/>
<line x1="43.75" y1="227.31" x2="43.75" y2="230.79" stroke="#ad0e3a" stroke-width="0.85"/>
<line x1="42.35" y1="227.31" x2="45.15" y2="227.31" stroke="#ad0e3a" stroke-width="0.85"/>
<line x1="42.35" y1="230.79" x2="45.15" y2="230.79" stroke="#ad0e3a" stroke-width="0.85"/>
<line x1="57.50" y1="236.88" x2="57.50" y2="240.36" stroke="#ad0e3a" stroke-width="0.85"/>
<line x1="56.10" y1="236.88" x2="58.90" y2="236.88" stroke="#ad0e3a" stroke-width="0.85"/>
<line x1="56.10" y1="240.36" x2="58.90" y2="240.36" stroke="#ad0e3a" stroke-width="0.85"/>
<line x1="71.25" y1="246.74" x2="71.25" y2="250.22" stroke="#ad0e3a" stroke-width="0.85"/>
<line x1="69.85" y1="246.74" x2="72.65" y2="246.74" stroke="#ad0e3a" stroke-width="0.85"/>
<line x1="69.85" y1="250.22" x2="72.65" y2="250.22" stroke="#ad0e3a" stroke-width="0.85"/>
<line x1="85.00" y1="246.74" x2="85.00" y2="250.22" stroke="#ad0e3a" stroke-width="0.85"/>
<line x1="83.60" y1="246.74" x2="86.40" y2="246.74" stroke="#ad0e3a" stroke-width="0.85"/>
<line x1="83.60" y1="250.22" x2="86.40" y2="250.22" stroke="#ad0e3a" stroke-width="0.85"/>
<line x1="98.75" y1="247.61" x2="98.75" y2="251.09" stroke="#ad0e3a" stroke-width="0.85"/>
<line x1="97.35" y1="247.61" x2="100.15" y2="247.61" stroke="#ad0e3a" stroke-width="0.85"/>
<line x1="97.35" y1="251.09" x2="100.15" y2="251.09" stroke="#ad0e3a" stroke-width="0.85"/>
<line x1="112.50" y1="250.51" x2="112.50" y2="253.99" stroke="#ad0e3a" stroke-width="0.85"/>
<line x1="111.10" y1="250.51" x2="113.90" y2="250.51" stroke="#ad0e3a" stroke-width="0.85"/>
<line x1="111.10" y1="253.99" x2="113.90" y2="253.99" stroke="#ad0e3a" stroke-width="0.85"/>
<circle cx="43.75" cy="229.05" r="1.95" fill="#fff" stroke="#ad0e3a" stroke-width="0.95"/>
<circle cx="57.50" cy="238.62" r="1.95" fill="#fff" stroke="#ad0e3a" stroke-width="0.95"/>
<circle cx="71.25" cy="248.48" r="1.95" fill="#fff" stroke="#ad0e3a" stroke-width="0.95"/>
<circle cx="85.00" cy="248.48" r="1.95" fill="#fff" stroke="#ad0e3a" stroke-width="0.95"/>
<circle cx="98.75" cy="249.35" r="1.95" fill="#fff" stroke="#ad0e3a" stroke-width="0.95"/>
<circle cx="112.50" cy="252.25" r="1.95" fill="#fff" stroke="#ad0e3a" stroke-width="0.95"/>
<polyline points="43.75,216.58 57.50,226.15 71.25,213.10 85.00,216.87 98.75,219.77 112.50,216.58" fill="none" stroke="#6ab23e" stroke-width="1.25" stroke-linejoin="round"/>
<line x1="43.75" y1="214.84" x2="43.75" y2="218.32" stroke="#6ab23e" stroke-width="0.85"/>
<line x1="42.35" y1="214.84" x2="45.15" y2="214.84" stroke="#6ab23e" stroke-width="0.85"/>
<line x1="42.35" y1="218.32" x2="45.15" y2="218.32" stroke="#6ab23e" stroke-width="0.85"/>
<line x1="57.50" y1="224.41" x2="57.50" y2="227.89" stroke="#6ab23e" stroke-width="0.85"/>
<line x1="56.10" y1="224.41" x2="58.90" y2="224.41" stroke="#6ab23e" stroke-width="0.85"/>
<line x1="56.10" y1="227.89" x2="58.90" y2="227.89" stroke="#6ab23e" stroke-width="0.85"/>
<line x1="71.25" y1="211.36" x2="71.25" y2="214.84" stroke="#6ab23e" stroke-width="0.85"/>
<line x1="69.85" y1="211.36" x2="72.65" y2="211.36" stroke="#6ab23e" stroke-width="0.85"/>
<line x1="69.85" y1="214.84" x2="72.65" y2="214.84" stroke="#6ab23e" stroke-width="0.85"/>
<line x1="85.00" y1="215.13" x2="85.00" y2="218.61" stroke="#6ab23e" stroke-width="0.85"/>
<line x1="83.60" y1="215.13" x2="86.40" y2="215.13" stroke="#6ab23e" stroke-width="0.85"/>
<line x1="83.60" y1="218.61" x2="86.40" y2="218.61" stroke="#6ab23e" stroke-width="0.85"/>
<line x1="98.75" y1="218.03" x2="98.75" y2="221.51" stroke="#6ab23e" stroke-width="0.85"/>
<line x1="97.35" y1="218.03" x2="100.15" y2="218.03" stroke="#6ab23e" stroke-width="0.85"/>
<line x1="97.35" y1="221.51" x2="100.15" y2="221.51" stroke="#6ab23e" stroke-width="0.85"/>
<line x1="112.50" y1="214.84" x2="112.50" y2="218.32" stroke="#6ab23e" stroke-width="0.85"/>
<line x1="111.10" y1="214.84" x2="113.90" y2="214.84" stroke="#6ab23e" stroke-width="0.85"/>
<line x1="111.10" y1="218.32" x2="113.90" y2="218.32" stroke="#6ab23e" stroke-width="0.85"/>
<circle cx="43.75" cy="216.58" r="2.30" fill="#6ab23e"/>
<circle cx="57.50" cy="226.15" r="2.30" fill="#6ab23e"/>
<circle cx="71.25" cy="213.10" r="2.30" fill="#6ab23e"/>
<circle cx="85.00" cy="216.87" r="2.30" fill="#6ab23e"/>
<circle cx="98.75" cy="219.77" r="2.30" fill="#6ab23e"/>
<circle cx="112.50" cy="216.58" r="2.30" fill="#6ab23e"/>
<polyline points="43.75,218.03 57.50,219.48 71.25,213.97 85.00,216.87 98.75,224.12 112.50,224.12" fill="none" stroke="#2b4b8c" stroke-width="1.25" stroke-linejoin="round"/>
<line x1="43.75" y1="216.29" x2="43.75" y2="219.77" stroke="#2b4b8c" stroke-width="0.85"/>
<line x1="42.35" y1="216.29" x2="45.15" y2="216.29" stroke="#2b4b8c" stroke-width="0.85"/>
<line x1="42.35" y1="219.77" x2="45.15" y2="219.77" stroke="#2b4b8c" stroke-width="0.85"/>
<line x1="57.50" y1="217.74" x2="57.50" y2="221.22" stroke="#2b4b8c" stroke-width="0.85"/>
<line x1="56.10" y1="217.74" x2="58.90" y2="217.74" stroke="#2b4b8c" stroke-width="0.85"/>
<line x1="56.10" y1="221.22" x2="58.90" y2="221.22" stroke="#2b4b8c" stroke-width="0.85"/>
<line x1="71.25" y1="212.23" x2="71.25" y2="215.71" stroke="#2b4b8c" stroke-width="0.85"/>
<line x1="69.85" y1="212.23" x2="72.65" y2="212.23" stroke="#2b4b8c" stroke-width="0.85"/>
<line x1="69.85" y1="215.71" x2="72.65" y2="215.71" stroke="#2b4b8c" stroke-width="0.85"/>
<line x1="85.00" y1="215.13" x2="85.00" y2="218.61" stroke="#2b4b8c" stroke-width="0.85"/>
<line x1="83.60" y1="215.13" x2="86.40" y2="215.13" stroke="#2b4b8c" stroke-width="0.85"/>
<line x1="83.60" y1="218.61" x2="86.40" y2="218.61" stroke="#2b4b8c" stroke-width="0.85"/>
<line x1="98.75" y1="222.38" x2="98.75" y2="225.86" stroke="#2b4b8c" stroke-width="0.85"/>
<line x1="97.35" y1="222.38" x2="100.15" y2="222.38" stroke="#2b4b8c" stroke-width="0.85"/>
<line x1="97.35" y1="225.86" x2="100.15" y2="225.86" stroke="#2b4b8c" stroke-width="0.85"/>
<line x1="112.50" y1="222.38" x2="112.50" y2="225.86" stroke="#2b4b8c" stroke-width="0.85"/>
<line x1="111.10" y1="222.38" x2="113.90" y2="222.38" stroke="#2b4b8c" stroke-width="0.85"/>
<line x1="111.10" y1="225.86" x2="113.90" y2="225.86" stroke="#2b4b8c" stroke-width="0.85"/>
<circle cx="43.75" cy="218.03" r="2.30" fill="#2b4b8c"/>
<circle cx="57.50" cy="219.48" r="2.30" fill="#2b4b8c"/>
<circle cx="71.25" cy="213.97" r="2.30" fill="#2b4b8c"/>
<circle cx="85.00" cy="216.87" r="2.30" fill="#2b4b8c"/>
<circle cx="98.75" cy="224.12" r="2.30" fill="#2b4b8c"/>
<circle cx="112.50" cy="224.12" r="2.30" fill="#2b4b8c"/>
<polyline points="43.75,233.40 57.50,239.20 71.25,247.90 85.00,247.32 98.75,249.35 112.50,249.93" fill="none" stroke="#ad0e3a" stroke-width="1.25" stroke-linejoin="round"/>
<line x1="43.75" y1="231.66" x2="43.75" y2="235.14" stroke="#ad0e3a" stroke-width="0.85"/>
<line x1="42.35" y1="231.66" x2="45.15" y2="231.66" stroke="#ad0e3a" stroke-width="0.85"/>
<line x1="42.35" y1="235.14" x2="45.15" y2="235.14" stroke="#ad0e3a" stroke-width="0.85"/>
<line x1="57.50" y1="237.46" x2="57.50" y2="240.94" stroke="#ad0e3a" stroke-width="0.85"/>
<line x1="56.10" y1="237.46" x2="58.90" y2="237.46" stroke="#ad0e3a" stroke-width="0.85"/>
<line x1="56.10" y1="240.94" x2="58.90" y2="240.94" stroke="#ad0e3a" stroke-width="0.85"/>
<line x1="71.25" y1="246.16" x2="71.25" y2="249.64" stroke="#ad0e3a" stroke-width="0.85"/>
<line x1="69.85" y1="246.16" x2="72.65" y2="246.16" stroke="#ad0e3a" stroke-width="0.85"/>
<line x1="69.85" y1="249.64" x2="72.65" y2="249.64" stroke="#ad0e3a" stroke-width="0.85"/>
<line x1="85.00" y1="245.58" x2="85.00" y2="249.06" stroke="#ad0e3a" stroke-width="0.85"/>
<line x1="83.60" y1="245.58" x2="86.40" y2="245.58" stroke="#ad0e3a" stroke-width="0.85"/>
<line x1="83.60" y1="249.06" x2="86.40" y2="249.06" stroke="#ad0e3a" stroke-width="0.85"/>
<line x1="98.75" y1="247.61" x2="98.75" y2="251.09" stroke="#ad0e3a" stroke-width="0.85"/>
<line x1="97.35" y1="247.61" x2="100.15" y2="247.61" stroke="#ad0e3a" stroke-width="0.85"/>
<line x1="97.35" y1="251.09" x2="100.15" y2="251.09" stroke="#ad0e3a" stroke-width="0.85"/>
<line x1="112.50" y1="248.19" x2="112.50" y2="251.67" stroke="#ad0e3a" stroke-width="0.85"/>
<line x1="111.10" y1="248.19" x2="113.90" y2="248.19" stroke="#ad0e3a" stroke-width="0.85"/>
<line x1="111.10" y1="251.67" x2="113.90" y2="251.67" stroke="#ad0e3a" stroke-width="0.85"/>
<circle cx="43.75" cy="233.40" r="2.30" fill="#ad0e3a"/>
<circle cx="57.50" cy="239.20" r="2.30" fill="#ad0e3a"/>
<circle cx="71.25" cy="247.90" r="2.30" fill="#ad0e3a"/>
<circle cx="85.00" cy="247.32" r="2.30" fill="#ad0e3a"/>
<circle cx="98.75" cy="249.35" r="2.30" fill="#ad0e3a"/>
<circle cx="112.50" cy="249.93" r="2.30" fill="#ad0e3a"/>
<text x="134.50" y="175.39" font-size="12" font-weight="bold" fill="#000" stroke="#000" stroke-width="0.18">E</text>
<text x="168.50" y="185.30" font-size="9.2" text-anchor="middle" textLength="48.00" lengthAdjust="spacingAndGlyphs" fill="#1a1a1a" stroke="#1a1a1a" stroke-width="0.18">Hemoglobin</text>
<text x="168.50" y="194.90" font-size="9.2" text-anchor="middle" fill="#1a1a1a" stroke="#1a1a1a" stroke-width="0.18">(g/L)</text>
<text x="229.00" y="185.30" font-size="9.2" text-anchor="middle" fill="#1a1a1a" stroke="#1a1a1a" stroke-width="0.18">RBC</text>
<text x="229.00" y="194.90" font-size="9.2" text-anchor="middle" textLength="33.50" lengthAdjust="spacingAndGlyphs" fill="#1a1a1a" stroke="#1a1a1a" stroke-width="0.18">(x10<tspan font-size="6.6" dy="-3.3">12</tspan><tspan dy="3.3">/L)</tspan></text>
<text x="286.00" y="185.30" font-size="9.2" text-anchor="middle" textLength="50.80" lengthAdjust="spacingAndGlyphs" fill="#1a1a1a" stroke="#1a1a1a" stroke-width="0.18">Reticulocytes</text>
<text x="286.00" y="194.90" font-size="9.2" text-anchor="middle" textLength="33.50" lengthAdjust="spacingAndGlyphs" fill="#1a1a1a" stroke="#1a1a1a" stroke-width="0.18">(x10<tspan font-size="6.6" dy="-3.3">12</tspan><tspan dy="3.3">/L)</tspan></text>
<text x="350.20" y="185.30" font-size="9.2" text-anchor="middle" textLength="33.20" lengthAdjust="spacingAndGlyphs" fill="#1a1a1a" stroke="#1a1a1a" stroke-width="0.18">Platelets</text>
<text x="350.20" y="194.90" font-size="9.2" text-anchor="middle" textLength="33.50" lengthAdjust="spacingAndGlyphs" fill="#1a1a1a" stroke="#1a1a1a" stroke-width="0.18">(x10<tspan font-size="6.6" dy="-3.3">12</tspan><tspan dy="3.3">/L)</tspan></text>
<text x="406.00" y="185.30" font-size="9.2" text-anchor="middle" textLength="44.50" lengthAdjust="spacingAndGlyphs" fill="#1a1a1a" stroke="#1a1a1a" stroke-width="0.18">Neutrophils</text>
<text x="406.00" y="194.90" font-size="9.2" text-anchor="middle" textLength="30.50" lengthAdjust="spacingAndGlyphs" fill="#1a1a1a" stroke="#1a1a1a" stroke-width="0.18">(x10<tspan font-size="6.6" dy="-3.3">9</tspan><tspan dy="3.3">/L)</tspan></text>
<line x1="150.50" y1="206.00" x2="150.50" y2="260.50" stroke="#111" stroke-width="1.1"/>
<line x1="147.70" y1="208.25" x2="150.50" y2="208.25" stroke="#111" stroke-width="0.9"/>
<text x="144.70" y="210.77" font-size="7" text-anchor="end" fill="#222" stroke="#222" stroke-width="0.18">300</text>
<line x1="147.70" y1="225.50" x2="150.50" y2="225.50" stroke="#111" stroke-width="0.9"/>
<text x="144.70" y="228.02" font-size="7" text-anchor="end" fill="#222" stroke="#222" stroke-width="0.18">200</text>
<line x1="147.70" y1="242.75" x2="150.50" y2="242.75" stroke="#111" stroke-width="0.9"/>
<text x="144.70" y="245.27" font-size="7" text-anchor="end" fill="#222" stroke="#222" stroke-width="0.18">100</text>
<line x1="147.70" y1="260.00" x2="150.50" y2="260.00" stroke="#111" stroke-width="0.9"/>
<text x="144.70" y="262.52" font-size="7" text-anchor="end" fill="#222" stroke="#222" stroke-width="0.18">0</text>
<line x1="150.00" y1="260.00" x2="185.00" y2="260.00" stroke="#111" stroke-width="1.1"/>
<line x1="159.50" y1="260.00" x2="159.50" y2="262.80" stroke="#111" stroke-width="0.9"/>
<text x="159.50" y="272.15" font-size="6.8" text-anchor="middle" fill="#222" stroke="#222" stroke-width="0.18">0</text>
<line x1="177.00" y1="260.00" x2="177.00" y2="262.80" stroke="#111" stroke-width="0.9"/>
<text x="177.00" y="272.15" font-size="6.8" text-anchor="middle" fill="#222" stroke="#222" stroke-width="0.18">9</text>
<polyline points="159.50,245.34 177.00,241.37" fill="none" stroke="#6ab23e" stroke-width="1.1" stroke-linejoin="round"/>
<line x1="177.00" y1="243.09" x2="177.00" y2="239.65" stroke="#6ab23e" stroke-width="0.85"/>
<line x1="175.60" y1="243.09" x2="178.40" y2="243.09" stroke="#6ab23e" stroke-width="0.85"/>
<line x1="175.60" y1="239.65" x2="178.40" y2="239.65" stroke="#6ab23e" stroke-width="0.85"/>
<circle cx="159.50" cy="245.34" r="2.00" fill="#6ab23e"/>
<circle cx="177.00" cy="241.37" r="2.00" fill="#6ab23e"/>
<polyline points="159.50,244.82 177.00,235.85" fill="none" stroke="#6ab23e" stroke-width="1.1" stroke-dasharray="3,1.8" stroke-linejoin="round"/>
<line x1="177.00" y1="237.92" x2="177.00" y2="233.78" stroke="#6ab23e" stroke-width="0.85"/>
<line x1="175.60" y1="237.92" x2="178.40" y2="237.92" stroke="#6ab23e" stroke-width="0.85"/>
<line x1="175.60" y1="233.78" x2="178.40" y2="233.78" stroke="#6ab23e" stroke-width="0.85"/>
<circle cx="159.50" cy="244.82" r="1.70" fill="#fff" stroke="#6ab23e" stroke-width="0.95"/>
<circle cx="177.00" cy="235.85" r="1.70" fill="#fff" stroke="#6ab23e" stroke-width="0.95"/>
<polyline points="159.50,246.20 177.00,238.44" fill="none" stroke="#2b4b8c" stroke-width="1.1" stroke-linejoin="round"/>
<circle cx="159.50" cy="246.20" r="2.00" fill="#2b4b8c"/>
<circle cx="177.00" cy="238.44" r="2.00" fill="#2b4b8c"/>
<polyline points="159.50,245.34 177.00,237.06" fill="none" stroke="#2b4b8c" stroke-width="1.1" stroke-dasharray="3,1.8" stroke-linejoin="round"/>
<circle cx="159.50" cy="245.34" r="1.70" fill="#fff" stroke="#2b4b8c" stroke-width="0.95"/>
<circle cx="177.00" cy="237.06" r="1.70" fill="#fff" stroke="#2b4b8c" stroke-width="0.95"/>
<polyline points="159.50,242.75 177.00,216.01" fill="none" stroke="#ad0e3a" stroke-width="1.1" stroke-linejoin="round"/>
<line x1="159.50" y1="244.47" x2="159.50" y2="241.03" stroke="#ad0e3a" stroke-width="0.85"/>
<line x1="158.10" y1="244.47" x2="160.90" y2="244.47" stroke="#ad0e3a" stroke-width="0.85"/>
<line x1="158.10" y1="241.03" x2="160.90" y2="241.03" stroke="#ad0e3a" stroke-width="0.85"/>
<line x1="177.00" y1="220.67" x2="177.00" y2="210.84" stroke="#ad0e3a" stroke-width="0.85"/>
<line x1="175.60" y1="220.67" x2="178.40" y2="220.67" stroke="#ad0e3a" stroke-width="0.85"/>
<line x1="175.60" y1="210.84" x2="178.40" y2="210.84" stroke="#ad0e3a" stroke-width="0.85"/>
<circle cx="159.50" cy="242.75" r="2.00" fill="#ad0e3a"/>
<circle cx="177.00" cy="216.01" r="2.00" fill="#ad0e3a"/>
<polyline points="159.50,243.61 177.00,228.95" fill="none" stroke="#ad0e3a" stroke-width="1.1" stroke-dasharray="3,1.8" stroke-linejoin="round"/>
<line x1="177.00" y1="232.06" x2="177.00" y2="225.84" stroke="#ad0e3a" stroke-width="0.85"/>
<line x1="175.60" y1="232.06" x2="178.40" y2="232.06" stroke="#ad0e3a" stroke-width="0.85"/>
<line x1="175.60" y1="225.84" x2="178.40" y2="225.84" stroke="#ad0e3a" stroke-width="0.85"/>
<circle cx="159.50" cy="243.61" r="1.70" fill="#fff" stroke="#ad0e3a" stroke-width="0.95"/>
<circle cx="177.00" cy="228.95" r="1.70" fill="#fff" stroke="#ad0e3a" stroke-width="0.95"/>
<text x="168.00" y="272.10" font-size="6.8" text-anchor="middle" fill="#333" stroke="#333" stroke-width="0.18">4</text>
<rect x="168.50" y="255.50" width="8.50" height="2.20" fill="#e58a1f"/>
<text x="168.00" y="283.30" font-size="7.6" text-anchor="middle" textLength="42.00" lengthAdjust="spacingAndGlyphs" fill="#222" stroke="#222" stroke-width="0.18">Fed-fast cycles</text>
<rect x="168.50" y="289.70" width="8.50" height="2.20" fill="#e58a1f"/>
<text x="177.00" y="206.00" font-size="6" text-anchor="middle" fill="#ad0e3a" stroke="#ad0e3a" stroke-width="0.18">**</text>
<line x1="212.00" y1="206.00" x2="212.00" y2="260.50" stroke="#111" stroke-width="1.1"/>
<line x1="209.20" y1="208.25" x2="212.00" y2="208.25" stroke="#111" stroke-width="0.9"/>
<text x="206.20" y="210.77" font-size="7" text-anchor="end" fill="#222" stroke="#222" stroke-width="0.18">30</text>
<line x1="209.20" y1="225.50" x2="212.00" y2="225.50" stroke="#111" stroke-width="0.9"/>
<text x="206.20" y="228.02" font-size="7" text-anchor="end" fill="#222" stroke="#222" stroke-width="0.18">20</text>
<line x1="209.20" y1="242.75" x2="212.00" y2="242.75" stroke="#111" stroke-width="0.9"/>
<text x="206.20" y="245.27" font-size="7" text-anchor="end" fill="#222" stroke="#222" stroke-width="0.18">10</text>
<line x1="209.20" y1="260.00" x2="212.00" y2="260.00" stroke="#111" stroke-width="0.9"/>
<text x="206.20" y="262.52" font-size="7" text-anchor="end" fill="#222" stroke="#222" stroke-width="0.18">0</text>
<line x1="211.50" y1="260.00" x2="246.30" y2="260.00" stroke="#111" stroke-width="1.1"/>
<line x1="220.50" y1="260.00" x2="220.50" y2="262.80" stroke="#111" stroke-width="0.9"/>
<text x="220.50" y="272.15" font-size="6.8" text-anchor="middle" fill="#222" stroke="#222" stroke-width="0.18">0</text>
<line x1="238.00" y1="260.00" x2="238.00" y2="262.80" stroke="#111" stroke-width="0.9"/>
<text x="238.00" y="272.15" font-size="6.8" text-anchor="middle" fill="#222" stroke="#222" stroke-width="0.18">9</text>
<polyline points="220.50,249.65 238.00,246.20" fill="none" stroke="#6ab23e" stroke-width="1.1" stroke-linejoin="round"/>
<circle cx="220.50" cy="249.65" r="2.00" fill="#6ab23e"/>
<circle cx="238.00" cy="246.20" r="2.00" fill="#6ab23e"/>
<polyline points="220.50,249.65 238.00,244.47" fill="none" stroke="#6ab23e" stroke-width="1.1" stroke-dasharray="3,1.8" stroke-linejoin="round"/>
<circle cx="220.50" cy="249.65" r="1.70" fill="#fff" stroke="#6ab23e" stroke-width="0.95"/>
<circle cx="238.00" cy="244.47" r="1.70" fill="#fff" stroke="#6ab23e" stroke-width="0.95"/>
<polyline points="220.50,250.51 238.00,244.47" fill="none" stroke="#2b4b8c" stroke-width="1.1" stroke-linejoin="round"/>
<circle cx="220.50" cy="250.51" r="2.00" fill="#2b4b8c"/>
<circle cx="238.00" cy="244.47" r="2.00" fill="#2b4b8c"/>
<polyline points="220.50,249.65 238.00,245.34" fill="none" stroke="#2b4b8c" stroke-width="1.1" stroke-dasharray="3,1.8" stroke-linejoin="round"/>
<circle cx="220.50" cy="249.65" r="1.70" fill="#fff" stroke="#2b4b8c" stroke-width="0.95"/>
<circle cx="238.00" cy="245.34" r="1.70" fill="#fff" stroke="#2b4b8c" stroke-width="0.95"/>
<polyline points="220.50,247.93 238.00,225.50" fill="none" stroke="#ad0e3a" stroke-width="1.1" stroke-linejoin="round"/>
<line x1="238.00" y1="232.40" x2="238.00" y2="218.60" stroke="#ad0e3a" stroke-width="0.85"/>
<line x1="236.60" y1="232.40" x2="239.40" y2="232.40" stroke="#ad0e3a" stroke-width="0.85"/>
<line x1="236.60" y1="218.60" x2="239.40" y2="218.60" stroke="#ad0e3a" stroke-width="0.85"/>
<circle cx="220.50" cy="247.93" r="2.00" fill="#ad0e3a"/>
<circle cx="238.00" cy="225.50" r="2.00" fill="#ad0e3a"/>
<polyline points="220.50,248.79 238.00,236.71" fill="none" stroke="#ad0e3a" stroke-width="1.1" stroke-dasharray="3,1.8" stroke-linejoin="round"/>
<line x1="238.00" y1="240.16" x2="238.00" y2="232.40" stroke="#ad0e3a" stroke-width="0.85"/>
<line x1="236.60" y1="240.16" x2="239.40" y2="240.16" stroke="#ad0e3a" stroke-width="0.85"/>
<line x1="236.60" y1="232.40" x2="239.40" y2="232.40" stroke="#ad0e3a" stroke-width="0.85"/>
<circle cx="220.50" cy="248.79" r="1.70" fill="#fff" stroke="#ad0e3a" stroke-width="0.95"/>
<circle cx="238.00" cy="236.71" r="1.70" fill="#fff" stroke="#ad0e3a" stroke-width="0.95"/>
<text x="238.00" y="216.00" font-size="6" text-anchor="middle" fill="#ad0e3a" stroke="#ad0e3a" stroke-width="0.18">*</text>
<line x1="268.75" y1="206.00" x2="268.75" y2="260.50" stroke="#111" stroke-width="1.1"/>
<line x1="265.95" y1="208.25" x2="268.75" y2="208.25" stroke="#111" stroke-width="0.9"/>
<text x="262.95" y="210.77" font-size="7" text-anchor="end" fill="#222" stroke="#222" stroke-width="0.18">2.5</text>
<line x1="265.95" y1="218.60" x2="268.75" y2="218.60" stroke="#111" stroke-width="0.9"/>
<text x="262.95" y="221.12" font-size="7" text-anchor="end" fill="#222" stroke="#222" stroke-width="0.18">2.0</text>
<line x1="265.95" y1="228.95" x2="268.75" y2="228.95" stroke="#111" stroke-width="0.9"/>
<text x="262.95" y="231.47" font-size="7" text-anchor="end" fill="#222" stroke="#222" stroke-width="0.18">1.5</text>
<line x1="265.95" y1="239.30" x2="268.75" y2="239.30" stroke="#111" stroke-width="0.9"/>
<text x="262.95" y="241.82" font-size="7" text-anchor="end" fill="#222" stroke="#222" stroke-width="0.18">1.0</text>
<line x1="265.95" y1="249.65" x2="268.75" y2="249.65" stroke="#111" stroke-width="0.9"/>
<text x="262.95" y="252.17" font-size="7" text-anchor="end" fill="#222" stroke="#222" stroke-width="0.18">0.5</text>
<line x1="265.95" y1="260.00" x2="268.75" y2="260.00" stroke="#111" stroke-width="0.9"/>
<text x="262.95" y="262.52" font-size="7" text-anchor="end" fill="#222" stroke="#222" stroke-width="0.18">0.0</text>
<line x1="268.25" y1="260.00" x2="303.25" y2="260.00" stroke="#111" stroke-width="1.1"/>
<line x1="276.75" y1="260.00" x2="276.75" y2="262.80" stroke="#111" stroke-width="0.9"/>
<text x="276.75" y="272.15" font-size="6.8" text-anchor="middle" fill="#222" stroke="#222" stroke-width="0.18">0</text>
<line x1="294.50" y1="260.00" x2="294.50" y2="262.80" stroke="#111" stroke-width="0.9"/>
<text x="294.50" y="272.15" font-size="6.8" text-anchor="middle" fill="#222" stroke="#222" stroke-width="0.18">9</text>
<polyline points="276.75,256.27 294.50,252.13" fill="none" stroke="#6ab23e" stroke-width="1.1" stroke-linejoin="round"/>
<circle cx="276.75" cy="256.27" r="2.00" fill="#6ab23e"/>
<circle cx="294.50" cy="252.13" r="2.00" fill="#6ab23e"/>
<polyline points="276.75,256.27 294.50,252.75" fill="none" stroke="#6ab23e" stroke-width="1.1" stroke-dasharray="3,1.8" stroke-linejoin="round"/>
<circle cx="276.75" cy="256.27" r="1.70" fill="#fff" stroke="#6ab23e" stroke-width="0.95"/>
<circle cx="294.50" cy="252.75" r="1.70" fill="#fff" stroke="#6ab23e" stroke-width="0.95"/>
<polyline points="276.75,256.27 294.50,253.79" fill="none" stroke="#2b4b8c" stroke-width="1.1" stroke-linejoin="round"/>
<circle cx="276.75" cy="256.27" r="2.00" fill="#2b4b8c"/>
<circle cx="294.50" cy="253.79" r="2.00" fill="#2b4b8c"/>
<polyline points="276.75,256.27 294.50,253.38" fill="none" stroke="#2b4b8c" stroke-width="1.1" stroke-dasharray="3,1.8" stroke-linejoin="round"/>
<circle cx="276.75" cy="256.27" r="1.70" fill="#fff" stroke="#2b4b8c" stroke-width="0.95"/>
<circle cx="294.50" cy="253.38" r="1.70" fill="#fff" stroke="#2b4b8c" stroke-width="0.95"/>
<polyline points="276.75,256.27 294.50,222.12" fill="none" stroke="#ad0e3a" stroke-width="1.1" stroke-linejoin="round"/>
<line x1="294.50" y1="229.99" x2="294.50" y2="213.43" stroke="#ad0e3a" stroke-width="0.85"/>
<line x1="293.10" y1="229.99" x2="295.90" y2="229.99" stroke="#ad0e3a" stroke-width="0.85"/>
<line x1="293.10" y1="213.43" x2="295.90" y2="213.43" stroke="#ad0e3a" stroke-width="0.85"/>
<circle cx="276.75" cy="256.27" r="2.00" fill="#ad0e3a"/>
<circle cx="294.50" cy="222.12" r="2.00" fill="#ad0e3a"/>
<polyline points="276.75,256.27 294.50,236.19" fill="none" stroke="#ad0e3a" stroke-width="1.1" stroke-dasharray="3,1.8" stroke-linejoin="round"/>
<line x1="294.50" y1="238.68" x2="294.50" y2="233.09" stroke="#ad0e3a" stroke-width="0.85"/>
<line x1="293.10" y1="238.68" x2="295.90" y2="238.68" stroke="#ad0e3a" stroke-width="0.85"/>
<line x1="293.10" y1="233.09" x2="295.90" y2="233.09" stroke="#ad0e3a" stroke-width="0.85"/>
<circle cx="276.75" cy="256.27" r="1.70" fill="#fff" stroke="#ad0e3a" stroke-width="0.95"/>
<circle cx="294.50" cy="236.19" r="1.70" fill="#fff" stroke="#ad0e3a" stroke-width="0.95"/>
<text x="294.50" y="214.00" font-size="6" text-anchor="middle" fill="#ad0e3a" stroke="#ad0e3a" stroke-width="0.18">*</text>
<line x1="332.50" y1="206.00" x2="332.50" y2="260.50" stroke="#111" stroke-width="1.1"/>
<line x1="329.70" y1="208.20" x2="332.50" y2="208.20" stroke="#111" stroke-width="0.9"/>
<text x="326.70" y="210.72" font-size="7" text-anchor="end" fill="#222" stroke="#222" stroke-width="0.18">2.0</text>
<line x1="329.70" y1="221.15" x2="332.50" y2="221.15" stroke="#111" stroke-width="0.9"/>
<text x="326.70" y="223.67" font-size="7" text-anchor="end" fill="#222" stroke="#222" stroke-width="0.18">1.5</text>
<line x1="329.70" y1="234.10" x2="332.50" y2="234.10" stroke="#111" stroke-width="0.9"/>
<text x="326.70" y="236.62" font-size="7" text-anchor="end" fill="#222" stroke="#222" stroke-width="0.18">1.0</text>
<line x1="329.70" y1="247.05" x2="332.50" y2="247.05" stroke="#111" stroke-width="0.9"/>
<text x="326.70" y="249.57" font-size="7" text-anchor="end" fill="#222" stroke="#222" stroke-width="0.18">0.5</text>
<line x1="329.70" y1="260.00" x2="332.50" y2="260.00" stroke="#111" stroke-width="0.9"/>
<text x="326.70" y="262.52" font-size="7" text-anchor="end" fill="#222" stroke="#222" stroke-width="0.18">0.0</text>
<line x1="332.00" y1="260.00" x2="367.50" y2="260.00" stroke="#111" stroke-width="1.1"/>
<line x1="342.00" y1="260.00" x2="342.00" y2="262.80" stroke="#111" stroke-width="0.9"/>
<text x="342.00" y="272.15" font-size="6.8" text-anchor="middle" fill="#222" stroke="#222" stroke-width="0.18">0</text>
<line x1="359.25" y1="260.00" x2="359.25" y2="262.80" stroke="#111" stroke-width="0.9"/>
<text x="359.25" y="272.15" font-size="6.8" text-anchor="middle" fill="#222" stroke="#222" stroke-width="0.18">9</text>
<polyline points="342.00,247.05 359.25,244.46" fill="none" stroke="#ad0e3a" stroke-width="1.1" stroke-linejoin="round"/>
<line x1="359.25" y1="247.05" x2="359.25" y2="240.57" stroke="#ad0e3a" stroke-width="0.85"/>
<line x1="357.85" y1="247.05" x2="360.65" y2="247.05" stroke="#ad0e3a" stroke-width="0.85"/>
<line x1="357.85" y1="240.57" x2="360.65" y2="240.57" stroke="#ad0e3a" stroke-width="0.85"/>
<circle cx="342.00" cy="247.05" r="2.00" fill="#ad0e3a"/>
<circle cx="359.25" cy="244.46" r="2.00" fill="#ad0e3a"/>
<polyline points="342.00,245.75 359.25,243.16" fill="none" stroke="#ad0e3a" stroke-width="1.1" stroke-dasharray="3,1.8" stroke-linejoin="round"/>
<circle cx="342.00" cy="245.75" r="1.70" fill="#fff" stroke="#ad0e3a" stroke-width="0.95"/>
<circle cx="359.25" cy="243.16" r="1.70" fill="#fff" stroke="#ad0e3a" stroke-width="0.95"/>
<polyline points="342.00,245.75 359.25,237.99" fill="none" stroke="#6ab23e" stroke-width="1.1" stroke-linejoin="round"/>
<circle cx="342.00" cy="245.75" r="2.00" fill="#6ab23e"/>
<circle cx="359.25" cy="237.99" r="2.00" fill="#6ab23e"/>
<polyline points="342.00,244.46 359.25,232.81" fill="none" stroke="#6ab23e" stroke-width="1.1" stroke-dasharray="3,1.8" stroke-linejoin="round"/>
<circle cx="342.00" cy="244.46" r="1.70" fill="#fff" stroke="#6ab23e" stroke-width="0.95"/>
<circle cx="359.25" cy="232.81" r="1.70" fill="#fff" stroke="#6ab23e" stroke-width="0.95"/>
<polyline points="342.00,244.46 359.25,227.62" fill="none" stroke="#2b4b8c" stroke-width="1.1" stroke-linejoin="round"/>
<circle cx="342.00" cy="244.46" r="2.00" fill="#2b4b8c"/>
<circle cx="359.25" cy="227.62" r="2.00" fill="#2b4b8c"/>
<polyline points="342.00,243.16 359.25,223.74" fill="none" stroke="#2b4b8c" stroke-width="1.1" stroke-dasharray="3,1.8" stroke-linejoin="round"/>
<line x1="359.25" y1="226.33" x2="359.25" y2="221.15" stroke="#2b4b8c" stroke-width="0.85"/>
<line x1="357.85" y1="226.33" x2="360.65" y2="226.33" stroke="#2b4b8c" stroke-width="0.85"/>
<line x1="357.85" y1="221.15" x2="360.65" y2="221.15" stroke="#2b4b8c" stroke-width="0.85"/>
<circle cx="342.00" cy="243.16" r="1.70" fill="#fff" stroke="#2b4b8c" stroke-width="0.95"/>
<circle cx="359.25" cy="223.74" r="1.70" fill="#fff" stroke="#2b4b8c" stroke-width="0.95"/>
<line x1="389.60" y1="206.00" x2="389.60" y2="260.50" stroke="#111" stroke-width="1.1"/>
<line x1="386.80" y1="208.40" x2="389.60" y2="208.40" stroke="#111" stroke-width="0.9"/>
<text x="383.80" y="210.92" font-size="7" text-anchor="end" fill="#222" stroke="#222" stroke-width="0.18">1.0</text>
<line x1="386.80" y1="218.80" x2="389.60" y2="218.80" stroke="#111" stroke-width="0.9"/>
<text x="383.80" y="221.32" font-size="7" text-anchor="end" fill="#222" stroke="#222" stroke-width="0.18">0.8</text>
<line x1="386.80" y1="229.20" x2="389.60" y2="229.20" stroke="#111" stroke-width="0.9"/>
<text x="383.80" y="231.72" font-size="7" text-anchor="end" fill="#222" stroke="#222" stroke-width="0.18">0.6</text>
<line x1="386.80" y1="239.60" x2="389.60" y2="239.60" stroke="#111" stroke-width="0.9"/>
<text x="383.80" y="242.12" font-size="7" text-anchor="end" fill="#222" stroke="#222" stroke-width="0.18">0.4</text>
<line x1="386.80" y1="250.00" x2="389.60" y2="250.00" stroke="#111" stroke-width="0.9"/>
<text x="383.80" y="252.52" font-size="7" text-anchor="end" fill="#222" stroke="#222" stroke-width="0.18">0.2</text>
<line x1="386.80" y1="260.40" x2="389.60" y2="260.40" stroke="#111" stroke-width="0.9"/>
<text x="383.80" y="262.92" font-size="7" text-anchor="end" fill="#222" stroke="#222" stroke-width="0.18">0.0</text>
<line x1="389.10" y1="260.00" x2="424.00" y2="260.00" stroke="#111" stroke-width="1.1"/>
<line x1="398.00" y1="260.00" x2="398.00" y2="262.80" stroke="#111" stroke-width="0.9"/>
<text x="398.00" y="272.15" font-size="6.8" text-anchor="middle" fill="#222" stroke="#222" stroke-width="0.18">0</text>
<line x1="415.30" y1="260.00" x2="415.30" y2="262.80" stroke="#111" stroke-width="0.9"/>
<text x="415.30" y="272.15" font-size="6.8" text-anchor="middle" fill="#222" stroke="#222" stroke-width="0.18">9</text>
<polyline points="398.00,234.40 415.30,237.00" fill="none" stroke="#6ab23e" stroke-width="1.1" stroke-linejoin="round"/>
<circle cx="398.00" cy="234.40" r="2.00" fill="#6ab23e"/>
<circle cx="415.30" cy="237.00" r="2.00" fill="#6ab23e"/>
<polyline points="398.00,240.64 415.30,238.04" fill="none" stroke="#6ab23e" stroke-width="1.1" stroke-dasharray="3,1.8" stroke-linejoin="round"/>
<line x1="398.00" y1="244.80" x2="398.00" y2="213.60" stroke="#6ab23e" stroke-width="0.85"/>
<line x1="396.60" y1="244.80" x2="399.40" y2="244.80" stroke="#6ab23e" stroke-width="0.85"/>
<line x1="396.60" y1="213.60" x2="399.40" y2="213.60" stroke="#6ab23e" stroke-width="0.85"/>
<line x1="415.30" y1="242.20" x2="415.30" y2="234.40" stroke="#6ab23e" stroke-width="0.85"/>
<line x1="413.90" y1="242.20" x2="416.70" y2="242.20" stroke="#6ab23e" stroke-width="0.85"/>
<line x1="413.90" y1="234.40" x2="416.70" y2="234.40" stroke="#6ab23e" stroke-width="0.85"/>
<circle cx="398.00" cy="240.64" r="1.70" fill="#fff" stroke="#6ab23e" stroke-width="0.95"/>
<circle cx="415.30" cy="238.04" r="1.70" fill="#fff" stroke="#6ab23e" stroke-width="0.95"/>
<polyline points="398.00,231.80 415.30,235.44" fill="none" stroke="#2b4b8c" stroke-width="1.1" stroke-linejoin="round"/>
<circle cx="398.00" cy="231.80" r="2.00" fill="#2b4b8c"/>
<circle cx="415.30" cy="235.44" r="2.00" fill="#2b4b8c"/>
<polyline points="398.00,217.76 415.30,234.40" fill="none" stroke="#2b4b8c" stroke-width="1.1" stroke-dasharray="3,1.8" stroke-linejoin="round"/>
<circle cx="398.00" cy="217.76" r="1.70" fill="#fff" stroke="#2b4b8c" stroke-width="0.95"/>
<circle cx="415.30" cy="234.40" r="1.70" fill="#fff" stroke="#2b4b8c" stroke-width="0.95"/>
<polyline points="398.00,230.76 415.30,235.96" fill="none" stroke="#ad0e3a" stroke-width="1.1" stroke-linejoin="round"/>
<line x1="398.00" y1="237.00" x2="398.00" y2="224.00" stroke="#ad0e3a" stroke-width="0.85"/>
<line x1="396.60" y1="237.00" x2="399.40" y2="237.00" stroke="#ad0e3a" stroke-width="0.85"/>
<line x1="396.60" y1="224.00" x2="399.40" y2="224.00" stroke="#ad0e3a" stroke-width="0.85"/>
<circle cx="398.00" cy="230.76" r="2.00" fill="#ad0e3a"/>
<circle cx="415.30" cy="235.96" r="2.00" fill="#ad0e3a"/>
<polyline points="398.00,237.00 415.30,227.64" fill="none" stroke="#ad0e3a" stroke-width="1.1" stroke-dasharray="3,1.8" stroke-linejoin="round"/>
<line x1="415.30" y1="237.00" x2="415.30" y2="218.80" stroke="#ad0e3a" stroke-width="0.85"/>
<line x1="413.90" y1="237.00" x2="416.70" y2="237.00" stroke="#ad0e3a" stroke-width="0.85"/>
<line x1="413.90" y1="218.80" x2="416.70" y2="218.80" stroke="#ad0e3a" stroke-width="0.85"/>
<circle cx="398.00" cy="237.00" r="1.70" fill="#fff" stroke="#ad0e3a" stroke-width="0.95"/>
<circle cx="415.30" cy="227.64" r="1.70" fill="#fff" stroke="#ad0e3a" stroke-width="0.95"/>
<line x1="200.30" y1="280.50" x2="207.30" y2="280.50" stroke="#6ab23e" stroke-width="0.9"/>
<circle cx="203.80" cy="280.50" r="2.30" fill="#6ab23e"/>
<text x="210.00" y="283.10" font-size="7.4" textLength="27.70" lengthAdjust="spacingAndGlyphs" fill="#222" stroke="#222" stroke-width="0.05">WT - Fed</text>
<line x1="200.60" y1="290.70" x2="207.00" y2="290.70" stroke="#6ab23e" stroke-width="0.9"/>
<circle cx="203.80" cy="290.70" r="2.30" fill="none" stroke="#6ab23e" stroke-width="0.9"/>
<text x="210.00" y="293.30" font-size="7.4" textLength="40.00" lengthAdjust="spacingAndGlyphs" fill="#222" stroke="#222" stroke-width="0.05">WT - Fed-fast</text>
<line x1="260.30" y1="280.50" x2="267.30" y2="280.50" stroke="#2b4b8c" stroke-width="0.9"/>
<circle cx="263.80" cy="280.50" r="2.30" fill="#2b4b8c"/>
<text x="270.00" y="283.10" font-size="7.4" textLength="28.00" lengthAdjust="spacingAndGlyphs" fill="#222" stroke="#222" stroke-width="0.05">SF1 - Fed</text>
<line x1="260.60" y1="290.70" x2="267.00" y2="290.70" stroke="#2b4b8c" stroke-width="0.9"/>
<circle cx="263.80" cy="290.70" r="2.30" fill="none" stroke="#2b4b8c" stroke-width="0.9"/>
<text x="270.00" y="293.30" font-size="7.4" textLength="40.70" lengthAdjust="spacingAndGlyphs" fill="#222" stroke="#222" stroke-width="0.05">SF1 - Fed-fast</text>
<line x1="321.00" y1="280.50" x2="328.00" y2="280.50" stroke="#ad0e3a" stroke-width="0.9"/>
<circle cx="324.50" cy="280.50" r="2.30" fill="#ad0e3a"/>
<text x="330.50" y="283.10" font-size="7.4" textLength="29.00" lengthAdjust="spacingAndGlyphs" fill="#222" stroke="#222" stroke-width="0.05">SN1 - Fed</text>
<line x1="321.30" y1="290.70" x2="327.70" y2="290.70" stroke="#ad0e3a" stroke-width="0.9"/>
<circle cx="324.50" cy="290.70" r="2.30" fill="none" stroke="#ad0e3a" stroke-width="0.9"/>
<text x="330.50" y="293.30" font-size="7.4" textLength="41.40" lengthAdjust="spacingAndGlyphs" fill="#222" stroke="#222" stroke-width="0.05">SN1 - Fed-fast</text>
<text x="437.00" y="176.39" font-size="12" font-weight="bold" fill="#000" stroke="#000" stroke-width="0.18">F</text>
<text x="445.60" y="185.10" font-size="9.2" textLength="67.20" lengthAdjust="spacingAndGlyphs" fill="#1a1a1a" stroke="#1a1a1a" stroke-width="0.18">Spleen weight (g)</text>
<line x1="453.60" y1="197.00" x2="453.60" y2="260.90" stroke="#111" stroke-width="1.1"/>
<line x1="450.80" y1="199.50" x2="453.60" y2="199.50" stroke="#111" stroke-width="0.9"/>
<text x="447.80" y="202.02" font-size="7" text-anchor="end" fill="#222" stroke="#222" stroke-width="0.18">0.6</text>
<line x1="450.80" y1="209.65" x2="453.60" y2="209.65" stroke="#111" stroke-width="0.9"/>
<text x="447.80" y="212.17" font-size="7" text-anchor="end" fill="#222" stroke="#222" stroke-width="0.18">0.5</text>
<line x1="450.80" y1="219.80" x2="453.60" y2="219.80" stroke="#111" stroke-width="0.9"/>
<text x="447.80" y="222.32" font-size="7" text-anchor="end" fill="#222" stroke="#222" stroke-width="0.18">0.4</text>
<line x1="450.80" y1="229.95" x2="453.60" y2="229.95" stroke="#111" stroke-width="0.9"/>
<text x="447.80" y="232.47" font-size="7" text-anchor="end" fill="#222" stroke="#222" stroke-width="0.18">0.3</text>
<line x1="450.80" y1="240.10" x2="453.60" y2="240.10" stroke="#111" stroke-width="0.9"/>
<text x="447.80" y="242.62" font-size="7" text-anchor="end" fill="#222" stroke="#222" stroke-width="0.18">0.2</text>
<line x1="450.80" y1="250.25" x2="453.60" y2="250.25" stroke="#111" stroke-width="0.9"/>
<text x="447.80" y="252.77" font-size="7" text-anchor="end" fill="#222" stroke="#222" stroke-width="0.18">0.1</text>
<line x1="450.80" y1="260.40" x2="453.60" y2="260.40" stroke="#111" stroke-width="0.9"/>
<text x="447.80" y="262.92" font-size="7" text-anchor="end" fill="#222" stroke="#222" stroke-width="0.18">0.0</text>
<line x1="453.10" y1="260.40" x2="505.00" y2="260.40" stroke="#111" stroke-width="1.1"/>
<line x1="457.70" y1="250.76" x2="457.70" y2="249.74" stroke="#6ab23e" stroke-width="0.9"/>
<line x1="456.50" y1="249.74" x2="458.90" y2="249.74" stroke="#6ab23e" stroke-width="0.9"/>
<rect x="455.10" y="250.76" width="5.20" height="9.64" fill="#6ab23e"/>
<line x1="464.60" y1="252.79" x2="464.60" y2="252.28" stroke="#6ab23e" stroke-width="0.9"/>
<line x1="463.40" y1="252.28" x2="465.80" y2="252.28" stroke="#6ab23e" stroke-width="0.9"/>
<rect x="462.15" y="253.24" width="4.90" height="7.16" fill="#fff" stroke="#6ab23e" stroke-width="0.9"/>
<line x1="474.25" y1="249.23" x2="474.25" y2="247.71" stroke="#2b4b8c" stroke-width="0.9"/>
<line x1="473.05" y1="247.71" x2="475.45" y2="247.71" stroke="#2b4b8c" stroke-width="0.9"/>
<rect x="471.50" y="249.23" width="5.50" height="11.16" fill="#2b4b8c"/>
<line x1="481.35" y1="252.28" x2="481.35" y2="251.77" stroke="#2b4b8c" stroke-width="0.9"/>
<line x1="480.15" y1="251.77" x2="482.55" y2="251.77" stroke="#2b4b8c" stroke-width="0.9"/>
<rect x="478.95" y="252.73" width="4.80" height="7.67" fill="#fff" stroke="#2b4b8c" stroke-width="0.9"/>
<line x1="491.60" y1="209.65" x2="491.60" y2="203.05" stroke="#a50a35" stroke-width="0.9"/>
<line x1="490.40" y1="203.05" x2="492.80" y2="203.05" stroke="#a50a35" stroke-width="0.9"/>
<rect x="488.30" y="209.65" width="6.60" height="50.75" fill="#a50a35"/>
<line x1="499.20" y1="226.90" x2="499.20" y2="225.89" stroke="#d9607e" stroke-width="0.9"/>
<line x1="498.00" y1="225.89" x2="500.40" y2="225.89" stroke="#d9607e" stroke-width="0.9"/>
<rect x="496.75" y="227.35" width="4.90" height="33.05" fill="#fff" stroke="#d9607e" stroke-width="0.9"/>
<line x1="489.70" y1="201.80" x2="504.10" y2="201.80" stroke="#555" stroke-width="1.3"/>
<text x="499.20" y="200.30" font-size="6" text-anchor="middle" fill="#ad0e3a" stroke="#ad0e3a" stroke-width="0.18">*</text>
<text transform="translate(452.00,275.00) rotate(-50)" font-size="7.4" fill="#6ab23e" stroke="#6ab23e" stroke-width="0.1" textLength="12" lengthAdjust="spacingAndGlyphs">Fed</text>
<text transform="translate(457.70,277.20) rotate(-50)" font-size="7.4" fill="#6ab23e" stroke="#6ab23e" stroke-width="0.1" textLength="13.5" lengthAdjust="spacingAndGlyphs">Fast</text>
<text transform="translate(468.80,275.00) rotate(-50)" font-size="7.4" fill="#2b4b8c" stroke="#2b4b8c" stroke-width="0.1" textLength="12" lengthAdjust="spacingAndGlyphs">Fed</text>
<text transform="translate(474.50,277.20) rotate(-50)" font-size="7.4" fill="#2b4b8c" stroke="#2b4b8c" stroke-width="0.1" textLength="13.5" lengthAdjust="spacingAndGlyphs">Fast</text>
<text transform="translate(487.00,275.00) rotate(-50)" font-size="7.4" fill="#ad0e3a" stroke="#ad0e3a" stroke-width="0.1" textLength="12" lengthAdjust="spacingAndGlyphs">Fed</text>
<text transform="translate(492.70,277.20) rotate(-50)" font-size="7.4" fill="#ad0e3a" stroke="#ad0e3a" stroke-width="0.1" textLength="13.5" lengthAdjust="spacingAndGlyphs">Fast</text>
<line x1="451.30" y1="279.60" x2="467.80" y2="279.60" stroke="#444" stroke-width="1.3"/>
<text x="459.55" y="288.10" font-size="7.2" text-anchor="middle" font-style="italic" fill="#6ab23e" stroke="#6ab23e" stroke-width="0">WT</text>
<line x1="469.60" y1="279.60" x2="484.80" y2="279.60" stroke="#444" stroke-width="1.3"/>
<text x="477.20" y="288.10" font-size="7.2" text-anchor="middle" font-style="italic" fill="#2b4b8c" stroke="#2b4b8c" stroke-width="0">VF</text>
<line x1="486.90" y1="279.60" x2="503.80" y2="279.60" stroke="#444" stroke-width="1.3"/>
<text x="495.35" y="288.10" font-size="7.2" text-anchor="middle" font-style="italic" fill="#ad0e3a" stroke="#ad0e3a" stroke-width="0">Ex12</text>
<text x="7.00" y="310.19" font-size="12" font-weight="bold" fill="#000" stroke="#000" stroke-width="0.18">G</text>
<text x="34.50" y="315.30" font-size="9.6" textLength="260.20" lengthAdjust="spacingAndGlyphs" fill="#1a1a1a" stroke="#1a1a1a" stroke-width="0.18">Correlation of blood glucose levels with the peripheral blood cell parameters</text>
<circle cx="23.80" cy="323.00" r="1.30" fill="#6ab23e"/>
<text x="28.80" y="325.30" font-size="6.6" textLength="28.70" lengthAdjust="spacingAndGlyphs" font-style="italic" fill="#6ab23e" stroke="#6ab23e" stroke-width="0.03">Wild Type</text>
<circle cx="23.80" cy="332.60" r="1.30" fill="#2b4b8c"/>
<text x="28.80" y="334.90" font-size="6.6" textLength="69.20" lengthAdjust="spacingAndGlyphs" font-style="italic" fill="#2b4b8c" stroke="#2b4b8c" stroke-width="0.03">SclCre;JAK2-V617F (VF)</text>
<circle cx="112.70" cy="323.00" r="1.30" fill="#ad0e3a"/>
<text x="116.60" y="325.30" font-size="6.6" textLength="66.20" lengthAdjust="spacingAndGlyphs" font-style="italic" fill="#ad0e3a" stroke="#ad0e3a" stroke-width="0.03">SclCre;JAK2 E12 (E12)</text>
<circle cx="112.70" cy="332.60" r="1.30" fill="#6e3b18"/>
<text x="116.60" y="334.90" font-size="6.6" textLength="45.70" lengthAdjust="spacingAndGlyphs" font-style="italic" fill="#6e3b18" stroke="#6e3b18" stroke-width="0.03">SclCre;mJak2KI</text>
<circle cx="199.20" cy="323.00" r="1.30" fill="#e58a1f"/>
<text x="203.80" y="325.30" font-size="6.6" textLength="46.20" lengthAdjust="spacingAndGlyphs" font-style="italic" fill="#e58a1f" stroke="#e58a1f" stroke-width="0.03">SclCre;hJAK2KI</text>
<circle cx="199.20" cy="332.60" r="1.30" fill="#5aaee2"/>
<text x="203.80" y="334.90" font-size="6.6" textLength="57.80" lengthAdjust="spacingAndGlyphs" font-style="italic" fill="#5aaee2" stroke="#5aaee2" stroke-width="0.03">VavCre;JAK2-V617F</text>
<circle cx="274.00" cy="322.70" r="1.30" fill="#f3bf1a"/>
<text x="279.20" y="325.00" font-size="6.6" textLength="94.50" lengthAdjust="spacingAndGlyphs" font-style="italic" fill="#f3bf1a" stroke="#f3bf1a" stroke-width="0.03">StellaCre;hJAK2KI Heterozygous</text>
<circle cx="274.00" cy="332.20" r="1.30" fill="#d6178a"/>
<text x="279.20" y="334.50" font-size="6.6" textLength="91.80" lengthAdjust="spacingAndGlyphs" font-style="italic" fill="#d6178a" stroke="#d6178a" stroke-width="0.03">StellaCre;hJAK2KI Homozygous</text>
<circle cx="382.90" cy="322.70" r="1.30" fill="#e58a1f"/>
<text x="387.80" y="325.00" font-size="6.6" textLength="11.40" lengthAdjust="spacingAndGlyphs" font-style="italic" fill="#e58a1f" stroke="#e58a1f" stroke-width="0.03">Tg6</text>
<rect x="35.10" y="360.00" width="88.40" height="12.00" fill="#cdcdcd"/>
<line x1="34.50" y1="342.90" x2="34.50" y2="403.80" stroke="#111" stroke-width="1.1"/>
<line x1="31.70" y1="343.90" x2="34.50" y2="343.90" stroke="#111" stroke-width="0.9"/>
<text x="28.70" y="346.42" font-size="7" text-anchor="end" fill="#222" stroke="#222" stroke-width="0.18">2.0</text>
<line x1="31.70" y1="358.70" x2="34.50" y2="358.70" stroke="#111" stroke-width="0.9"/>
<text x="28.70" y="361.22" font-size="7" text-anchor="end" fill="#222" stroke="#222" stroke-width="0.18">1.5</text>
<line x1="31.70" y1="373.50" x2="34.50" y2="373.50" stroke="#111" stroke-width="0.9"/>
<text x="28.70" y="376.02" font-size="7" text-anchor="end" fill="#222" stroke="#222" stroke-width="0.18">1.0</text>
<line x1="31.70" y1="388.30" x2="34.50" y2="388.30" stroke="#111" stroke-width="0.9"/>
<text x="28.70" y="390.82" font-size="7" text-anchor="end" fill="#222" stroke="#222" stroke-width="0.18">0.5</text>
<line x1="31.70" y1="403.10" x2="34.50" y2="403.10" stroke="#111" stroke-width="0.9"/>
<text x="28.70" y="405.62" font-size="7" text-anchor="end" fill="#222" stroke="#222" stroke-width="0.18">0.0</text>
<line x1="34.00" y1="403.30" x2="125.20" y2="403.30" stroke="#111" stroke-width="1.1"/>
<line x1="34.50" y1="403.30" x2="34.50" y2="406.10" stroke="#111" stroke-width="0.9"/>
<text x="34.50" y="414.35" font-size="6.8" text-anchor="middle" fill="#222" stroke="#222" stroke-width="0.18">0</text>
<line x1="64.10" y1="403.30" x2="64.10" y2="406.10" stroke="#111" stroke-width="0.9"/>
<text x="64.10" y="414.35" font-size="6.8" text-anchor="middle" fill="#222" stroke="#222" stroke-width="0.18">100</text>
<line x1="93.70" y1="403.30" x2="93.70" y2="406.10" stroke="#111" stroke-width="0.9"/>
<text x="93.70" y="414.35" font-size="6.8" text-anchor="middle" fill="#222" stroke="#222" stroke-width="0.18">200</text>
<line x1="123.30" y1="403.30" x2="123.30" y2="406.10" stroke="#111" stroke-width="0.9"/>
<text x="123.30" y="414.35" font-size="6.8" text-anchor="middle" fill="#222" stroke="#222" stroke-width="0.18">300</text>
<line x1="69.80" y1="343.90" x2="69.80" y2="403.30" stroke="#333" stroke-width="1.1" stroke-dasharray="3,2"/>
<line x1="81.30" y1="343.90" x2="81.30" y2="403.30" stroke="#333" stroke-width="1.1" stroke-dasharray="3,2"/>
<polyline points="62.30,348.00 70.00,358.00 78.00,368.00 86.00,378.00 94.00,386.00 102.00,393.00 110.00,398.00 115.60,400.50" fill="none" stroke="#111" stroke-width="1.1" stroke-linejoin="round"/>
<circle cx="74.81" cy="352.42" r="2.00" fill="#6ab23e"/>
<circle cx="72.31" cy="359.15" r="2.00" fill="#6ab23e"/>
<circle cx="79.62" cy="358.19" r="2.00" fill="#6ab23e"/>
<circle cx="76.15" cy="364.54" r="2.00" fill="#6ab23e"/>
<circle cx="80.96" cy="362.04" r="2.00" fill="#6ab23e"/>
<circle cx="85.77" cy="367.23" r="2.00" fill="#6ab23e"/>
<circle cx="73.27" cy="369.15" r="2.00" fill="#6ab23e"/>
<circle cx="77.69" cy="369.15" r="2.00" fill="#6ab23e"/>
<circle cx="78.46" cy="375.50" r="2.00" fill="#6ab23e"/>
<circle cx="70.38" cy="363.00" r="2.00" fill="#6ab23e"/>
<circle cx="79.04" cy="364.92" r="2.00" fill="#6ab23e"/>
<circle cx="63.08" cy="373.19" r="2.00" fill="#5aaee2"/>
<circle cx="72.69" cy="364.92" r="2.00" fill="#5aaee2"/>
<circle cx="75.19" cy="361.08" r="2.00" fill="#5aaee2"/>
<circle cx="80.96" cy="363.00" r="2.00" fill="#5aaee2"/>
<circle cx="74.23" cy="366.85" r="2.00" fill="#5aaee2"/>
<circle cx="76.15" cy="368.77" r="2.00" fill="#e58a1f"/>
<circle cx="80.38" cy="371.65" r="2.00" fill="#f3bf1a"/>
<circle cx="81.54" cy="372.62" r="2.00" fill="#f3bf1a"/>
<circle cx="82.88" cy="370.69" r="2.00" fill="#2b4b8c"/>
<circle cx="81.92" cy="378.38" r="2.00" fill="#2b4b8c"/>
<circle cx="86.73" cy="376.46" r="2.00" fill="#2b4b8c"/>
<circle cx="92.50" cy="380.69" r="2.00" fill="#2b4b8c"/>
<circle cx="90.58" cy="383.19" r="2.00" fill="#2b4b8c"/>
<circle cx="91.54" cy="384.15" r="2.00" fill="#2b4b8c"/>
<circle cx="94.42" cy="393.77" r="2.00" fill="#6e3b18"/>
<circle cx="97.31" cy="391.46" r="2.00" fill="#6e3b18"/>
<circle cx="112.69" cy="396.65" r="2.00" fill="#6e3b18"/>
<circle cx="96.35" cy="393.38" r="2.00" fill="#6e3b18"/>
<circle cx="103.08" cy="392.81" r="2.00" fill="#ad0e3a"/>
<circle cx="105.96" cy="395.31" r="2.00" fill="#ad0e3a"/>
<circle cx="100.19" cy="397.23" r="2.00" fill="#d6178a"/>
<circle cx="106.92" cy="393.77" r="2.00" fill="#d6178a"/>
<circle cx="115.96" cy="394.15" r="2.00" fill="#e58a1f"/>
<circle cx="108.85" cy="395.69" r="2.00" fill="#e58a1f"/>
<circle cx="109.81" cy="397.62" r="2.00" fill="#e58a1f"/>
<circle cx="111.73" cy="398.00" r="2.00" fill="#5aaee2"/>
<circle cx="106.92" cy="396.65" r="2.00" fill="#f3bf1a"/>
<text x="79.45" y="426.50" font-size="9.2" text-anchor="middle" textLength="53.90" lengthAdjust="spacingAndGlyphs" fill="#222" stroke="#222" stroke-width="0.22">Hemoglobin (g/L)</text>
<text transform="translate(14.90,370.80) rotate(-90)" font-size="8.6" text-anchor="middle" fill="#222" stroke="#222" stroke-width="0.08" textLength="60.6" lengthAdjust="spacingAndGlyphs">Blood glucose (g/L)</text>
<text x="100.20" y="345.00" font-size="6.2" textLength="27.60" lengthAdjust="spacingAndGlyphs" fill="#222" stroke="#222" stroke-width="0">R<tspan font-size="4" dy="-2">2</tspan><tspan dy="2">= 0.8225</tspan></text>
<text x="100.20" y="351.20" font-size="6.2" textLength="22.90" lengthAdjust="spacingAndGlyphs" fill="#222" stroke="#222" stroke-width="0"><tspan font-style="italic">p</tspan>=0.0001</text>
<rect x="166.40" y="360.00" width="87.60" height="12.00" fill="#cdcdcd"/>
<line x1="165.80" y1="342.90" x2="165.80" y2="403.80" stroke="#111" stroke-width="1.1"/>
<line x1="163.00" y1="343.90" x2="165.80" y2="343.90" stroke="#111" stroke-width="0.9"/>
<text x="160.00" y="346.42" font-size="7" text-anchor="end" fill="#222" stroke="#222" stroke-width="0.18">2.0</text>
<line x1="163.00" y1="358.70" x2="165.80" y2="358.70" stroke="#111" stroke-width="0.9"/>
<text x="160.00" y="361.22" font-size="7" text-anchor="end" fill="#222" stroke="#222" stroke-width="0.18">1.5</text>
<line x1="163.00" y1="373.50" x2="165.80" y2="373.50" stroke="#111" stroke-width="0.9"/>
<text x="160.00" y="376.02" font-size="7" text-anchor="end" fill="#222" stroke="#222" stroke-width="0.18">1.0</text>
<line x1="163.00" y1="388.30" x2="165.80" y2="388.30" stroke="#111" stroke-width="0.9"/>
<text x="160.00" y="390.82" font-size="7" text-anchor="end" fill="#222" stroke="#222" stroke-width="0.18">0.5</text>
<line x1="163.00" y1="403.10" x2="165.80" y2="403.10" stroke="#111" stroke-width="0.9"/>
<text x="160.00" y="405.62" font-size="7" text-anchor="end" fill="#222" stroke="#222" stroke-width="0.18">0.0</text>
<line x1="165.30" y1="403.30" x2="257.90" y2="403.30" stroke="#111" stroke-width="1.1"/>
<line x1="165.80" y1="403.30" x2="165.80" y2="406.10" stroke="#111" stroke-width="0.9"/>
<text x="165.80" y="414.35" font-size="6.8" text-anchor="middle" fill="#222" stroke="#222" stroke-width="0.18">0</text>
<line x1="195.40" y1="403.30" x2="195.40" y2="406.10" stroke="#111" stroke-width="0.9"/>
<text x="195.40" y="414.35" font-size="6.8" text-anchor="middle" fill="#222" stroke="#222" stroke-width="0.18">10</text>
<line x1="224.80" y1="403.30" x2="224.80" y2="406.10" stroke="#111" stroke-width="0.9"/>
<text x="224.80" y="414.35" font-size="6.8" text-anchor="middle" fill="#222" stroke="#222" stroke-width="0.18">20</text>
<line x1="254.40" y1="403.30" x2="254.40" y2="406.10" stroke="#111" stroke-width="0.9"/>
<text x="254.40" y="414.35" font-size="6.8" text-anchor="middle" fill="#222" stroke="#222" stroke-width="0.18">30</text>
<line x1="188.70" y1="343.90" x2="188.70" y2="403.30" stroke="#333" stroke-width="1.1" stroke-dasharray="3,2"/>
<line x1="199.50" y1="343.90" x2="199.50" y2="403.30" stroke="#333" stroke-width="1.1" stroke-dasharray="3,2"/>
<polyline points="188.70,360.00 196.00,369.00 204.00,377.00 214.00,384.00 224.00,390.00 234.00,395.00 244.00,399.00 251.70,401.50" fill="none" stroke="#111" stroke-width="1.1" stroke-linejoin="round"/>
<circle cx="192.47" cy="351.69" r="2.00" fill="#6ab23e"/>
<circle cx="195.97" cy="357.89" r="2.00" fill="#6ab23e"/>
<circle cx="191.39" cy="359.23" r="2.00" fill="#6ab23e"/>
<circle cx="200.54" cy="366.77" r="2.00" fill="#6ab23e"/>
<circle cx="194.08" cy="363.27" r="2.00" fill="#6ab23e"/>
<circle cx="197.31" cy="370.00" r="2.00" fill="#6ab23e"/>
<circle cx="190.58" cy="368.66" r="2.00" fill="#6ab23e"/>
<circle cx="193.27" cy="365.16" r="2.00" fill="#6ab23e"/>
<circle cx="189.77" cy="372.70" r="2.00" fill="#5aaee2"/>
<circle cx="194.62" cy="361.93" r="2.00" fill="#5aaee2"/>
<circle cx="198.66" cy="362.46" r="2.00" fill="#5aaee2"/>
<circle cx="191.93" cy="366.77" r="2.00" fill="#5aaee2"/>
<circle cx="194.62" cy="375.39" r="2.00" fill="#f3bf1a"/>
<circle cx="197.85" cy="371.35" r="2.00" fill="#f3bf1a"/>
<circle cx="194.08" cy="368.66" r="2.00" fill="#e58a1f"/>
<circle cx="200.54" cy="377.54" r="2.00" fill="#2b4b8c"/>
<circle cx="204.85" cy="375.93" r="2.00" fill="#2b4b8c"/>
<circle cx="205.39" cy="383.47" r="2.00" fill="#2b4b8c"/>
<circle cx="204.04" cy="381.31" r="2.00" fill="#2b4b8c"/>
<circle cx="215.62" cy="393.70" r="2.00" fill="#d6178a"/>
<circle cx="215.62" cy="398.27" r="2.00" fill="#d6178a"/>
<circle cx="218.31" cy="398.27" r="2.00" fill="#d6178a"/>
<circle cx="227.47" cy="397.47" r="2.00" fill="#d6178a"/>
<circle cx="226.93" cy="394.77" r="2.00" fill="#e58a1f"/>
<circle cx="232.32" cy="398.27" r="2.00" fill="#e58a1f"/>
<circle cx="230.16" cy="393.70" r="2.00" fill="#ad0e3a"/>
<circle cx="235.55" cy="392.89" r="2.00" fill="#ad0e3a"/>
<circle cx="237.16" cy="391.54" r="2.00" fill="#6e3b18"/>
<circle cx="250.62" cy="392.89" r="2.00" fill="#6e3b18"/>
<circle cx="250.62" cy="394.77" r="2.00" fill="#6e3b18"/>
<circle cx="251.16" cy="396.39" r="2.00" fill="#6e3b18"/>
<circle cx="228.28" cy="394.24" r="2.00" fill="#f3bf1a"/>
<text x="212.65" y="426.50" font-size="9.2" text-anchor="middle" textLength="58.70" lengthAdjust="spacingAndGlyphs" fill="#222" stroke="#222" stroke-width="0.22">RBC (x10<tspan font-size="6.2" dy="-3.2">12</tspan><tspan dy="3.2"> cells/L)</tspan></text>
<text transform="translate(145.70,370.80) rotate(-90)" font-size="8.6" text-anchor="middle" fill="#222" stroke="#222" stroke-width="0.08" textLength="60.6" lengthAdjust="spacingAndGlyphs">Blood glucose (g/L)</text>
<text x="222.90" y="345.00" font-size="6.2" textLength="25.00" lengthAdjust="spacingAndGlyphs" fill="#222" stroke="#222" stroke-width="0">R<tspan font-size="4" dy="-2">2</tspan><tspan dy="2">= 0.763</tspan></text>
<text x="222.90" y="351.20" font-size="6.2" textLength="22.90" lengthAdjust="spacingAndGlyphs" fill="#222" stroke="#222" stroke-width="0"><tspan font-style="italic">p</tspan>=0.0001</text>
<rect x="296.90" y="360.00" width="88.30" height="12.00" fill="#cdcdcd"/>
<line x1="296.30" y1="342.90" x2="296.30" y2="403.80" stroke="#111" stroke-width="1.1"/>
<line x1="293.50" y1="343.90" x2="296.30" y2="343.90" stroke="#111" stroke-width="0.9"/>
<text x="290.50" y="346.42" font-size="7" text-anchor="end" fill="#222" stroke="#222" stroke-width="0.18">2.0</text>
<line x1="293.50" y1="358.70" x2="296.30" y2="358.70" stroke="#111" stroke-width="0.9"/>
<text x="290.50" y="361.22" font-size="7" text-anchor="end" fill="#222" stroke="#222" stroke-width="0.18">1.5</text>
<line x1="293.50" y1="373.50" x2="296.30" y2="373.50" stroke="#111" stroke-width="0.9"/>
<text x="290.50" y="376.02" font-size="7" text-anchor="end" fill="#222" stroke="#222" stroke-width="0.18">1.0</text>
<line x1="293.50" y1="388.30" x2="296.30" y2="388.30" stroke="#111" stroke-width="0.9"/>
<text x="290.50" y="390.82" font-size="7" text-anchor="end" fill="#222" stroke="#222" stroke-width="0.18">0.5</text>
<line x1="293.50" y1="403.10" x2="296.30" y2="403.10" stroke="#111" stroke-width="0.9"/>
<text x="290.50" y="405.62" font-size="7" text-anchor="end" fill="#222" stroke="#222" stroke-width="0.18">0.0</text>
<line x1="295.80" y1="403.30" x2="387.00" y2="403.30" stroke="#111" stroke-width="1.1"/>
<line x1="296.30" y1="403.30" x2="296.30" y2="406.10" stroke="#111" stroke-width="0.9"/>
<text x="296.30" y="414.35" font-size="6.8" text-anchor="middle" fill="#222" stroke="#222" stroke-width="0.18">0</text>
<line x1="318.40" y1="403.30" x2="318.40" y2="406.10" stroke="#111" stroke-width="0.9"/>
<text x="318.40" y="414.35" font-size="6.8" text-anchor="middle" fill="#222" stroke="#222" stroke-width="0.18">1</text>
<line x1="340.00" y1="403.30" x2="340.00" y2="406.10" stroke="#111" stroke-width="0.9"/>
<text x="340.00" y="414.35" font-size="6.8" text-anchor="middle" fill="#222" stroke="#222" stroke-width="0.18">2</text>
<line x1="361.80" y1="403.30" x2="361.80" y2="406.10" stroke="#111" stroke-width="0.9"/>
<text x="361.80" y="414.35" font-size="6.8" text-anchor="middle" fill="#222" stroke="#222" stroke-width="0.18">3</text>
<line x1="383.30" y1="403.30" x2="383.30" y2="406.10" stroke="#111" stroke-width="0.9"/>
<text x="383.30" y="414.35" font-size="6.8" text-anchor="middle" fill="#222" stroke="#222" stroke-width="0.18">4</text>
<line x1="299.00" y1="343.90" x2="299.00" y2="403.30" stroke="#333" stroke-width="1.1" stroke-dasharray="3,2"/>
<line x1="309.80" y1="343.90" x2="309.80" y2="403.30" stroke="#333" stroke-width="1.1" stroke-dasharray="3,2"/>
<polyline points="305.20,366.00 310.00,373.00 316.00,380.00 324.00,386.00 334.00,392.00 344.00,397.00 354.00,401.00 361.80,403.30" fill="none" stroke="#111" stroke-width="1.1" stroke-linejoin="round"/>
<circle cx="303.62" cy="353.31" r="2.00" fill="#6ab23e"/>
<circle cx="303.62" cy="359.77" r="2.00" fill="#6ab23e"/>
<circle cx="305.23" cy="364.62" r="2.00" fill="#6ab23e"/>
<circle cx="302.54" cy="366.77" r="2.00" fill="#6ab23e"/>
<circle cx="305.77" cy="368.66" r="2.00" fill="#6ab23e"/>
<circle cx="307.12" cy="367.31" r="2.00" fill="#6ab23e"/>
<circle cx="300.39" cy="367.31" r="2.00" fill="#6ab23e"/>
<circle cx="304.43" cy="361.93" r="2.00" fill="#6ab23e"/>
<circle cx="300.39" cy="361.39" r="2.00" fill="#5aaee2"/>
<circle cx="302.54" cy="363.27" r="2.00" fill="#5aaee2"/>
<circle cx="302.54" cy="372.70" r="2.00" fill="#f3bf1a"/>
<circle cx="306.31" cy="372.70" r="2.00" fill="#f3bf1a"/>
<circle cx="308.47" cy="371.35" r="2.00" fill="#e58a1f"/>
<circle cx="309.81" cy="376.73" r="2.00" fill="#2b4b8c"/>
<circle cx="311.70" cy="378.62" r="2.00" fill="#2b4b8c"/>
<circle cx="307.93" cy="382.93" r="2.00" fill="#2b4b8c"/>
<circle cx="310.62" cy="381.31" r="2.00" fill="#2b4b8c"/>
<circle cx="315.20" cy="384.81" r="2.00" fill="#2b4b8c"/>
<circle cx="308.47" cy="393.70" r="2.00" fill="#d6178a"/>
<circle cx="310.62" cy="398.27" r="2.00" fill="#d6178a"/>
<circle cx="313.85" cy="398.27" r="2.00" fill="#d6178a"/>
<circle cx="328.66" cy="397.47" r="2.00" fill="#d6178a"/>
<circle cx="326.77" cy="394.77" r="2.00" fill="#e58a1f"/>
<circle cx="326.77" cy="398.27" r="2.00" fill="#e58a1f"/>
<circle cx="333.24" cy="392.89" r="2.00" fill="#ad0e3a"/>
<circle cx="335.93" cy="392.08" r="2.00" fill="#ad0e3a"/>
<circle cx="338.62" cy="393.70" r="2.00" fill="#ad0e3a"/>
<circle cx="346.70" cy="394.77" r="2.00" fill="#ad0e3a"/>
<circle cx="344.01" cy="391.54" r="2.00" fill="#6e3b18"/>
<circle cx="348.85" cy="396.39" r="2.00" fill="#6e3b18"/>
<circle cx="367.16" cy="396.93" r="2.00" fill="#6e3b18"/>
<text x="342.10" y="426.50" font-size="9.2" text-anchor="middle" textLength="83.20" lengthAdjust="spacingAndGlyphs" fill="#222" stroke="#222" stroke-width="0.22">Reticulocytes (x10<tspan font-size="6.2" dy="-3.2">12</tspan><tspan dy="3.2"> cells/L)</tspan></text>
<text transform="translate(275.70,370.80) rotate(-90)" font-size="8.6" text-anchor="middle" fill="#222" stroke="#222" stroke-width="0.08" textLength="60.6" lengthAdjust="spacingAndGlyphs">Blood glucose (g/L)</text>
<text x="358.30" y="345.00" font-size="6.2" textLength="27.00" lengthAdjust="spacingAndGlyphs" fill="#222" stroke="#222" stroke-width="0">R<tspan font-size="4" dy="-2">2</tspan><tspan dy="2">= 0.6098</tspan></text>
<text x="358.30" y="351.20" font-size="6.2" textLength="22.90" lengthAdjust="spacingAndGlyphs" fill="#222" stroke="#222" stroke-width="0"><tspan font-style="italic">p</tspan>=0.0001</text>
<rect x="35.10" y="457.00" width="88.20" height="12.80" fill="#cdcdcd"/>
<line x1="34.50" y1="440.60" x2="34.50" y2="502.10" stroke="#111" stroke-width="1.1"/>
<line x1="31.70" y1="441.60" x2="34.50" y2="441.60" stroke="#111" stroke-width="0.9"/>
<text x="28.70" y="444.12" font-size="7" text-anchor="end" fill="#222" stroke="#222" stroke-width="0.18">2.0</text>
<line x1="31.70" y1="456.40" x2="34.50" y2="456.40" stroke="#111" stroke-width="0.9"/>
<text x="28.70" y="458.92" font-size="7" text-anchor="end" fill="#222" stroke="#222" stroke-width="0.18">1.5</text>
<line x1="31.70" y1="471.70" x2="34.50" y2="471.70" stroke="#111" stroke-width="0.9"/>
<text x="28.70" y="474.22" font-size="7" text-anchor="end" fill="#222" stroke="#222" stroke-width="0.18">1.0</text>
<line x1="31.70" y1="486.50" x2="34.50" y2="486.50" stroke="#111" stroke-width="0.9"/>
<text x="28.70" y="489.02" font-size="7" text-anchor="end" fill="#222" stroke="#222" stroke-width="0.18">0.5</text>
<line x1="31.70" y1="501.60" x2="34.50" y2="501.60" stroke="#111" stroke-width="0.9"/>
<text x="28.70" y="504.12" font-size="7" text-anchor="end" fill="#222" stroke="#222" stroke-width="0.18">0.0</text>
<line x1="34.00" y1="501.60" x2="127.90" y2="501.60" stroke="#111" stroke-width="1.1"/>
<line x1="34.50" y1="501.60" x2="34.50" y2="504.40" stroke="#111" stroke-width="0.9"/>
<text x="34.50" y="513.85" font-size="6.8" text-anchor="middle" fill="#222" stroke="#222" stroke-width="0.18">0</text>
<line x1="56.50" y1="501.60" x2="56.50" y2="504.40" stroke="#111" stroke-width="0.9"/>
<text x="56.50" y="513.85" font-size="6.8" text-anchor="middle" fill="#222" stroke="#222" stroke-width="0.18">5</text>
<line x1="78.90" y1="501.60" x2="78.90" y2="504.40" stroke="#111" stroke-width="0.9"/>
<text x="78.90" y="513.85" font-size="6.8" text-anchor="middle" fill="#222" stroke="#222" stroke-width="0.18">10</text>
<line x1="101.80" y1="501.60" x2="101.80" y2="504.40" stroke="#111" stroke-width="0.9"/>
<text x="101.80" y="513.85" font-size="6.8" text-anchor="middle" fill="#222" stroke="#222" stroke-width="0.18">15</text>
<line x1="124.40" y1="501.60" x2="124.40" y2="504.40" stroke="#111" stroke-width="0.9"/>
<text x="124.40" y="513.85" font-size="6.8" text-anchor="middle" fill="#222" stroke="#222" stroke-width="0.18">20</text>
<line x1="35.50" y1="441.60" x2="35.50" y2="501.60" stroke="#333" stroke-width="1.1" stroke-dasharray="3,2"/>
<line x1="43.10" y1="441.60" x2="43.10" y2="501.60" stroke="#333" stroke-width="1.1" stroke-dasharray="3,2"/>
<polyline points="36.30,496.00 38.00,487.00 41.00,480.00 47.00,475.80 60.00,469.00 80.00,464.00 100.00,460.50 119.80,458.30" fill="none" stroke="#111" stroke-width="1.1" stroke-linejoin="round"/>
<circle cx="39.85" cy="450.19" r="2.00" fill="#6ab23e"/>
<circle cx="40.93" cy="456.93" r="2.00" fill="#6ab23e"/>
<circle cx="41.73" cy="459.62" r="2.00" fill="#6ab23e"/>
<circle cx="39.85" cy="462.85" r="2.00" fill="#6ab23e"/>
<circle cx="40.39" cy="465.00" r="2.00" fill="#6ab23e"/>
<circle cx="42.54" cy="465.00" r="2.00" fill="#6ab23e"/>
<circle cx="39.85" cy="473.08" r="2.00" fill="#6ab23e"/>
<circle cx="40.93" cy="467.70" r="2.00" fill="#6ab23e"/>
<circle cx="43.08" cy="469.04" r="2.00" fill="#6ab23e"/>
<circle cx="45.23" cy="459.62" r="2.00" fill="#5aaee2"/>
<circle cx="61.39" cy="462.85" r="2.00" fill="#5aaee2"/>
<circle cx="119.01" cy="471.73" r="2.00" fill="#5aaee2"/>
<circle cx="42.54" cy="470.39" r="2.00" fill="#f3bf1a"/>
<circle cx="49.81" cy="475.23" r="2.00" fill="#2b4b8c"/>
<circle cx="51.70" cy="469.04" r="2.00" fill="#2b4b8c"/>
<circle cx="49.81" cy="478.47" r="2.00" fill="#2b4b8c"/>
<circle cx="51.16" cy="480.62" r="2.00" fill="#2b4b8c"/>
<circle cx="50.62" cy="482.50" r="2.00" fill="#2b4b8c"/>
<circle cx="56.54" cy="477.12" r="2.00" fill="#2b4b8c"/>
<circle cx="36.35" cy="492.47" r="2.00" fill="#ad0e3a"/>
<circle cx="37.70" cy="494.62" r="2.00" fill="#d6178a"/>
<circle cx="37.70" cy="491.39" r="2.00" fill="#ad0e3a"/>
<circle cx="37.16" cy="495.97" r="2.00" fill="#d6178a"/>
<circle cx="44.43" cy="489.24" r="2.00" fill="#6e3b18"/>
<circle cx="45.77" cy="492.47" r="2.00" fill="#6e3b18"/>
<circle cx="47.12" cy="494.62" r="2.00" fill="#6e3b18"/>
<circle cx="35.54" cy="493.27" r="2.00" fill="#e58a1f"/>
<circle cx="36.08" cy="496.77" r="2.00" fill="#f3bf1a"/>
<text x="81.65" y="529.60" font-size="9.2" text-anchor="middle" textLength="68.70" lengthAdjust="spacingAndGlyphs" fill="#222" stroke="#222" stroke-width="0.22">Platelets (x10<tspan font-size="6.2" dy="-3.2">12</tspan><tspan dy="3.2"> cells/L)</tspan></text>
<text transform="translate(14.90,468.80) rotate(-90)" font-size="8.6" text-anchor="middle" fill="#222" stroke="#222" stroke-width="0.08" textLength="60.6" lengthAdjust="spacingAndGlyphs">Blood glucose (g/L)</text>
<text x="92.00" y="443.50" font-size="6.2" textLength="24.30" lengthAdjust="spacingAndGlyphs" fill="#222" stroke="#222" stroke-width="0">R<tspan font-size="4" dy="-2">2</tspan><tspan dy="2">= 0.013</tspan></text>
<text x="92.00" y="449.70" font-size="6.2" textLength="17.20" lengthAdjust="spacingAndGlyphs" fill="#222" stroke="#222" stroke-width="0">p=0.56</text>
<rect x="166.40" y="457.00" width="87.50" height="13.00" fill="#cdcdcd"/>
<line x1="165.80" y1="440.60" x2="165.80" y2="502.10" stroke="#111" stroke-width="1.1"/>
<line x1="163.00" y1="441.60" x2="165.80" y2="441.60" stroke="#111" stroke-width="0.9"/>
<text x="160.00" y="444.12" font-size="7" text-anchor="end" fill="#222" stroke="#222" stroke-width="0.18">2.0</text>
<line x1="163.00" y1="456.40" x2="165.80" y2="456.40" stroke="#111" stroke-width="0.9"/>
<text x="160.00" y="458.92" font-size="7" text-anchor="end" fill="#222" stroke="#222" stroke-width="0.18">1.5</text>
<line x1="163.00" y1="471.70" x2="165.80" y2="471.70" stroke="#111" stroke-width="0.9"/>
<text x="160.00" y="474.22" font-size="7" text-anchor="end" fill="#222" stroke="#222" stroke-width="0.18">1.0</text>
<line x1="163.00" y1="486.50" x2="165.80" y2="486.50" stroke="#111" stroke-width="0.9"/>
<text x="160.00" y="489.02" font-size="7" text-anchor="end" fill="#222" stroke="#222" stroke-width="0.18">0.5</text>
<line x1="163.00" y1="501.60" x2="165.80" y2="501.60" stroke="#111" stroke-width="0.9"/>
<text x="160.00" y="504.12" font-size="7" text-anchor="end" fill="#222" stroke="#222" stroke-width="0.18">0.0</text>
<line x1="165.30" y1="501.60" x2="258.70" y2="501.60" stroke="#111" stroke-width="1.1"/>
<line x1="165.80" y1="501.60" x2="165.80" y2="504.40" stroke="#111" stroke-width="0.9"/>
<text x="165.80" y="513.85" font-size="6.8" text-anchor="middle" fill="#222" stroke="#222" stroke-width="0.18">0</text>
<line x1="187.90" y1="501.60" x2="187.90" y2="504.40" stroke="#111" stroke-width="0.9"/>
<text x="187.90" y="513.85" font-size="6.8" text-anchor="middle" fill="#222" stroke="#222" stroke-width="0.18">5</text>
<line x1="210.20" y1="501.60" x2="210.20" y2="504.40" stroke="#111" stroke-width="0.9"/>
<text x="210.20" y="513.85" font-size="6.8" text-anchor="middle" fill="#222" stroke="#222" stroke-width="0.18">10</text>
<line x1="232.90" y1="501.60" x2="232.90" y2="504.40" stroke="#111" stroke-width="0.9"/>
<text x="232.90" y="513.85" font-size="6.8" text-anchor="middle" fill="#222" stroke="#222" stroke-width="0.18">15</text>
<line x1="255.20" y1="501.60" x2="255.20" y2="504.40" stroke="#111" stroke-width="0.9"/>
<text x="255.20" y="513.85" font-size="6.8" text-anchor="middle" fill="#222" stroke="#222" stroke-width="0.18">20</text>
<line x1="166.30" y1="441.60" x2="166.30" y2="501.60" stroke="#333" stroke-width="1.1" stroke-dasharray="3,2"/>
<line x1="174.40" y1="441.60" x2="174.40" y2="501.60" stroke="#333" stroke-width="1.1" stroke-dasharray="3,2"/>
<polyline points="167.70,473.10 171.70,475.80 180.00,477.50 195.00,479.50 215.00,481.80 235.00,483.80 255.20,485.20" fill="none" stroke="#111" stroke-width="1.1" stroke-linejoin="round"/>
<circle cx="167.70" cy="450.19" r="2.00" fill="#6ab23e"/>
<circle cx="167.16" cy="456.93" r="2.00" fill="#6ab23e"/>
<circle cx="167.70" cy="462.31" r="2.00" fill="#6ab23e"/>
<circle cx="166.35" cy="466.35" r="2.00" fill="#6ab23e"/>
<circle cx="167.16" cy="473.08" r="2.00" fill="#6ab23e"/>
<circle cx="168.23" cy="459.08" r="2.00" fill="#5aaee2"/>
<circle cx="172.54" cy="463.66" r="2.00" fill="#5aaee2"/>
<circle cx="165.00" cy="464.46" r="2.00" fill="#5aaee2"/>
<circle cx="239.85" cy="471.73" r="2.00" fill="#5aaee2"/>
<circle cx="167.70" cy="469.85" r="2.00" fill="#f3bf1a"/>
<circle cx="166.35" cy="469.04" r="2.00" fill="#e58a1f"/>
<circle cx="185.20" cy="469.04" r="2.00" fill="#2b4b8c"/>
<circle cx="180.62" cy="477.12" r="2.00" fill="#2b4b8c"/>
<circle cx="175.77" cy="482.50" r="2.00" fill="#2b4b8c"/>
<circle cx="203.24" cy="479.00" r="2.00" fill="#2b4b8c"/>
<circle cx="208.62" cy="474.43" r="2.00" fill="#2b4b8c"/>
<circle cx="225.58" cy="481.16" r="2.00" fill="#2b4b8c"/>
<circle cx="167.70" cy="491.39" r="2.00" fill="#ad0e3a"/>
<circle cx="169.85" cy="491.93" r="2.00" fill="#ad0e3a"/>
<circle cx="170.93" cy="494.08" r="2.00" fill="#d6178a"/>
<circle cx="173.08" cy="495.97" r="2.00" fill="#d6178a"/>
<circle cx="169.04" cy="493.27" r="2.00" fill="#ad0e3a"/>
<circle cx="166.35" cy="494.62" r="2.00" fill="#e58a1f"/>
<circle cx="167.16" cy="497.31" r="2.00" fill="#e58a1f"/>
<circle cx="177.93" cy="491.39" r="2.00" fill="#6e3b18"/>
<circle cx="179.81" cy="489.24" r="2.00" fill="#6e3b18"/>
<circle cx="179.00" cy="492.47" r="2.00" fill="#6e3b18"/>
<circle cx="185.20" cy="495.16" r="2.00" fill="#6e3b18"/>
<circle cx="187.08" cy="495.16" r="2.00" fill="#6e3b18"/>
<text x="212.30" y="529.60" font-size="9.2" text-anchor="middle" textLength="74.60" lengthAdjust="spacingAndGlyphs" fill="#222" stroke="#222" stroke-width="0.22">Neutrophils (x10<tspan font-size="6.2" dy="-3.2">9</tspan><tspan dy="3.2">cells/L)</tspan></text>
<text transform="translate(145.70,468.80) rotate(-90)" font-size="8.6" text-anchor="middle" fill="#222" stroke="#222" stroke-width="0.08" textLength="60.6" lengthAdjust="spacingAndGlyphs">Blood glucose (g/L)</text>
<text x="231.80" y="443.50" font-size="6.2" textLength="24.20" lengthAdjust="spacingAndGlyphs" fill="#222" stroke="#222" stroke-width="0">R<tspan font-size="4" dy="-2">2</tspan><tspan dy="2">= 0.019</tspan></text>
<text x="231.80" y="449.70" font-size="6.2" textLength="17.20" lengthAdjust="spacingAndGlyphs" fill="#222" stroke="#222" stroke-width="0">p=0.39</text>
<rect x="296.90" y="457.00" width="87.50" height="13.00" fill="#cdcdcd"/>
<line x1="296.30" y1="440.60" x2="296.30" y2="502.10" stroke="#111" stroke-width="1.1"/>
<line x1="293.50" y1="441.60" x2="296.30" y2="441.60" stroke="#111" stroke-width="0.9"/>
<text x="290.50" y="444.12" font-size="7" text-anchor="end" fill="#222" stroke="#222" stroke-width="0.18">2.0</text>
<line x1="293.50" y1="456.40" x2="296.30" y2="456.40" stroke="#111" stroke-width="0.9"/>
<text x="290.50" y="458.92" font-size="7" text-anchor="end" fill="#222" stroke="#222" stroke-width="0.18">1.5</text>
<line x1="293.50" y1="471.70" x2="296.30" y2="471.70" stroke="#111" stroke-width="0.9"/>
<text x="290.50" y="474.22" font-size="7" text-anchor="end" fill="#222" stroke="#222" stroke-width="0.18">1.0</text>
<line x1="293.50" y1="486.50" x2="296.30" y2="486.50" stroke="#111" stroke-width="0.9"/>
<text x="290.50" y="489.02" font-size="7" text-anchor="end" fill="#222" stroke="#222" stroke-width="0.18">0.5</text>
<line x1="293.50" y1="501.60" x2="296.30" y2="501.60" stroke="#111" stroke-width="0.9"/>
<text x="290.50" y="504.12" font-size="7" text-anchor="end" fill="#222" stroke="#222" stroke-width="0.18">0.0</text>
<line x1="295.80" y1="501.60" x2="390.60" y2="501.60" stroke="#111" stroke-width="1.1"/>
<line x1="296.30" y1="501.60" x2="296.30" y2="504.40" stroke="#111" stroke-width="0.9"/>
<text x="296.30" y="513.85" font-size="6.8" text-anchor="middle" fill="#222" stroke="#222" stroke-width="0.18">0</text>
<line x1="314.70" y1="501.60" x2="314.70" y2="504.40" stroke="#111" stroke-width="0.9"/>
<text x="314.70" y="513.85" font-size="6.8" text-anchor="middle" fill="#222" stroke="#222" stroke-width="0.18">1</text>
<line x1="332.70" y1="501.60" x2="332.70" y2="504.40" stroke="#111" stroke-width="0.9"/>
<text x="332.70" y="513.85" font-size="6.8" text-anchor="middle" fill="#222" stroke="#222" stroke-width="0.18">2</text>
<line x1="351.00" y1="501.60" x2="351.00" y2="504.40" stroke="#111" stroke-width="0.9"/>
<text x="351.00" y="513.85" font-size="6.8" text-anchor="middle" fill="#222" stroke="#222" stroke-width="0.18">3</text>
<line x1="369.60" y1="501.60" x2="369.60" y2="504.40" stroke="#111" stroke-width="0.9"/>
<text x="369.60" y="513.85" font-size="6.8" text-anchor="middle" fill="#222" stroke="#222" stroke-width="0.18">4</text>
<line x1="387.90" y1="501.60" x2="387.90" y2="504.40" stroke="#111" stroke-width="0.9"/>
<text x="387.90" y="513.85" font-size="6.8" text-anchor="middle" fill="#222" stroke="#222" stroke-width="0.18">5</text>
<line x1="297.20" y1="441.60" x2="297.20" y2="501.60" stroke="#333" stroke-width="1.1" stroke-dasharray="3,2"/>
<line x1="300.90" y1="441.60" x2="300.90" y2="501.60" stroke="#333" stroke-width="1.1" stroke-dasharray="3,2"/>
<polyline points="299.00,475.80 305.00,478.50 315.00,481.00 330.00,483.50 350.00,486.00 370.00,487.80 383.90,488.70" fill="none" stroke="#111" stroke-width="1.1" stroke-linejoin="round"/>
<circle cx="297.70" cy="450.19" r="2.00" fill="#6ab23e"/>
<circle cx="297.16" cy="456.93" r="2.00" fill="#6ab23e"/>
<circle cx="297.70" cy="465.00" r="2.00" fill="#6ab23e"/>
<circle cx="296.35" cy="472.54" r="2.00" fill="#6ab23e"/>
<circle cx="299.85" cy="465.00" r="2.00" fill="#6ab23e"/>
<circle cx="299.04" cy="456.93" r="2.00" fill="#5aaee2"/>
<circle cx="304.43" cy="462.85" r="2.00" fill="#5aaee2"/>
<circle cx="383.32" cy="470.93" r="2.00" fill="#5aaee2"/>
<circle cx="297.70" cy="469.85" r="2.00" fill="#f3bf1a"/>
<circle cx="300.39" cy="470.39" r="2.00" fill="#f3bf1a"/>
<circle cx="308.47" cy="468.23" r="2.00" fill="#2b4b8c"/>
<circle cx="304.43" cy="474.43" r="2.00" fill="#2b4b8c"/>
<circle cx="300.93" cy="478.47" r="2.00" fill="#2b4b8c"/>
<circle cx="307.12" cy="480.62" r="2.00" fill="#2b4b8c"/>
<circle cx="313.31" cy="476.31" r="2.00" fill="#2b4b8c"/>
<circle cx="297.70" cy="491.93" r="2.00" fill="#ad0e3a"/>
<circle cx="299.04" cy="494.08" r="2.00" fill="#d6178a"/>
<circle cx="300.39" cy="490.58" r="2.00" fill="#ad0e3a"/>
<circle cx="301.73" cy="494.62" r="2.00" fill="#ad0e3a"/>
<circle cx="297.16" cy="494.62" r="2.00" fill="#d6178a"/>
<circle cx="303.62" cy="494.62" r="2.00" fill="#6e3b18"/>
<circle cx="300.93" cy="490.58" r="2.00" fill="#6e3b18"/>
<circle cx="299.04" cy="495.97" r="2.00" fill="#e58a1f"/>
<text x="340.85" y="529.60" font-size="9.2" text-anchor="middle" textLength="71.70" lengthAdjust="spacingAndGlyphs" fill="#222" stroke="#222" stroke-width="0.22">Monocytes (x10<tspan font-size="6.2" dy="-3.2">9</tspan><tspan dy="3.2">cells/L)</tspan></text>
<text transform="translate(275.70,468.80) rotate(-90)" font-size="8.6" text-anchor="middle" fill="#222" stroke="#222" stroke-width="0.08" textLength="60.6" lengthAdjust="spacingAndGlyphs">Blood glucose (g/L)</text>
<text x="354.80" y="443.50" font-size="6.2" textLength="27.70" lengthAdjust="spacingAndGlyphs" fill="#222" stroke="#222" stroke-width="0">R<tspan font-size="4" dy="-2">2</tspan><tspan dy="2">= 0.0004</tspan></text>
<text x="354.80" y="449.70" font-size="6.2" textLength="17.20" lengthAdjust="spacingAndGlyphs" fill="#222" stroke="#222" stroke-width="0">p=0.77</text>
<text x="7.50" y="547.19" font-size="12" font-weight="bold" fill="#000" stroke="#000" stroke-width="0.18">H</text>
<text x="31.30" y="553.40" font-size="9.2" textLength="201.00" lengthAdjust="spacingAndGlyphs" fill="#1a1a1a" stroke="#1a1a1a" stroke-width="0.18">Glucose uptake capacity of erythroid cells in spleen</text>
<text x="31.30" y="565.90" font-size="9.2" textLength="85.00" lengthAdjust="spacingAndGlyphs" fill="#1a1a1a" stroke="#1a1a1a" stroke-width="0.18">Ter119+/ CD71+ cells</text>
<polygon points="35.5,583.80 35.50,582.98 36.00,582.76 36.49,582.50 36.99,582.18 37.49,581.80 37.98,581.37 38.48,580.88 38.98,580.32 39.47,579.71 39.97,579.04 40.47,578.34 40.96,577.61 41.46,576.87 41.96,576.14 42.45,575.44 42.95,574.79 43.45,574.21 43.94,573.73 44.44,573.36 44.94,573.10 45.43,572.98 45.93,573.00 46.43,573.14 46.92,573.42 47.42,573.80 47.92,574.29 48.41,574.85 48.91,575.47 49.41,576.13 49.90,576.80 50.40,577.47 50.90,578.12 51.39,578.73 51.89,579.30 52.39,579.81 52.88,580.27 53.38,580.66 53.88,581.00 54.37,581.28 54.87,581.51 55.37,581.69 55.86,581.84 56.36,581.95 56.86,582.03 57.35,582.09 57.85,582.13 58.35,582.15 58.84,582.17 59.34,582.18 59.84,582.19 60.33,582.19 60.83,582.19 61.33,582.19 61.82,582.19 62.32,582.20 62.82,582.20 63.31,582.21 63.81,582.22 64.31,582.23 64.80,582.24 65.30,582.26 65.80,582.28 66.29,582.30 66.79,582.32 67.29,582.35 67.78,582.38 68.28,582.40 68.78,582.44 69.27,582.47 69.77,582.50 70.27,582.54 70.76,582.57 71.26,582.61 71.76,582.65 72.25,582.69 72.75,582.73 73.25,582.77 73.74,582.81 74.24,582.85 74.74,582.89 75.23,582.93 75.73,582.97 76.23,583.01 76.72,583.05 77.22,583.08 77.72,583.12 78.21,583.16 78.71,583.19 79.21,583.23 79.70,583.26 80.20,583.29 80.70,583.32 81.19,583.35 81.69,583.38 82.19,583.41 82.68,583.44 83.18,583.46 83.68,583.49 84.17,583.51 84.67,583.53 85.17,583.55 85.66,583.57 86.16,583.59 86.66,583.61 87.15,583.62 87.65,583.64 88.15,583.65 88.64,583.66 89.14,583.68 89.64,583.69 90.13,583.70 90.63,583.71 91.13,583.72 91.62,583.72 92.12,583.73 92.62,583.74 93.11,583.74 93.61,583.75 94.11,583.76 94.60,583.76 95.10,583.76 95.60,583.77 96.09,583.77 96.59,583.77 97.09,583.78 97.58,583.78 98.08,583.78 98.58,583.78 99.07,583.79 99.57,583.79 100.07,583.79 100.56,583.79 101.06,583.79 101.56,583.79 102.05,583.79 102.55,583.79 103.05,583.80 103.54,583.80 104.04,583.80 104.54,583.80 105.03,583.80 105.53,583.80 106.03,583.80 106.52,583.80 107.02,583.80 107.52,583.80 108.01,583.80 108.51,583.80 109.01,583.80 109.50,583.80 110.00,583.80 110,583.80" fill="#6ab23e" fill-opacity="0.35" stroke="none"/>
<polyline points="35.50,582.98 36.00,582.76 36.49,582.50 36.99,582.18 37.49,581.80 37.98,581.37 38.48,580.88 38.98,580.32 39.47,579.71 39.97,579.04 40.47,578.34 40.96,577.61 41.46,576.87 41.96,576.14 42.45,575.44 42.95,574.79 43.45,574.21 43.94,573.73 44.44,573.36 44.94,573.10 45.43,572.98 45.93,573.00 46.43,573.14 46.92,573.42 47.42,573.80 47.92,574.29 48.41,574.85 48.91,575.47 49.41,576.13 49.90,576.80 50.40,577.47 50.90,578.12 51.39,578.73 51.89,579.30 52.39,579.81 52.88,580.27 53.38,580.66 53.88,581.00 54.37,581.28 54.87,581.51 55.37,581.69 55.86,581.84 56.36,581.95 56.86,582.03 57.35,582.09 57.85,582.13 58.35,582.15 58.84,582.17 59.34,582.18 59.84,582.19 60.33,582.19 60.83,582.19 61.33,582.19 61.82,582.19 62.32,582.20 62.82,582.20 63.31,582.21 63.81,582.22 64.31,582.23 64.80,582.24 65.30,582.26 65.80,582.28 66.29,582.30 66.79,582.32 67.29,582.35 67.78,582.38 68.28,582.40 68.78,582.44 69.27,582.47 69.77,582.50 70.27,582.54 70.76,582.57 71.26,582.61 71.76,582.65 72.25,582.69 72.75,582.73 73.25,582.77 73.74,582.81 74.24,582.85 74.74,582.89 75.23,582.93 75.73,582.97 76.23,583.01 76.72,583.05 77.22,583.08 77.72,583.12 78.21,583.16 78.71,583.19 79.21,583.23 79.70,583.26 80.20,583.29 80.70,583.32 81.19,583.35 81.69,583.38 82.19,583.41 82.68,583.44 83.18,583.46 83.68,583.49 84.17,583.51 84.67,583.53 85.17,583.55 85.66,583.57 86.16,583.59 86.66,583.61 87.15,583.62 87.65,583.64 88.15,583.65 88.64,583.66 89.14,583.68 89.64,583.69 90.13,583.70 90.63,583.71 91.13,583.72 91.62,583.72 92.12,583.73 92.62,583.74 93.11,583.74 93.61,583.75 94.11,583.76 94.60,583.76 95.10,583.76 95.60,583.77 96.09,583.77 96.59,583.77 97.09,583.78 97.58,583.78 98.08,583.78 98.58,583.78 99.07,583.79 99.57,583.79 100.07,583.79 100.56,583.79 101.06,583.79 101.56,583.79 102.05,583.79 102.55,583.79 103.05,583.80 103.54,583.80 104.04,583.80 104.54,583.80 105.03,583.80 105.53,583.80 106.03,583.80 106.52,583.80 107.02,583.80 107.52,583.80 108.01,583.80 108.51,583.80 109.01,583.80 109.50,583.80 110.00,583.80" fill="none" stroke="#6ab23e" stroke-width="1.2"/>
<polyline points="35.5,583.80 35.50,582.98 36.00,582.76 36.49,582.50 36.99,582.18 37.49,581.80 37.98,581.37 38.48,580.88 38.98,580.32 39.47,579.71 39.97,579.04 40.47,578.34 40.96,577.61 41.46,576.87 41.96,576.14 42.45,575.44 42.95,574.79 43.45,574.21 43.94,573.73 44.44,573.36 44.94,573.10 45.43,572.98 45.93,573.00 46.43,573.14 46.92,573.42 47.42,573.80 47.92,574.29 48.41,574.85 48.91,575.47 49.41,576.13 49.90,576.80 50.40,577.47 50.90,578.12 51.39,578.73 51.89,579.30 52.39,579.81 52.88,580.27 53.38,580.66 53.88,581.00 54.37,581.28 54.87,581.51 55.37,581.69 55.86,581.84 56.36,581.95 56.86,582.03 57.35,582.09 57.85,582.13 58.35,582.15 58.84,582.17 59.34,582.18 59.84,582.19 60.33,582.19 60.83,582.19 61.33,582.19 61.82,582.19 62.32,582.20 62.82,582.20 63.31,582.21 63.81,582.22 64.31,582.23 64.80,582.24 65.30,582.26 65.80,582.28 66.29,582.30 66.79,582.32 67.29,582.35 67.78,582.38 68.28,582.40 68.78,582.44 69.27,582.47 69.77,582.50 70.27,582.54 70.76,582.57 71.26,582.61 71.76,582.65 72.25,582.69 72.75,582.73 73.25,582.77 73.74,582.81 74.24,582.85 74.74,582.89 75.23,582.93 75.73,582.97 76.23,583.01 76.72,583.05 77.22,583.08 77.72,583.12 78.21,583.16 78.71,583.19 79.21,583.23 79.70,583.26 80.20,583.29 80.70,583.32 81.19,583.35 81.69,583.38 82.19,583.41 82.68,583.44 83.18,583.46 83.68,583.49 84.17,583.51 84.67,583.53 85.17,583.55 85.66,583.57 86.16,583.59 86.66,583.61 87.15,583.62 87.65,583.64 88.15,583.65 88.64,583.66 89.14,583.68 89.64,583.69 90.13,583.70 90.63,583.71 91.13,583.72 91.62,583.72 92.12,583.73 92.62,583.74 93.11,583.74 93.61,583.75 94.11,583.76 94.60,583.76 95.10,583.76 95.60,583.77 96.09,583.77 96.59,583.77 97.09,583.78 97.58,583.78 98.08,583.78 98.58,583.78 99.07,583.79 99.57,583.79 100.07,583.79 100.56,583.79 101.06,583.79 101.56,583.79 102.05,583.79 102.55,583.79 103.05,583.80 103.54,583.80 104.04,583.80 104.54,583.80 105.03,583.80 105.53,583.80 106.03,583.80 106.52,583.80 107.02,583.80 107.52,583.80 108.01,583.80 108.51,583.80 109.01,583.80 109.50,583.80 110.00,583.80" fill="none" stroke="#fff" stroke-width="0.5" stroke-opacity="0.6" transform="translate(0,-1.1)"/>
<polygon points="35.5,589.50 35.50,589.08 36.00,588.95 36.49,588.80 36.99,588.62 37.49,588.39 37.98,588.12 38.48,587.80 38.98,587.43 39.47,587.00 39.97,586.52 40.47,585.98 40.96,585.39 41.46,584.76 41.96,584.09 42.45,583.39 42.95,582.69 43.45,582.00 43.94,581.33 44.44,580.70 44.94,580.14 45.43,579.66 45.93,579.28 46.43,579.00 46.92,578.85 47.42,578.81 47.92,578.90 48.41,579.10 48.91,579.42 49.41,579.83 49.90,580.33 50.40,580.89 50.90,581.50 51.39,582.14 51.89,582.79 52.39,583.44 52.88,584.06 53.38,584.65 53.88,585.20 54.37,585.69 54.87,586.14 55.37,586.53 55.86,586.87 56.36,587.15 56.86,587.39 57.35,587.58 57.85,587.74 58.35,587.86 58.84,587.96 59.34,588.03 59.84,588.08 60.33,588.12 60.83,588.14 61.33,588.16 61.82,588.17 62.32,588.18 62.82,588.18 63.31,588.19 63.81,588.19 64.31,588.19 64.80,588.20 65.30,588.20 65.80,588.21 66.29,588.22 66.79,588.23 67.29,588.25 67.78,588.26 68.28,588.28 68.78,588.30 69.27,588.32 69.77,588.34 70.27,588.37 70.76,588.39 71.26,588.42 71.76,588.45 72.25,588.47 72.75,588.50 73.25,588.53 73.74,588.57 74.24,588.60 74.74,588.63 75.23,588.66 75.73,588.69 76.23,588.73 76.72,588.76 77.22,588.79 77.72,588.82 78.21,588.86 78.71,588.89 79.21,588.92 79.70,588.95 80.20,588.98 80.70,589.01 81.19,589.03 81.69,589.06 82.19,589.09 82.68,589.11 83.18,589.14 83.68,589.16 84.17,589.18 84.67,589.21 85.17,589.23 85.66,589.25 86.16,589.26 86.66,589.28 87.15,589.30 87.65,589.31 88.15,589.33 88.64,589.34 89.14,589.36 89.64,589.37 90.13,589.38 90.63,589.39 91.13,589.40 91.62,589.41 92.12,589.42 92.62,589.42 93.11,589.43 93.61,589.44 94.11,589.44 94.60,589.45 95.10,589.45 95.60,589.46 96.09,589.46 96.59,589.47 97.09,589.47 97.58,589.47 98.08,589.48 98.58,589.48 99.07,589.48 99.57,589.48 100.07,589.49 100.56,589.49 101.06,589.49 101.56,589.49 102.05,589.49 102.55,589.49 103.05,589.49 103.54,589.49 104.04,589.50 104.54,589.50 105.03,589.50 105.53,589.50 106.03,589.50 106.52,589.50 107.02,589.50 107.52,589.50 108.01,589.50 108.51,589.50 109.01,589.50 109.50,589.50 110.00,589.50 110,589.50" fill="#2b4b8c" fill-opacity="0.3" stroke="none"/>
<polyline points="35.50,589.08 36.00,588.95 36.49,588.80 36.99,588.62 37.49,588.39 37.98,588.12 38.48,587.80 38.98,587.43 39.47,587.00 39.97,586.52 40.47,585.98 40.96,585.39 41.46,584.76 41.96,584.09 42.45,583.39 42.95,582.69 43.45,582.00 43.94,581.33 44.44,580.70 44.94,580.14 45.43,579.66 45.93,579.28 46.43,579.00 46.92,578.85 47.42,578.81 47.92,578.90 48.41,579.10 48.91,579.42 49.41,579.83 49.90,580.33 50.40,580.89 50.90,581.50 51.39,582.14 51.89,582.79 52.39,583.44 52.88,584.06 53.38,584.65 53.88,585.20 54.37,585.69 54.87,586.14 55.37,586.53 55.86,586.87 56.36,587.15 56.86,587.39 57.35,587.58 57.85,587.74 58.35,587.86 58.84,587.96 59.34,588.03 59.84,588.08 60.33,588.12 60.83,588.14 61.33,588.16 61.82,588.17 62.32,588.18 62.82,588.18 63.31,588.19 63.81,588.19 64.31,588.19 64.80,588.20 65.30,588.20 65.80,588.21 66.29,588.22 66.79,588.23 67.29,588.25 67.78,588.26 68.28,588.28 68.78,588.30 69.27,588.32 69.77,588.34 70.27,588.37 70.76,588.39 71.26,588.42 71.76,588.45 72.25,588.47 72.75,588.50 73.25,588.53 73.74,588.57 74.24,588.60 74.74,588.63 75.23,588.66 75.73,588.69 76.23,588.73 76.72,588.76 77.22,588.79 77.72,588.82 78.21,588.86 78.71,588.89 79.21,588.92 79.70,588.95 80.20,588.98 80.70,589.01 81.19,589.03 81.69,589.06 82.19,589.09 82.68,589.11 83.18,589.14 83.68,589.16 84.17,589.18 84.67,589.21 85.17,589.23 85.66,589.25 86.16,589.26 86.66,589.28 87.15,589.30 87.65,589.31 88.15,589.33 88.64,589.34 89.14,589.36 89.64,589.37 90.13,589.38 90.63,589.39 91.13,589.40 91.62,589.41 92.12,589.42 92.62,589.42 93.11,589.43 93.61,589.44 94.11,589.44 94.60,589.45 95.10,589.45 95.60,589.46 96.09,589.46 96.59,589.47 97.09,589.47 97.58,589.47 98.08,589.48 98.58,589.48 99.07,589.48 99.57,589.48 100.07,589.49 100.56,589.49 101.06,589.49 101.56,589.49 102.05,589.49 102.55,589.49 103.05,589.49 103.54,589.49 104.04,589.50 104.54,589.50 105.03,589.50 105.53,589.50 106.03,589.50 106.52,589.50 107.02,589.50 107.52,589.50 108.01,589.50 108.51,589.50 109.01,589.50 109.50,589.50 110.00,589.50" fill="none" stroke="#2b4b8c" stroke-width="1.2"/>
<polyline points="35.5,589.50 35.50,589.08 36.00,588.95 36.49,588.80 36.99,588.62 37.49,588.39 37.98,588.12 38.48,587.80 38.98,587.43 39.47,587.00 39.97,586.52 40.47,585.98 40.96,585.39 41.46,584.76 41.96,584.09 42.45,583.39 42.95,582.69 43.45,582.00 43.94,581.33 44.44,580.70 44.94,580.14 45.43,579.66 45.93,579.28 46.43,579.00 46.92,578.85 47.42,578.81 47.92,578.90 48.41,579.10 48.91,579.42 49.41,579.83 49.90,580.33 50.40,580.89 50.90,581.50 51.39,582.14 51.89,582.79 52.39,583.44 52.88,584.06 53.38,584.65 53.88,585.20 54.37,585.69 54.87,586.14 55.37,586.53 55.86,586.87 56.36,587.15 56.86,587.39 57.35,587.58 57.85,587.74 58.35,587.86 58.84,587.96 59.34,588.03 59.84,588.08 60.33,588.12 60.83,588.14 61.33,588.16 61.82,588.17 62.32,588.18 62.82,588.18 63.31,588.19 63.81,588.19 64.31,588.19 64.80,588.20 65.30,588.20 65.80,588.21 66.29,588.22 66.79,588.23 67.29,588.25 67.78,588.26 68.28,588.28 68.78,588.30 69.27,588.32 69.77,588.34 70.27,588.37 70.76,588.39 71.26,588.42 71.76,588.45 72.25,588.47 72.75,588.50 73.25,588.53 73.74,588.57 74.24,588.60 74.74,588.63 75.23,588.66 75.73,588.69 76.23,588.73 76.72,588.76 77.22,588.79 77.72,588.82 78.21,588.86 78.71,588.89 79.21,588.92 79.70,588.95 80.20,588.98 80.70,589.01 81.19,589.03 81.69,589.06 82.19,589.09 82.68,589.11 83.18,589.14 83.68,589.16 84.17,589.18 84.67,589.21 85.17,589.23 85.66,589.25 86.16,589.26 86.66,589.28 87.15,589.30 87.65,589.31 88.15,589.33 88.64,589.34 89.14,589.36 89.64,589.37 90.13,589.38 90.63,589.39 91.13,589.40 91.62,589.41 92.12,589.42 92.62,589.42 93.11,589.43 93.61,589.44 94.11,589.44 94.60,589.45 95.10,589.45 95.60,589.46 96.09,589.46 96.59,589.47 97.09,589.47 97.58,589.47 98.08,589.48 98.58,589.48 99.07,589.48 99.57,589.48 100.07,589.49 100.56,589.49 101.06,589.49 101.56,589.49 102.05,589.49 102.55,589.49 103.05,589.49 103.54,589.49 104.04,589.50 104.54,589.50 105.03,589.50 105.53,589.50 106.03,589.50 106.52,589.50 107.02,589.50 107.52,589.50 108.01,589.50 108.51,589.50 109.01,589.50 109.50,589.50 110.00,589.50" fill="none" stroke="#fff" stroke-width="0.5" stroke-opacity="0.6" transform="translate(0,-1.1)"/>
<polygon points="35.5,594.90 35.50,594.83 36.00,594.80 36.49,594.76 36.99,594.70 37.49,594.62 37.98,594.52 38.48,594.39 38.98,594.23 39.47,594.02 39.97,593.76 40.47,593.45 40.96,593.08 41.46,592.64 41.96,592.14 42.45,591.58 42.95,590.96 43.45,590.28 43.94,589.57 44.44,588.83 44.94,588.09 45.43,587.36 45.93,586.67 46.43,586.03 46.92,585.49 47.42,585.05 47.92,584.73 48.41,584.54 48.91,584.50 49.41,584.61 49.90,584.85 50.40,585.23 50.90,585.72 51.39,586.31 51.89,586.97 52.39,587.68 52.88,588.42 53.38,589.16 53.88,589.89 54.37,590.59 54.87,591.24 55.37,591.84 55.86,592.37 56.36,592.84 56.86,593.25 57.35,593.59 57.85,593.88 58.35,594.11 58.84,594.30 59.34,594.45 59.84,594.57 60.33,594.66 60.83,594.73 61.33,594.78 61.82,594.82 62.32,594.84 62.82,594.86 63.31,594.87 63.81,594.88 64.31,594.89 64.80,594.89 65.30,594.90 65.80,594.90 66.29,594.90 66.79,594.90 67.29,594.90 67.78,594.90 68.28,594.90 68.78,594.90 69.27,594.90 69.77,594.90 70.27,594.90 70.76,594.90 71.26,594.90 71.76,594.90 72.25,594.90 72.75,594.90 73.25,594.90 73.74,594.90 74.24,594.90 74.74,594.90 75.23,594.90 75.73,594.90 76.23,594.90 76.72,594.90 77.22,594.90 77.72,594.90 78.21,594.90 78.71,594.90 79.21,594.90 79.70,594.90 80.20,594.90 80.70,594.90 81.19,594.90 81.69,594.90 82.19,594.90 82.68,594.90 83.18,594.90 83.68,594.90 84.17,594.90 84.67,594.90 85.17,594.90 85.66,594.90 86.16,594.90 86.66,594.90 87.15,594.90 87.65,594.90 88.15,594.90 88.64,594.90 89.14,594.90 89.64,594.90 90.13,594.90 90.63,594.90 91.13,594.90 91.62,594.90 92.12,594.90 92.62,594.90 93.11,594.90 93.61,594.90 94.11,594.90 94.60,594.90 95.10,594.90 95.60,594.90 96.09,594.90 96.59,594.90 97.09,594.90 97.58,594.90 98.08,594.90 98.58,594.90 99.07,594.90 99.57,594.90 100.07,594.90 100.56,594.90 101.06,594.90 101.56,594.90 102.05,594.90 102.55,594.90 103.05,594.90 103.54,594.90 104.04,594.90 104.54,594.90 105.03,594.90 105.53,594.90 106.03,594.90 106.52,594.90 107.02,594.90 107.52,594.90 108.01,594.90 108.51,594.90 109.01,594.90 109.50,594.90 110.00,594.90 110,594.90" fill="#ad0e3a" fill-opacity="0.35" stroke="none"/>
<polyline points="35.50,594.83 36.00,594.80 36.49,594.76 36.99,594.70 37.49,594.62 37.98,594.52 38.48,594.39 38.98,594.23 39.47,594.02 39.97,593.76 40.47,593.45 40.96,593.08 41.46,592.64 41.96,592.14 42.45,591.58 42.95,590.96 43.45,590.28 43.94,589.57 44.44,588.83 44.94,588.09 45.43,587.36 45.93,586.67 46.43,586.03 46.92,585.49 47.42,585.05 47.92,584.73 48.41,584.54 48.91,584.50 49.41,584.61 49.90,584.85 50.40,585.23 50.90,585.72 51.39,586.31 51.89,586.97 52.39,587.68 52.88,588.42 53.38,589.16 53.88,589.89 54.37,590.59 54.87,591.24 55.37,591.84 55.86,592.37 56.36,592.84 56.86,593.25 57.35,593.59 57.85,593.88 58.35,594.11 58.84,594.30 59.34,594.45 59.84,594.57 60.33,594.66 60.83,594.73 61.33,594.78 61.82,594.82 62.32,594.84 62.82,594.86 63.31,594.87 63.81,594.88 64.31,594.89 64.80,594.89 65.30,594.90 65.80,594.90 66.29,594.90 66.79,594.90 67.29,594.90 67.78,594.90 68.28,594.90 68.78,594.90 69.27,594.90 69.77,594.90 70.27,594.90 70.76,594.90 71.26,594.90 71.76,594.90 72.25,594.90 72.75,594.90 73.25,594.90 73.74,594.90 74.24,594.90 74.74,594.90 75.23,594.90 75.73,594.90 76.23,594.90 76.72,594.90 77.22,594.90 77.72,594.90 78.21,594.90 78.71,594.90 79.21,594.90 79.70,594.90 80.20,594.90 80.70,594.90 81.19,594.90 81.69,594.90 82.19,594.90 82.68,594.90 83.18,594.90 83.68,594.90 84.17,594.90 84.67,594.90 85.17,594.90 85.66,594.90 86.16,594.90 86.66,594.90 87.15,594.90 87.65,594.90 88.15,594.90 88.64,594.90 89.14,594.90 89.64,594.90 90.13,594.90 90.63,594.90 91.13,594.90 91.62,594.90 92.12,594.90 92.62,594.90 93.11,594.90 93.61,594.90 94.11,594.90 94.60,594.90 95.10,594.90 95.60,594.90 96.09,594.90 96.59,594.90 97.09,594.90 97.58,594.90 98.08,594.90 98.58,594.90 99.07,594.90 99.57,594.90 100.07,594.90 100.56,594.90 101.06,594.90 101.56,594.90 102.05,594.90 102.55,594.90 103.05,594.90 103.54,594.90 104.04,594.90 104.54,594.90 105.03,594.90 105.53,594.90 106.03,594.90 106.52,594.90 107.02,594.90 107.52,594.90 108.01,594.90 108.51,594.90 109.01,594.90 109.50,594.90 110.00,594.90" fill="none" stroke="#ad0e3a" stroke-width="1.2"/>
<polyline points="35.5,594.90 35.50,594.83 36.00,594.80 36.49,594.76 36.99,594.70 37.49,594.62 37.98,594.52 38.48,594.39 38.98,594.23 39.47,594.02 39.97,593.76 40.47,593.45 40.96,593.08 41.46,592.64 41.96,592.14 42.45,591.58 42.95,590.96 43.45,590.28 43.94,589.57 44.44,588.83 44.94,588.09 45.43,587.36 45.93,586.67 46.43,586.03 46.92,585.49 47.42,585.05 47.92,584.73 48.41,584.54 48.91,584.50 49.41,584.61 49.90,584.85 50.40,585.23 50.90,585.72 51.39,586.31 51.89,586.97 52.39,587.68 52.88,588.42 53.38,589.16 53.88,589.89 54.37,590.59 54.87,591.24 55.37,591.84 55.86,592.37 56.36,592.84 56.86,593.25 57.35,593.59 57.85,593.88 58.35,594.11 58.84,594.30 59.34,594.45 59.84,594.57 60.33,594.66 60.83,594.73 61.33,594.78 61.82,594.82 62.32,594.84 62.82,594.86 63.31,594.87 63.81,594.88 64.31,594.89 64.80,594.89 65.30,594.90 65.80,594.90 66.29,594.90 66.79,594.90 67.29,594.90 67.78,594.90 68.28,594.90 68.78,594.90 69.27,594.90 69.77,594.90 70.27,594.90 70.76,594.90 71.26,594.90 71.76,594.90 72.25,594.90 72.75,594.90 73.25,594.90 73.74,594.90 74.24,594.90 74.74,594.90 75.23,594.90 75.73,594.90 76.23,594.90 76.72,594.90 77.22,594.90 77.72,594.90 78.21,594.90 78.71,594.90 79.21,594.90 79.70,594.90 80.20,594.90 80.70,594.90 81.19,594.90 81.69,594.90 82.19,594.90 82.68,594.90 83.18,594.90 83.68,594.90 84.17,594.90 84.67,594.90 85.17,594.90 85.66,594.90 86.16,594.90 86.66,594.90 87.15,594.90 87.65,594.90 88.15,594.90 88.64,594.90 89.14,594.90 89.64,594.90 90.13,594.90 90.63,594.90 91.13,594.90 91.62,594.90 92.12,594.90 92.62,594.90 93.11,594.90 93.61,594.90 94.11,594.90 94.60,594.90 95.10,594.90 95.60,594.90 96.09,594.90 96.59,594.90 97.09,594.90 97.58,594.90 98.08,594.90 98.58,594.90 99.07,594.90 99.57,594.90 100.07,594.90 100.56,594.90 101.06,594.90 101.56,594.90 102.05,594.90 102.55,594.90 103.05,594.90 103.54,594.90 104.04,594.90 104.54,594.90 105.03,594.90 105.53,594.90 106.03,594.90 106.52,594.90 107.02,594.90 107.52,594.90 108.01,594.90 108.51,594.90 109.01,594.90 109.50,594.90 110.00,594.90" fill="none" stroke="#fff" stroke-width="0.5" stroke-opacity="0.6" transform="translate(0,-1.1)"/>
<polygon points="35.5,600.60 35.50,600.57 36.00,600.57 36.49,600.56 36.99,600.56 37.49,600.55 37.98,600.54 38.48,600.54 38.98,600.53 39.47,600.52 39.97,600.50 40.47,600.49 40.96,600.48 41.46,600.46 41.96,600.44 42.45,600.42 42.95,600.40 43.45,600.37 43.94,600.35 44.44,600.31 44.94,600.28 45.43,600.24 45.93,600.19 46.43,600.14 46.92,600.07 47.42,600.00 47.92,599.90 48.41,599.79 48.91,599.66 49.41,599.50 49.90,599.31 50.40,599.07 50.90,598.79 51.39,598.46 51.89,598.08 52.39,597.63 52.88,597.12 53.38,596.55 53.88,595.93 54.37,595.26 54.87,594.56 55.37,593.83 55.86,593.10 56.36,592.39 56.86,591.72 57.35,591.12 57.85,590.60 58.35,590.18 58.84,589.88 59.34,589.72 59.84,589.68 60.33,589.77 60.83,589.99 61.33,590.32 61.82,590.74 62.32,591.24 62.82,591.78 63.31,592.36 63.81,592.94 64.31,593.52 64.80,594.07 65.30,594.58 65.80,595.05 66.29,595.46 66.79,595.82 67.29,596.14 67.78,596.40 68.28,596.62 68.78,596.80 69.27,596.95 69.77,597.07 70.27,597.17 70.76,597.26 71.26,597.33 71.76,597.39 72.25,597.45 72.75,597.51 73.25,597.56 73.74,597.61 74.24,597.66 74.74,597.71 75.23,597.76 75.73,597.81 76.23,597.87 76.72,597.92 77.22,597.97 77.72,598.03 78.21,598.08 78.71,598.13 79.21,598.18 79.70,598.23 80.20,598.29 80.70,598.34 81.19,598.39 81.69,598.43 82.19,598.48 82.68,598.53 83.18,598.58 83.68,598.62 84.17,598.67 84.67,598.71 85.17,598.75 85.66,598.80 86.16,598.84 86.66,598.88 87.15,598.92 87.65,598.96 88.15,599.01 88.64,599.05 89.14,599.09 89.64,599.13 90.13,599.17 90.63,599.21 91.13,599.25 91.62,599.29 92.12,599.33 92.62,599.37 93.11,599.42 93.61,599.46 94.11,599.50 94.60,599.54 95.10,599.58 95.60,599.62 96.09,599.66 96.59,599.70 97.09,599.73 97.58,599.77 98.08,599.81 98.58,599.85 99.07,599.88 99.57,599.92 100.07,599.96 100.56,599.99 101.06,600.02 101.56,600.05 102.05,600.09 102.55,600.12 103.05,600.15 103.54,600.17 104.04,600.20 104.54,600.23 105.03,600.25 105.53,600.27 106.03,600.30 106.52,600.32 107.02,600.34 107.52,600.36 108.01,600.38 108.51,600.39 109.01,600.41 109.50,600.43 110.00,600.44 110,600.60" fill="#6ab23e" fill-opacity="0.45" stroke="none"/>
<polyline points="35.50,600.57 36.00,600.57 36.49,600.56 36.99,600.56 37.49,600.55 37.98,600.54 38.48,600.54 38.98,600.53 39.47,600.52 39.97,600.50 40.47,600.49 40.96,600.48 41.46,600.46 41.96,600.44 42.45,600.42 42.95,600.40 43.45,600.37 43.94,600.35 44.44,600.31 44.94,600.28 45.43,600.24 45.93,600.19 46.43,600.14 46.92,600.07 47.42,600.00 47.92,599.90 48.41,599.79 48.91,599.66 49.41,599.50 49.90,599.31 50.40,599.07 50.90,598.79 51.39,598.46 51.89,598.08 52.39,597.63 52.88,597.12 53.38,596.55 53.88,595.93 54.37,595.26 54.87,594.56 55.37,593.83 55.86,593.10 56.36,592.39 56.86,591.72 57.35,591.12 57.85,590.60 58.35,590.18 58.84,589.88 59.34,589.72 59.84,589.68 60.33,589.77 60.83,589.99 61.33,590.32 61.82,590.74 62.32,591.24 62.82,591.78 63.31,592.36 63.81,592.94 64.31,593.52 64.80,594.07 65.30,594.58 65.80,595.05 66.29,595.46 66.79,595.82 67.29,596.14 67.78,596.40 68.28,596.62 68.78,596.80 69.27,596.95 69.77,597.07 70.27,597.17 70.76,597.26 71.26,597.33 71.76,597.39 72.25,597.45 72.75,597.51 73.25,597.56 73.74,597.61 74.24,597.66 74.74,597.71 75.23,597.76 75.73,597.81 76.23,597.87 76.72,597.92 77.22,597.97 77.72,598.03 78.21,598.08 78.71,598.13 79.21,598.18 79.70,598.23 80.20,598.29 80.70,598.34 81.19,598.39 81.69,598.43 82.19,598.48 82.68,598.53 83.18,598.58 83.68,598.62 84.17,598.67 84.67,598.71 85.17,598.75 85.66,598.80 86.16,598.84 86.66,598.88 87.15,598.92 87.65,598.96 88.15,599.01 88.64,599.05 89.14,599.09 89.64,599.13 90.13,599.17 90.63,599.21 91.13,599.25 91.62,599.29 92.12,599.33 92.62,599.37 93.11,599.42 93.61,599.46 94.11,599.50 94.60,599.54 95.10,599.58 95.60,599.62 96.09,599.66 96.59,599.70 97.09,599.73 97.58,599.77 98.08,599.81 98.58,599.85 99.07,599.88 99.57,599.92 100.07,599.96 100.56,599.99 101.06,600.02 101.56,600.05 102.05,600.09 102.55,600.12 103.05,600.15 103.54,600.17 104.04,600.20 104.54,600.23 105.03,600.25 105.53,600.27 106.03,600.30 106.52,600.32 107.02,600.34 107.52,600.36 108.01,600.38 108.51,600.39 109.01,600.41 109.50,600.43 110.00,600.44" fill="none" stroke="#6ab23e" stroke-width="1.2"/>
<polyline points="35.5,600.60 35.50,600.57 36.00,600.57 36.49,600.56 36.99,600.56 37.49,600.55 37.98,600.54 38.48,600.54 38.98,600.53 39.47,600.52 39.97,600.50 40.47,600.49 40.96,600.48 41.46,600.46 41.96,600.44 42.45,600.42 42.95,600.40 43.45,600.37 43.94,600.35 44.44,600.31 44.94,600.28 45.43,600.24 45.93,600.19 46.43,600.14 46.92,600.07 47.42,600.00 47.92,599.90 48.41,599.79 48.91,599.66 49.41,599.50 49.90,599.31 50.40,599.07 50.90,598.79 51.39,598.46 51.89,598.08 52.39,597.63 52.88,597.12 53.38,596.55 53.88,595.93 54.37,595.26 54.87,594.56 55.37,593.83 55.86,593.10 56.36,592.39 56.86,591.72 57.35,591.12 57.85,590.60 58.35,590.18 58.84,589.88 59.34,589.72 59.84,589.68 60.33,589.77 60.83,589.99 61.33,590.32 61.82,590.74 62.32,591.24 62.82,591.78 63.31,592.36 63.81,592.94 64.31,593.52 64.80,594.07 65.30,594.58 65.80,595.05 66.29,595.46 66.79,595.82 67.29,596.14 67.78,596.40 68.28,596.62 68.78,596.80 69.27,596.95 69.77,597.07 70.27,597.17 70.76,597.26 71.26,597.33 71.76,597.39 72.25,597.45 72.75,597.51 73.25,597.56 73.74,597.61 74.24,597.66 74.74,597.71 75.23,597.76 75.73,597.81 76.23,597.87 76.72,597.92 77.22,597.97 77.72,598.03 78.21,598.08 78.71,598.13 79.21,598.18 79.70,598.23 80.20,598.29 80.70,598.34 81.19,598.39 81.69,598.43 82.19,598.48 82.68,598.53 83.18,598.58 83.68,598.62 84.17,598.67 84.67,598.71 85.17,598.75 85.66,598.80 86.16,598.84 86.66,598.88 87.15,598.92 87.65,598.96 88.15,599.01 88.64,599.05 89.14,599.09 89.64,599.13 90.13,599.17 90.63,599.21 91.13,599.25 91.62,599.29 92.12,599.33 92.62,599.37 93.11,599.42 93.61,599.46 94.11,599.50 94.60,599.54 95.10,599.58 95.60,599.62 96.09,599.66 96.59,599.70 97.09,599.73 97.58,599.77 98.08,599.81 98.58,599.85 99.07,599.88 99.57,599.92 100.07,599.96 100.56,599.99 101.06,600.02 101.56,600.05 102.05,600.09 102.55,600.12 103.05,600.15 103.54,600.17 104.04,600.20 104.54,600.23 105.03,600.25 105.53,600.27 106.03,600.30 106.52,600.32 107.02,600.34 107.52,600.36 108.01,600.38 108.51,600.39 109.01,600.41 109.50,600.43 110.00,600.44" fill="none" stroke="#fff" stroke-width="0.5" stroke-opacity="0.6" transform="translate(0,-1.1)"/>
<polygon points="35.5,605.90 35.50,605.87 36.00,605.87 36.49,605.86 36.99,605.86 37.49,605.85 37.98,605.84 38.48,605.84 38.98,605.83 39.47,605.82 39.97,605.80 40.47,605.79 40.96,605.78 41.46,605.76 41.96,605.74 42.45,605.72 42.95,605.70 43.45,605.67 43.94,605.64 44.44,605.61 44.94,605.57 45.43,605.52 45.93,605.46 46.43,605.40 46.92,605.32 47.42,605.22 47.92,605.10 48.41,604.96 48.91,604.78 49.41,604.57 49.90,604.31 50.40,604.01 50.90,603.65 51.39,603.23 51.89,602.75 52.39,602.21 52.88,601.62 53.38,600.97 53.88,600.28 54.37,599.56 54.87,598.83 55.37,598.11 55.86,597.43 56.36,596.79 56.86,596.24 57.35,595.78 57.85,595.43 58.35,595.21 58.84,595.12 59.34,595.16 59.84,595.33 60.33,595.61 60.83,595.99 61.33,596.45 61.82,596.97 62.32,597.53 62.82,598.11 63.31,598.68 63.81,599.23 64.31,599.75 64.80,600.23 65.30,600.65 65.80,601.03 66.29,601.35 66.79,601.62 67.29,601.85 67.78,602.03 68.28,602.19 68.78,602.31 69.27,602.41 69.77,602.49 70.27,602.56 70.76,602.62 71.26,602.68 71.76,602.73 72.25,602.78 72.75,602.82 73.25,602.87 73.74,602.92 74.24,602.97 74.74,603.01 75.23,603.06 75.73,603.12 76.23,603.17 76.72,603.22 77.22,603.27 77.72,603.33 78.21,603.38 78.71,603.43 79.21,603.48 79.70,603.53 80.20,603.59 80.70,603.64 81.19,603.69 81.69,603.73 82.19,603.78 82.68,603.83 83.18,603.88 83.68,603.92 84.17,603.97 84.67,604.01 85.17,604.05 85.66,604.10 86.16,604.14 86.66,604.18 87.15,604.22 87.65,604.26 88.15,604.31 88.64,604.35 89.14,604.39 89.64,604.43 90.13,604.47 90.63,604.51 91.13,604.55 91.62,604.59 92.12,604.63 92.62,604.67 93.11,604.72 93.61,604.76 94.11,604.80 94.60,604.84 95.10,604.88 95.60,604.92 96.09,604.96 96.59,605.00 97.09,605.03 97.58,605.07 98.08,605.11 98.58,605.15 99.07,605.18 99.57,605.22 100.07,605.26 100.56,605.29 101.06,605.32 101.56,605.35 102.05,605.39 102.55,605.42 103.05,605.45 103.54,605.47 104.04,605.50 104.54,605.53 105.03,605.55 105.53,605.57 106.03,605.60 106.52,605.62 107.02,605.64 107.52,605.66 108.01,605.68 108.51,605.69 109.01,605.71 109.50,605.73 110.00,605.74 110,605.90" fill="#6ab23e" fill-opacity="0.45" stroke="none"/>
<polyline points="35.50,605.87 36.00,605.87 36.49,605.86 36.99,605.86 37.49,605.85 37.98,605.84 38.48,605.84 38.98,605.83 39.47,605.82 39.97,605.80 40.47,605.79 40.96,605.78 41.46,605.76 41.96,605.74 42.45,605.72 42.95,605.70 43.45,605.67 43.94,605.64 44.44,605.61 44.94,605.57 45.43,605.52 45.93,605.46 46.43,605.40 46.92,605.32 47.42,605.22 47.92,605.10 48.41,604.96 48.91,604.78 49.41,604.57 49.90,604.31 50.40,604.01 50.90,603.65 51.39,603.23 51.89,602.75 52.39,602.21 52.88,601.62 53.38,600.97 53.88,600.28 54.37,599.56 54.87,598.83 55.37,598.11 55.86,597.43 56.36,596.79 56.86,596.24 57.35,595.78 57.85,595.43 58.35,595.21 58.84,595.12 59.34,595.16 59.84,595.33 60.33,595.61 60.83,595.99 61.33,596.45 61.82,596.97 62.32,597.53 62.82,598.11 63.31,598.68 63.81,599.23 64.31,599.75 64.80,600.23 65.30,600.65 65.80,601.03 66.29,601.35 66.79,601.62 67.29,601.85 67.78,602.03 68.28,602.19 68.78,602.31 69.27,602.41 69.77,602.49 70.27,602.56 70.76,602.62 71.26,602.68 71.76,602.73 72.25,602.78 72.75,602.82 73.25,602.87 73.74,602.92 74.24,602.97 74.74,603.01 75.23,603.06 75.73,603.12 76.23,603.17 76.72,603.22 77.22,603.27 77.72,603.33 78.21,603.38 78.71,603.43 79.21,603.48 79.70,603.53 80.20,603.59 80.70,603.64 81.19,603.69 81.69,603.73 82.19,603.78 82.68,603.83 83.18,603.88 83.68,603.92 84.17,603.97 84.67,604.01 85.17,604.05 85.66,604.10 86.16,604.14 86.66,604.18 87.15,604.22 87.65,604.26 88.15,604.31 88.64,604.35 89.14,604.39 89.64,604.43 90.13,604.47 90.63,604.51 91.13,604.55 91.62,604.59 92.12,604.63 92.62,604.67 93.11,604.72 93.61,604.76 94.11,604.80 94.60,604.84 95.10,604.88 95.60,604.92 96.09,604.96 96.59,605.00 97.09,605.03 97.58,605.07 98.08,605.11 98.58,605.15 99.07,605.18 99.57,605.22 100.07,605.26 100.56,605.29 101.06,605.32 101.56,605.35 102.05,605.39 102.55,605.42 103.05,605.45 103.54,605.47 104.04,605.50 104.54,605.53 105.03,605.55 105.53,605.57 106.03,605.60 106.52,605.62 107.02,605.64 107.52,605.66 108.01,605.68 108.51,605.69 109.01,605.71 109.50,605.73 110.00,605.74" fill="none" stroke="#6ab23e" stroke-width="1.2"/>
<polyline points="35.5,605.90 35.50,605.87 36.00,605.87 36.49,605.86 36.99,605.86 37.49,605.85 37.98,605.84 38.48,605.84 38.98,605.83 39.47,605.82 39.97,605.80 40.47,605.79 40.96,605.78 41.46,605.76 41.96,605.74 42.45,605.72 42.95,605.70 43.45,605.67 43.94,605.64 44.44,605.61 44.94,605.57 45.43,605.52 45.93,605.46 46.43,605.40 46.92,605.32 47.42,605.22 47.92,605.10 48.41,604.96 48.91,604.78 49.41,604.57 49.90,604.31 50.40,604.01 50.90,603.65 51.39,603.23 51.89,602.75 52.39,602.21 52.88,601.62 53.38,600.97 53.88,600.28 54.37,599.56 54.87,598.83 55.37,598.11 55.86,597.43 56.36,596.79 56.86,596.24 57.35,595.78 57.85,595.43 58.35,595.21 58.84,595.12 59.34,595.16 59.84,595.33 60.33,595.61 60.83,595.99 61.33,596.45 61.82,596.97 62.32,597.53 62.82,598.11 63.31,598.68 63.81,599.23 64.31,599.75 64.80,600.23 65.30,600.65 65.80,601.03 66.29,601.35 66.79,601.62 67.29,601.85 67.78,602.03 68.28,602.19 68.78,602.31 69.27,602.41 69.77,602.49 70.27,602.56 70.76,602.62 71.26,602.68 71.76,602.73 72.25,602.78 72.75,602.82 73.25,602.87 73.74,602.92 74.24,602.97 74.74,603.01 75.23,603.06 75.73,603.12 76.23,603.17 76.72,603.22 77.22,603.27 77.72,603.33 78.21,603.38 78.71,603.43 79.21,603.48 79.70,603.53 80.20,603.59 80.70,603.64 81.19,603.69 81.69,603.73 82.19,603.78 82.68,603.83 83.18,603.88 83.68,603.92 84.17,603.97 84.67,604.01 85.17,604.05 85.66,604.10 86.16,604.14 86.66,604.18 87.15,604.22 87.65,604.26 88.15,604.31 88.64,604.35 89.14,604.39 89.64,604.43 90.13,604.47 90.63,604.51 91.13,604.55 91.62,604.59 92.12,604.63 92.62,604.67 93.11,604.72 93.61,604.76 94.11,604.80 94.60,604.84 95.10,604.88 95.60,604.92 96.09,604.96 96.59,605.00 97.09,605.03 97.58,605.07 98.08,605.11 98.58,605.15 99.07,605.18 99.57,605.22 100.07,605.26 100.56,605.29 101.06,605.32 101.56,605.35 102.05,605.39 102.55,605.42 103.05,605.45 103.54,605.47 104.04,605.50 104.54,605.53 105.03,605.55 105.53,605.57 106.03,605.60 106.52,605.62 107.02,605.64 107.52,605.66 108.01,605.68 108.51,605.69 109.01,605.71 109.50,605.73 110.00,605.74" fill="none" stroke="#fff" stroke-width="0.5" stroke-opacity="0.6" transform="translate(0,-1.1)"/>
<polygon points="35.5,611.60 35.50,611.58 36.00,611.57 36.49,611.57 36.99,611.56 37.49,611.56 37.98,611.55 38.48,611.54 38.98,611.54 39.47,611.53 39.97,611.52 40.47,611.50 40.96,611.49 41.46,611.48 41.96,611.46 42.45,611.44 42.95,611.42 43.45,611.40 43.94,611.37 44.44,611.35 44.94,611.31 45.43,611.27 45.93,611.23 46.43,611.18 46.92,611.11 47.42,611.04 47.92,610.94 48.41,610.83 48.91,610.69 49.41,610.52 49.90,610.31 50.40,610.06 50.90,609.76 51.39,609.41 51.89,609.00 52.39,608.53 52.88,608.00 53.38,607.41 53.88,606.78 54.37,606.10 54.87,605.39 55.37,604.68 55.86,603.97 56.36,603.30 56.86,602.69 57.35,602.15 57.85,601.70 58.35,601.38 58.84,601.17 59.34,601.10 59.84,601.16 60.33,601.35 60.83,601.65 61.33,602.06 61.82,602.54 62.32,603.09 62.82,603.67 63.31,604.27 63.81,604.87 64.31,605.45 64.80,605.99 65.30,606.48 65.80,606.93 66.29,607.32 66.79,607.66 67.29,607.93 67.78,608.16 68.28,608.33 68.78,608.46 69.27,608.54 69.77,608.58 70.27,608.57 70.76,608.53 71.26,608.45 71.76,608.33 72.25,608.17 72.75,607.99 73.25,607.78 73.74,607.56 74.24,607.34 74.74,607.12 75.23,606.92 75.73,606.75 76.23,606.63 76.72,606.55 77.22,606.54 77.72,606.59 78.21,606.70 78.71,606.87 79.21,607.08 79.70,607.34 80.20,607.62 80.70,607.92 81.19,608.22 81.69,608.51 82.19,608.79 82.68,609.04 83.18,609.26 83.68,609.45 84.17,609.62 84.67,609.75 85.17,609.86 85.66,609.95 86.16,610.02 86.66,610.07 87.15,610.11 87.65,610.15 88.15,610.18 88.64,610.20 89.14,610.22 89.64,610.24 90.13,610.26 90.63,610.28 91.13,610.30 91.62,610.32 92.12,610.34 92.62,610.37 93.11,610.39 93.61,610.42 94.11,610.45 94.60,610.48 95.10,610.51 95.60,610.54 96.09,610.58 96.59,610.61 97.09,610.65 97.58,610.68 98.08,610.72 98.58,610.76 99.07,610.79 99.57,610.83 100.07,610.87 100.56,610.91 101.06,610.94 101.56,610.98 102.05,611.02 102.55,611.05 103.05,611.09 103.54,611.12 104.04,611.15 104.54,611.18 105.03,611.21 105.53,611.24 106.03,611.27 106.52,611.29 107.02,611.32 107.52,611.34 108.01,611.36 108.51,611.38 109.01,611.40 109.50,611.42 110.00,611.44 110,611.60" fill="#6ab23e" fill-opacity="0.45" stroke="none"/>
<polyline points="35.50,611.58 36.00,611.57 36.49,611.57 36.99,611.56 37.49,611.56 37.98,611.55 38.48,611.54 38.98,611.54 39.47,611.53 39.97,611.52 40.47,611.50 40.96,611.49 41.46,611.48 41.96,611.46 42.45,611.44 42.95,611.42 43.45,611.40 43.94,611.37 44.44,611.35 44.94,611.31 45.43,611.27 45.93,611.23 46.43,611.18 46.92,611.11 47.42,611.04 47.92,610.94 48.41,610.83 48.91,610.69 49.41,610.52 49.90,610.31 50.40,610.06 50.90,609.76 51.39,609.41 51.89,609.00 52.39,608.53 52.88,608.00 53.38,607.41 53.88,606.78 54.37,606.10 54.87,605.39 55.37,604.68 55.86,603.97 56.36,603.30 56.86,602.69 57.35,602.15 57.85,601.70 58.35,601.38 58.84,601.17 59.34,601.10 59.84,601.16 60.33,601.35 60.83,601.65 61.33,602.06 61.82,602.54 62.32,603.09 62.82,603.67 63.31,604.27 63.81,604.87 64.31,605.45 64.80,605.99 65.30,606.48 65.80,606.93 66.29,607.32 66.79,607.66 67.29,607.93 67.78,608.16 68.28,608.33 68.78,608.46 69.27,608.54 69.77,608.58 70.27,608.57 70.76,608.53 71.26,608.45 71.76,608.33 72.25,608.17 72.75,607.99 73.25,607.78 73.74,607.56 74.24,607.34 74.74,607.12 75.23,606.92 75.73,606.75 76.23,606.63 76.72,606.55 77.22,606.54 77.72,606.59 78.21,606.70 78.71,606.87 79.21,607.08 79.70,607.34 80.20,607.62 80.70,607.92 81.19,608.22 81.69,608.51 82.19,608.79 82.68,609.04 83.18,609.26 83.68,609.45 84.17,609.62 84.67,609.75 85.17,609.86 85.66,609.95 86.16,610.02 86.66,610.07 87.15,610.11 87.65,610.15 88.15,610.18 88.64,610.20 89.14,610.22 89.64,610.24 90.13,610.26 90.63,610.28 91.13,610.30 91.62,610.32 92.12,610.34 92.62,610.37 93.11,610.39 93.61,610.42 94.11,610.45 94.60,610.48 95.10,610.51 95.60,610.54 96.09,610.58 96.59,610.61 97.09,610.65 97.58,610.68 98.08,610.72 98.58,610.76 99.07,610.79 99.57,610.83 100.07,610.87 100.56,610.91 101.06,610.94 101.56,610.98 102.05,611.02 102.55,611.05 103.05,611.09 103.54,611.12 104.04,611.15 104.54,611.18 105.03,611.21 105.53,611.24 106.03,611.27 106.52,611.29 107.02,611.32 107.52,611.34 108.01,611.36 108.51,611.38 109.01,611.40 109.50,611.42 110.00,611.44" fill="none" stroke="#6ab23e" stroke-width="1.2"/>
<polyline points="35.5,611.60 35.50,611.58 36.00,611.57 36.49,611.57 36.99,611.56 37.49,611.56 37.98,611.55 38.48,611.54 38.98,611.54 39.47,611.53 39.97,611.52 40.47,611.50 40.96,611.49 41.46,611.48 41.96,611.46 42.45,611.44 42.95,611.42 43.45,611.40 43.94,611.37 44.44,611.35 44.94,611.31 45.43,611.27 45.93,611.23 46.43,611.18 46.92,611.11 47.42,611.04 47.92,610.94 48.41,610.83 48.91,610.69 49.41,610.52 49.90,610.31 50.40,610.06 50.90,609.76 51.39,609.41 51.89,609.00 52.39,608.53 52.88,608.00 53.38,607.41 53.88,606.78 54.37,606.10 54.87,605.39 55.37,604.68 55.86,603.97 56.36,603.30 56.86,602.69 57.35,602.15 57.85,601.70 58.35,601.38 58.84,601.17 59.34,601.10 59.84,601.16 60.33,601.35 60.83,601.65 61.33,602.06 61.82,602.54 62.32,603.09 62.82,603.67 63.31,604.27 63.81,604.87 64.31,605.45 64.80,605.99 65.30,606.48 65.80,606.93 66.29,607.32 66.79,607.66 67.29,607.93 67.78,608.16 68.28,608.33 68.78,608.46 69.27,608.54 69.77,608.58 70.27,608.57 70.76,608.53 71.26,608.45 71.76,608.33 72.25,608.17 72.75,607.99 73.25,607.78 73.74,607.56 74.24,607.34 74.74,607.12 75.23,606.92 75.73,606.75 76.23,606.63 76.72,606.55 77.22,606.54 77.72,606.59 78.21,606.70 78.71,606.87 79.21,607.08 79.70,607.34 80.20,607.62 80.70,607.92 81.19,608.22 81.69,608.51 82.19,608.79 82.68,609.04 83.18,609.26 83.68,609.45 84.17,609.62 84.67,609.75 85.17,609.86 85.66,609.95 86.16,610.02 86.66,610.07 87.15,610.11 87.65,610.15 88.15,610.18 88.64,610.20 89.14,610.22 89.64,610.24 90.13,610.26 90.63,610.28 91.13,610.30 91.62,610.32 92.12,610.34 92.62,610.37 93.11,610.39 93.61,610.42 94.11,610.45 94.60,610.48 95.10,610.51 95.60,610.54 96.09,610.58 96.59,610.61 97.09,610.65 97.58,610.68 98.08,610.72 98.58,610.76 99.07,610.79 99.57,610.83 100.07,610.87 100.56,610.91 101.06,610.94 101.56,610.98 102.05,611.02 102.55,611.05 103.05,611.09 103.54,611.12 104.04,611.15 104.54,611.18 105.03,611.21 105.53,611.24 106.03,611.27 106.52,611.29 107.02,611.32 107.52,611.34 108.01,611.36 108.51,611.38 109.01,611.40 109.50,611.42 110.00,611.44" fill="none" stroke="#fff" stroke-width="0.5" stroke-opacity="0.6" transform="translate(0,-1.1)"/>
<polygon points="35.5,617.00 35.50,617.00 36.00,617.00 36.49,617.00 36.99,617.00 37.49,617.00 37.98,617.00 38.48,617.00 38.98,617.00 39.47,617.00 39.97,617.00 40.47,617.00 40.96,617.00 41.46,617.00 41.96,617.00 42.45,617.00 42.95,617.00 43.45,617.00 43.94,616.99 44.44,616.99 44.94,616.99 45.43,616.99 45.93,616.98 46.43,616.98 46.92,616.98 47.42,616.97 47.92,616.96 48.41,616.95 48.91,616.94 49.41,616.92 49.90,616.90 50.40,616.88 50.90,616.85 51.39,616.81 51.89,616.76 52.39,616.70 52.88,616.64 53.38,616.55 53.88,616.45 54.37,616.34 54.87,616.20 55.37,616.04 55.86,615.86 56.36,615.65 56.86,615.41 57.35,615.14 57.85,614.84 58.35,614.51 58.84,614.15 59.34,613.76 59.84,613.34 60.33,612.90 60.83,612.44 61.33,611.97 61.82,611.48 62.32,611.00 62.82,610.51 63.31,610.05 63.81,609.60 64.31,609.18 64.80,608.80 65.30,608.45 65.80,608.16 66.29,607.92 66.79,607.74 67.29,607.62 67.78,607.56 68.28,607.57 68.78,607.63 69.27,607.75 69.77,607.91 70.27,608.13 70.76,608.39 71.26,608.68 71.76,608.99 72.25,609.33 72.75,609.68 73.25,610.04 73.74,610.39 74.24,610.74 74.74,611.08 75.23,611.40 75.73,611.69 76.23,611.96 76.72,612.19 77.22,612.38 77.72,612.52 78.21,612.61 78.71,612.64 79.21,612.62 79.70,612.54 80.20,612.42 80.70,612.26 81.19,612.09 81.69,611.93 82.19,611.81 82.68,611.74 83.18,611.74 83.68,611.83 84.17,612.01 84.67,612.28 85.17,612.61 85.66,613.00 86.16,613.42 86.66,613.84 87.15,614.26 87.65,614.64 88.15,614.99 88.64,615.29 89.14,615.54 89.64,615.75 90.13,615.93 90.63,616.07 91.13,616.19 91.62,616.29 92.12,616.37 92.62,616.44 93.11,616.50 93.61,616.55 94.11,616.60 94.60,616.64 95.10,616.68 95.60,616.72 96.09,616.75 96.59,616.78 97.09,616.81 97.58,616.83 98.08,616.85 98.58,616.87 99.07,616.89 99.57,616.90 100.07,616.92 100.56,616.93 101.06,616.94 101.56,616.95 102.05,616.95 102.55,616.96 103.05,616.97 103.54,616.97 104.04,616.98 104.54,616.98 105.03,616.98 105.53,616.99 106.03,616.99 106.52,616.99 107.02,616.99 107.52,616.99 108.01,616.99 108.51,617.00 109.01,617.00 109.50,617.00 110.00,617.00 110,617.00" fill="#2b4b8c" fill-opacity="0.55" stroke="none"/>
<polyline points="35.50,617.00 36.00,617.00 36.49,617.00 36.99,617.00 37.49,617.00 37.98,617.00 38.48,617.00 38.98,617.00 39.47,617.00 39.97,617.00 40.47,617.00 40.96,617.00 41.46,617.00 41.96,617.00 42.45,617.00 42.95,617.00 43.45,617.00 43.94,616.99 44.44,616.99 44.94,616.99 45.43,616.99 45.93,616.98 46.43,616.98 46.92,616.98 47.42,616.97 47.92,616.96 48.41,616.95 48.91,616.94 49.41,616.92 49.90,616.90 50.40,616.88 50.90,616.85 51.39,616.81 51.89,616.76 52.39,616.70 52.88,616.64 53.38,616.55 53.88,616.45 54.37,616.34 54.87,616.20 55.37,616.04 55.86,615.86 56.36,615.65 56.86,615.41 57.35,615.14 57.85,614.84 58.35,614.51 58.84,614.15 59.34,613.76 59.84,613.34 60.33,612.90 60.83,612.44 61.33,611.97 61.82,611.48 62.32,611.00 62.82,610.51 63.31,610.05 63.81,609.60 64.31,609.18 64.80,608.80 65.30,608.45 65.80,608.16 66.29,607.92 66.79,607.74 67.29,607.62 67.78,607.56 68.28,607.57 68.78,607.63 69.27,607.75 69.77,607.91 70.27,608.13 70.76,608.39 71.26,608.68 71.76,608.99 72.25,609.33 72.75,609.68 73.25,610.04 73.74,610.39 74.24,610.74 74.74,611.08 75.23,611.40 75.73,611.69 76.23,611.96 76.72,612.19 77.22,612.38 77.72,612.52 78.21,612.61 78.71,612.64 79.21,612.62 79.70,612.54 80.20,612.42 80.70,612.26 81.19,612.09 81.69,611.93 82.19,611.81 82.68,611.74 83.18,611.74 83.68,611.83 84.17,612.01 84.67,612.28 85.17,612.61 85.66,613.00 86.16,613.42 86.66,613.84 87.15,614.26 87.65,614.64 88.15,614.99 88.64,615.29 89.14,615.54 89.64,615.75 90.13,615.93 90.63,616.07 91.13,616.19 91.62,616.29 92.12,616.37 92.62,616.44 93.11,616.50 93.61,616.55 94.11,616.60 94.60,616.64 95.10,616.68 95.60,616.72 96.09,616.75 96.59,616.78 97.09,616.81 97.58,616.83 98.08,616.85 98.58,616.87 99.07,616.89 99.57,616.90 100.07,616.92 100.56,616.93 101.06,616.94 101.56,616.95 102.05,616.95 102.55,616.96 103.05,616.97 103.54,616.97 104.04,616.98 104.54,616.98 105.03,616.98 105.53,616.99 106.03,616.99 106.52,616.99 107.02,616.99 107.52,616.99 108.01,616.99 108.51,617.00 109.01,617.00 109.50,617.00 110.00,617.00" fill="none" stroke="#2b4b8c" stroke-width="1.2"/>
<polyline points="35.5,617.00 35.50,617.00 36.00,617.00 36.49,617.00 36.99,617.00 37.49,617.00 37.98,617.00 38.48,617.00 38.98,617.00 39.47,617.00 39.97,617.00 40.47,617.00 40.96,617.00 41.46,617.00 41.96,617.00 42.45,617.00 42.95,617.00 43.45,617.00 43.94,616.99 44.44,616.99 44.94,616.99 45.43,616.99 45.93,616.98 46.43,616.98 46.92,616.98 47.42,616.97 47.92,616.96 48.41,616.95 48.91,616.94 49.41,616.92 49.90,616.90 50.40,616.88 50.90,616.85 51.39,616.81 51.89,616.76 52.39,616.70 52.88,616.64 53.38,616.55 53.88,616.45 54.37,616.34 54.87,616.20 55.37,616.04 55.86,615.86 56.36,615.65 56.86,615.41 57.35,615.14 57.85,614.84 58.35,614.51 58.84,614.15 59.34,613.76 59.84,613.34 60.33,612.90 60.83,612.44 61.33,611.97 61.82,611.48 62.32,611.00 62.82,610.51 63.31,610.05 63.81,609.60 64.31,609.18 64.80,608.80 65.30,608.45 65.80,608.16 66.29,607.92 66.79,607.74 67.29,607.62 67.78,607.56 68.28,607.57 68.78,607.63 69.27,607.75 69.77,607.91 70.27,608.13 70.76,608.39 71.26,608.68 71.76,608.99 72.25,609.33 72.75,609.68 73.25,610.04 73.74,610.39 74.24,610.74 74.74,611.08 75.23,611.40 75.73,611.69 76.23,611.96 76.72,612.19 77.22,612.38 77.72,612.52 78.21,612.61 78.71,612.64 79.21,612.62 79.70,612.54 80.20,612.42 80.70,612.26 81.19,612.09 81.69,611.93 82.19,611.81 82.68,611.74 83.18,611.74 83.68,611.83 84.17,612.01 84.67,612.28 85.17,612.61 85.66,613.00 86.16,613.42 86.66,613.84 87.15,614.26 87.65,614.64 88.15,614.99 88.64,615.29 89.14,615.54 89.64,615.75 90.13,615.93 90.63,616.07 91.13,616.19 91.62,616.29 92.12,616.37 92.62,616.44 93.11,616.50 93.61,616.55 94.11,616.60 94.60,616.64 95.10,616.68 95.60,616.72 96.09,616.75 96.59,616.78 97.09,616.81 97.58,616.83 98.08,616.85 98.58,616.87 99.07,616.89 99.57,616.90 100.07,616.92 100.56,616.93 101.06,616.94 101.56,616.95 102.05,616.95 102.55,616.96 103.05,616.97 103.54,616.97 104.04,616.98 104.54,616.98 105.03,616.98 105.53,616.99 106.03,616.99 106.52,616.99 107.02,616.99 107.52,616.99 108.01,616.99 108.51,617.00 109.01,617.00 109.50,617.00 110.00,617.00" fill="none" stroke="#fff" stroke-width="0.5" stroke-opacity="0.6" transform="translate(0,-1.1)"/>
<polygon points="35.5,622.50 35.50,622.50 36.00,622.50 36.49,622.50 36.99,622.50 37.49,622.50 37.98,622.50 38.48,622.50 38.98,622.50 39.47,622.50 39.97,622.50 40.47,622.50 40.96,622.50 41.46,622.50 41.96,622.50 42.45,622.50 42.95,622.50 43.45,622.50 43.94,622.50 44.44,622.49 44.94,622.49 45.43,622.49 45.93,622.49 46.43,622.49 46.92,622.48 47.42,622.48 47.92,622.47 48.41,622.47 48.91,622.46 49.41,622.45 49.90,622.43 50.40,622.42 50.90,622.40 51.39,622.37 51.89,622.34 52.39,622.30 52.88,622.25 53.38,622.19 53.88,622.11 54.37,622.02 54.87,621.92 55.37,621.80 55.86,621.65 56.36,621.48 56.86,621.29 57.35,621.07 57.85,620.82 58.35,620.54 58.84,620.23 59.34,619.89 59.84,619.52 60.33,619.12 60.83,618.70 61.33,618.25 61.82,617.78 62.32,617.31 62.82,616.82 63.31,616.34 63.81,615.86 64.31,615.40 64.80,614.97 65.30,614.56 65.80,614.20 66.29,613.87 66.79,613.60 67.29,613.39 67.78,613.23 68.28,613.13 68.78,613.10 69.27,613.12 69.77,613.21 70.27,613.34 70.76,613.53 71.26,613.76 71.76,614.03 72.25,614.33 72.75,614.65 73.25,614.99 73.74,615.34 74.24,615.69 74.74,616.04 75.23,616.38 75.73,616.71 76.23,617.02 76.72,617.30 77.22,617.55 77.72,617.76 78.21,617.93 78.71,618.05 79.21,618.11 79.70,618.12 80.20,618.07 80.70,617.97 81.19,617.83 81.69,617.66 82.19,617.49 82.68,617.34 83.18,617.24 83.68,617.19 84.17,617.23 84.67,617.35 85.17,617.57 85.66,617.86 86.16,618.22 86.66,618.62 87.15,619.04 87.65,619.47 88.15,619.87 88.64,620.24 89.14,620.57 89.64,620.86 90.13,621.09 90.63,621.29 91.13,621.46 91.62,621.59 92.12,621.70 92.62,621.79 93.11,621.87 93.61,621.94 94.11,622.00 94.60,622.05 95.10,622.10 95.60,622.14 96.09,622.18 96.59,622.22 97.09,622.25 97.58,622.28 98.08,622.31 98.58,622.33 99.07,622.35 99.57,622.37 100.07,622.39 100.56,622.40 101.06,622.42 101.56,622.43 102.05,622.44 102.55,622.45 103.05,622.45 103.54,622.46 104.04,622.47 104.54,622.47 105.03,622.48 105.53,622.48 106.03,622.48 106.52,622.49 107.02,622.49 107.52,622.49 108.01,622.49 108.51,622.49 109.01,622.49 109.50,622.50 110.00,622.50 110,622.50" fill="#2b4b8c" fill-opacity="0.55" stroke="none"/>
<polyline points="35.50,622.50 36.00,622.50 36.49,622.50 36.99,622.50 37.49,622.50 37.98,622.50 38.48,622.50 38.98,622.50 39.47,622.50 39.97,622.50 40.47,622.50 40.96,622.50 41.46,622.50 41.96,622.50 42.45,622.50 42.95,622.50 43.45,622.50 43.94,622.50 44.44,622.49 44.94,622.49 45.43,622.49 45.93,622.49 46.43,622.49 46.92,622.48 47.42,622.48 47.92,622.47 48.41,622.47 48.91,622.46 49.41,622.45 49.90,622.43 50.40,622.42 50.90,622.40 51.39,622.37 51.89,622.34 52.39,622.30 52.88,622.25 53.38,622.19 53.88,622.11 54.37,622.02 54.87,621.92 55.37,621.80 55.86,621.65 56.36,621.48 56.86,621.29 57.35,621.07 57.85,620.82 58.35,620.54 58.84,620.23 59.34,619.89 59.84,619.52 60.33,619.12 60.83,618.70 61.33,618.25 61.82,617.78 62.32,617.31 62.82,616.82 63.31,616.34 63.81,615.86 64.31,615.40 64.80,614.97 65.30,614.56 65.80,614.20 66.29,613.87 66.79,613.60 67.29,613.39 67.78,613.23 68.28,613.13 68.78,613.10 69.27,613.12 69.77,613.21 70.27,613.34 70.76,613.53 71.26,613.76 71.76,614.03 72.25,614.33 72.75,614.65 73.25,614.99 73.74,615.34 74.24,615.69 74.74,616.04 75.23,616.38 75.73,616.71 76.23,617.02 76.72,617.30 77.22,617.55 77.72,617.76 78.21,617.93 78.71,618.05 79.21,618.11 79.70,618.12 80.20,618.07 80.70,617.97 81.19,617.83 81.69,617.66 82.19,617.49 82.68,617.34 83.18,617.24 83.68,617.19 84.17,617.23 84.67,617.35 85.17,617.57 85.66,617.86 86.16,618.22 86.66,618.62 87.15,619.04 87.65,619.47 88.15,619.87 88.64,620.24 89.14,620.57 89.64,620.86 90.13,621.09 90.63,621.29 91.13,621.46 91.62,621.59 92.12,621.70 92.62,621.79 93.11,621.87 93.61,621.94 94.11,622.00 94.60,622.05 95.10,622.10 95.60,622.14 96.09,622.18 96.59,622.22 97.09,622.25 97.58,622.28 98.08,622.31 98.58,622.33 99.07,622.35 99.57,622.37 100.07,622.39 100.56,622.40 101.06,622.42 101.56,622.43 102.05,622.44 102.55,622.45 103.05,622.45 103.54,622.46 104.04,622.47 104.54,622.47 105.03,622.48 105.53,622.48 106.03,622.48 106.52,622.49 107.02,622.49 107.52,622.49 108.01,622.49 108.51,622.49 109.01,622.49 109.50,622.50 110.00,622.50" fill="none" stroke="#2b4b8c" stroke-width="1.2"/>
<polyline points="35.5,622.50 35.50,622.50 36.00,622.50 36.49,622.50 36.99,622.50 37.49,622.50 37.98,622.50 38.48,622.50 38.98,622.50 39.47,622.50 39.97,622.50 40.47,622.50 40.96,622.50 41.46,622.50 41.96,622.50 42.45,622.50 42.95,622.50 43.45,622.50 43.94,622.50 44.44,622.49 44.94,622.49 45.43,622.49 45.93,622.49 46.43,622.49 46.92,622.48 47.42,622.48 47.92,622.47 48.41,622.47 48.91,622.46 49.41,622.45 49.90,622.43 50.40,622.42 50.90,622.40 51.39,622.37 51.89,622.34 52.39,622.30 52.88,622.25 53.38,622.19 53.88,622.11 54.37,622.02 54.87,621.92 55.37,621.80 55.86,621.65 56.36,621.48 56.86,621.29 57.35,621.07 57.85,620.82 58.35,620.54 58.84,620.23 59.34,619.89 59.84,619.52 60.33,619.12 60.83,618.70 61.33,618.25 61.82,617.78 62.32,617.31 62.82,616.82 63.31,616.34 63.81,615.86 64.31,615.40 64.80,614.97 65.30,614.56 65.80,614.20 66.29,613.87 66.79,613.60 67.29,613.39 67.78,613.23 68.28,613.13 68.78,613.10 69.27,613.12 69.77,613.21 70.27,613.34 70.76,613.53 71.26,613.76 71.76,614.03 72.25,614.33 72.75,614.65 73.25,614.99 73.74,615.34 74.24,615.69 74.74,616.04 75.23,616.38 75.73,616.71 76.23,617.02 76.72,617.30 77.22,617.55 77.72,617.76 78.21,617.93 78.71,618.05 79.21,618.11 79.70,618.12 80.20,618.07 80.70,617.97 81.19,617.83 81.69,617.66 82.19,617.49 82.68,617.34 83.18,617.24 83.68,617.19 84.17,617.23 84.67,617.35 85.17,617.57 85.66,617.86 86.16,618.22 86.66,618.62 87.15,619.04 87.65,619.47 88.15,619.87 88.64,620.24 89.14,620.57 89.64,620.86 90.13,621.09 90.63,621.29 91.13,621.46 91.62,621.59 92.12,621.70 92.62,621.79 93.11,621.87 93.61,621.94 94.11,622.00 94.60,622.05 95.10,622.10 95.60,622.14 96.09,622.18 96.59,622.22 97.09,622.25 97.58,622.28 98.08,622.31 98.58,622.33 99.07,622.35 99.57,622.37 100.07,622.39 100.56,622.40 101.06,622.42 101.56,622.43 102.05,622.44 102.55,622.45 103.05,622.45 103.54,622.46 104.04,622.47 104.54,622.47 105.03,622.48 105.53,622.48 106.03,622.48 106.52,622.49 107.02,622.49 107.52,622.49 108.01,622.49 108.51,622.49 109.01,622.49 109.50,622.50 110.00,622.50" fill="none" stroke="#fff" stroke-width="0.5" stroke-opacity="0.6" transform="translate(0,-1.1)"/>
<polygon points="35.5,627.90 35.50,627.90 36.00,627.90 36.49,627.90 36.99,627.90 37.49,627.90 37.98,627.90 38.48,627.90 38.98,627.90 39.47,627.90 39.97,627.90 40.47,627.90 40.96,627.90 41.46,627.90 41.96,627.90 42.45,627.90 42.95,627.90 43.45,627.90 43.94,627.90 44.44,627.90 44.94,627.90 45.43,627.89 45.93,627.89 46.43,627.89 46.92,627.89 47.42,627.89 47.92,627.88 48.41,627.88 48.91,627.87 49.41,627.87 49.90,627.86 50.40,627.85 50.90,627.83 51.39,627.82 51.89,627.80 52.39,627.77 52.88,627.74 53.38,627.70 53.88,627.65 54.37,627.59 54.87,627.51 55.37,627.43 55.86,627.32 56.36,627.20 56.86,627.05 57.35,626.89 57.85,626.69 58.35,626.47 58.84,626.23 59.34,625.95 59.84,625.64 60.33,625.30 60.83,624.93 61.33,624.53 61.82,624.10 62.32,623.66 62.82,623.19 63.31,622.71 63.81,622.23 64.31,621.75 64.80,621.27 65.30,620.81 65.80,620.37 66.29,619.97 66.79,619.60 67.29,619.28 67.78,619.01 68.28,618.79 68.78,618.63 69.27,618.53 69.77,618.50 70.27,618.52 70.76,618.60 71.26,618.74 71.76,618.93 72.25,619.16 72.75,619.42 73.25,619.72 73.74,620.05 74.24,620.39 74.74,620.74 75.23,621.09 75.73,621.44 76.23,621.78 76.72,622.11 77.22,622.42 77.72,622.71 78.21,622.96 78.71,623.19 79.21,623.37 79.70,623.50 80.20,623.58 80.70,623.60 81.19,623.57 81.69,623.49 82.19,623.36 82.68,623.20 83.18,623.02 83.68,622.86 84.17,622.73 84.67,622.65 85.17,622.65 85.66,622.74 86.16,622.91 86.66,623.17 87.15,623.51 87.65,623.89 88.15,624.31 88.64,624.73 89.14,625.15 89.64,625.53 90.13,625.88 90.63,626.18 91.13,626.43 91.62,626.65 92.12,626.82 92.62,626.97 93.11,627.09 93.61,627.18 94.11,627.27 94.60,627.34 95.10,627.40 95.60,627.45 96.09,627.50 96.59,627.54 97.09,627.58 97.58,627.62 98.08,627.65 98.58,627.68 99.07,627.71 99.57,627.73 100.07,627.75 100.56,627.77 101.06,627.79 101.56,627.80 102.05,627.82 102.55,627.83 103.05,627.84 103.54,627.85 104.04,627.85 104.54,627.86 105.03,627.87 105.53,627.87 106.03,627.88 106.52,627.88 107.02,627.88 107.52,627.89 108.01,627.89 108.51,627.89 109.01,627.89 109.50,627.89 110.00,627.89 110,627.90" fill="#2b4b8c" fill-opacity="0.55" stroke="none"/>
<polyline points="35.50,627.90 36.00,627.90 36.49,627.90 36.99,627.90 37.49,627.90 37.98,627.90 38.48,627.90 38.98,627.90 39.47,627.90 39.97,627.90 40.47,627.90 40.96,627.90 41.46,627.90 41.96,627.90 42.45,627.90 42.95,627.90 43.45,627.90 43.94,627.90 44.44,627.90 44.94,627.90 45.43,627.89 45.93,627.89 46.43,627.89 46.92,627.89 47.42,627.89 47.92,627.88 48.41,627.88 48.91,627.87 49.41,627.87 49.90,627.86 50.40,627.85 50.90,627.83 51.39,627.82 51.89,627.80 52.39,627.77 52.88,627.74 53.38,627.70 53.88,627.65 54.37,627.59 54.87,627.51 55.37,627.43 55.86,627.32 56.36,627.20 56.86,627.05 57.35,626.89 57.85,626.69 58.35,626.47 58.84,626.23 59.34,625.95 59.84,625.64 60.33,625.30 60.83,624.93 61.33,624.53 61.82,624.10 62.32,623.66 62.82,623.19 63.31,622.71 63.81,622.23 64.31,621.75 64.80,621.27 65.30,620.81 65.80,620.37 66.29,619.97 66.79,619.60 67.29,619.28 67.78,619.01 68.28,618.79 68.78,618.63 69.27,618.53 69.77,618.50 70.27,618.52 70.76,618.60 71.26,618.74 71.76,618.93 72.25,619.16 72.75,619.42 73.25,619.72 73.74,620.05 74.24,620.39 74.74,620.74 75.23,621.09 75.73,621.44 76.23,621.78 76.72,622.11 77.22,622.42 77.72,622.71 78.21,622.96 78.71,623.19 79.21,623.37 79.70,623.50 80.20,623.58 80.70,623.60 81.19,623.57 81.69,623.49 82.19,623.36 82.68,623.20 83.18,623.02 83.68,622.86 84.17,622.73 84.67,622.65 85.17,622.65 85.66,622.74 86.16,622.91 86.66,623.17 87.15,623.51 87.65,623.89 88.15,624.31 88.64,624.73 89.14,625.15 89.64,625.53 90.13,625.88 90.63,626.18 91.13,626.43 91.62,626.65 92.12,626.82 92.62,626.97 93.11,627.09 93.61,627.18 94.11,627.27 94.60,627.34 95.10,627.40 95.60,627.45 96.09,627.50 96.59,627.54 97.09,627.58 97.58,627.62 98.08,627.65 98.58,627.68 99.07,627.71 99.57,627.73 100.07,627.75 100.56,627.77 101.06,627.79 101.56,627.80 102.05,627.82 102.55,627.83 103.05,627.84 103.54,627.85 104.04,627.85 104.54,627.86 105.03,627.87 105.53,627.87 106.03,627.88 106.52,627.88 107.02,627.88 107.52,627.89 108.01,627.89 108.51,627.89 109.01,627.89 109.50,627.89 110.00,627.89" fill="none" stroke="#2b4b8c" stroke-width="1.2"/>
<polyline points="35.5,627.90 35.50,627.90 36.00,627.90 36.49,627.90 36.99,627.90 37.49,627.90 37.98,627.90 38.48,627.90 38.98,627.90 39.47,627.90 39.97,627.90 40.47,627.90 40.96,627.90 41.46,627.90 41.96,627.90 42.45,627.90 42.95,627.90 43.45,627.90 43.94,627.90 44.44,627.90 44.94,627.90 45.43,627.89 45.93,627.89 46.43,627.89 46.92,627.89 47.42,627.89 47.92,627.88 48.41,627.88 48.91,627.87 49.41,627.87 49.90,627.86 50.40,627.85 50.90,627.83 51.39,627.82 51.89,627.80 52.39,627.77 52.88,627.74 53.38,627.70 53.88,627.65 54.37,627.59 54.87,627.51 55.37,627.43 55.86,627.32 56.36,627.20 56.86,627.05 57.35,626.89 57.85,626.69 58.35,626.47 58.84,626.23 59.34,625.95 59.84,625.64 60.33,625.30 60.83,624.93 61.33,624.53 61.82,624.10 62.32,623.66 62.82,623.19 63.31,622.71 63.81,622.23 64.31,621.75 64.80,621.27 65.30,620.81 65.80,620.37 66.29,619.97 66.79,619.60 67.29,619.28 67.78,619.01 68.28,618.79 68.78,618.63 69.27,618.53 69.77,618.50 70.27,618.52 70.76,618.60 71.26,618.74 71.76,618.93 72.25,619.16 72.75,619.42 73.25,619.72 73.74,620.05 74.24,620.39 74.74,620.74 75.23,621.09 75.73,621.44 76.23,621.78 76.72,622.11 77.22,622.42 77.72,622.71 78.21,622.96 78.71,623.19 79.21,623.37 79.70,623.50 80.20,623.58 80.70,623.60 81.19,623.57 81.69,623.49 82.19,623.36 82.68,623.20 83.18,623.02 83.68,622.86 84.17,622.73 84.67,622.65 85.17,622.65 85.66,622.74 86.16,622.91 86.66,623.17 87.15,623.51 87.65,623.89 88.15,624.31 88.64,624.73 89.14,625.15 89.64,625.53 90.13,625.88 90.63,626.18 91.13,626.43 91.62,626.65 92.12,626.82 92.62,626.97 93.11,627.09 93.61,627.18 94.11,627.27 94.60,627.34 95.10,627.40 95.60,627.45 96.09,627.50 96.59,627.54 97.09,627.58 97.58,627.62 98.08,627.65 98.58,627.68 99.07,627.71 99.57,627.73 100.07,627.75 100.56,627.77 101.06,627.79 101.56,627.80 102.05,627.82 102.55,627.83 103.05,627.84 103.54,627.85 104.04,627.85 104.54,627.86 105.03,627.87 105.53,627.87 106.03,627.88 106.52,627.88 107.02,627.88 107.52,627.89 108.01,627.89 108.51,627.89 109.01,627.89 109.50,627.89 110.00,627.89" fill="none" stroke="#fff" stroke-width="0.5" stroke-opacity="0.6" transform="translate(0,-1.1)"/>
<polygon points="35.5,633.60 35.50,633.60 36.00,633.60 36.49,633.60 36.99,633.60 37.49,633.60 37.98,633.60 38.48,633.60 38.98,633.60 39.47,633.60 39.97,633.60 40.47,633.60 40.96,633.60 41.46,633.60 41.96,633.60 42.45,633.60 42.95,633.60 43.45,633.60 43.94,633.60 44.44,633.60 44.94,633.60 45.43,633.60 45.93,633.60 46.43,633.60 46.92,633.60 47.42,633.60 47.92,633.60 48.41,633.60 48.91,633.60 49.41,633.60 49.90,633.60 50.40,633.60 50.90,633.60 51.39,633.60 51.89,633.60 52.39,633.60 52.88,633.60 53.38,633.60 53.88,633.60 54.37,633.60 54.87,633.60 55.37,633.60 55.86,633.60 56.36,633.60 56.86,633.60 57.35,633.60 57.85,633.60 58.35,633.60 58.84,633.60 59.34,633.60 59.84,633.60 60.33,633.60 60.83,633.60 61.33,633.59 61.82,633.59 62.32,633.58 62.82,633.57 63.31,633.56 63.81,633.54 64.31,633.50 64.80,633.46 65.30,633.40 65.80,633.31 66.29,633.19 66.79,633.04 67.29,632.84 67.78,632.60 68.28,632.29 68.78,631.91 69.27,631.47 69.77,630.96 70.27,630.38 70.76,629.74 71.26,629.04 71.76,628.32 72.25,627.58 72.75,626.86 73.25,626.18 73.74,625.57 74.24,625.05 74.74,624.65 75.23,624.40 75.73,624.29 76.23,624.34 76.72,624.54 77.22,624.87 77.72,625.33 78.21,625.88 78.71,626.48 79.21,627.11 79.70,627.73 80.20,628.31 80.70,628.81 81.19,629.21 81.69,629.48 82.19,629.61 82.68,629.60 83.18,629.44 83.68,629.14 84.17,628.71 84.67,628.17 85.17,627.57 85.66,626.92 86.16,626.27 86.66,625.65 87.15,625.12 87.65,624.69 88.15,624.40 88.64,624.28 89.14,624.32 89.64,624.54 90.13,624.91 90.63,625.42 91.13,626.05 91.62,626.76 92.12,627.52 92.62,628.30 93.11,629.06 93.61,629.79 94.11,630.46 94.60,631.06 95.10,631.59 95.60,632.04 96.09,632.41 96.59,632.71 97.09,632.94 97.58,633.13 98.08,633.26 98.58,633.37 99.07,633.44 99.57,633.49 100.07,633.53 100.56,633.56 101.06,633.57 101.56,633.58 102.05,633.59 102.55,633.59 103.05,633.60 103.54,633.60 104.04,633.60 104.54,633.60 105.03,633.60 105.53,633.60 106.03,633.60 106.52,633.60 107.02,633.60 107.52,633.60 108.01,633.60 108.51,633.60 109.01,633.60 109.50,633.60 110.00,633.60 110,633.60" fill="#ad0e3a" fill-opacity="0.5" stroke="none"/>
<polyline points="35.50,633.60 36.00,633.60 36.49,633.60 36.99,633.60 37.49,633.60 37.98,633.60 38.48,633.60 38.98,633.60 39.47,633.60 39.97,633.60 40.47,633.60 40.96,633.60 41.46,633.60 41.96,633.60 42.45,633.60 42.95,633.60 43.45,633.60 43.94,633.60 44.44,633.60 44.94,633.60 45.43,633.60 45.93,633.60 46.43,633.60 46.92,633.60 47.42,633.60 47.92,633.60 48.41,633.60 48.91,633.60 49.41,633.60 49.90,633.60 50.40,633.60 50.90,633.60 51.39,633.60 51.89,633.60 52.39,633.60 52.88,633.60 53.38,633.60 53.88,633.60 54.37,633.60 54.87,633.60 55.37,633.60 55.86,633.60 56.36,633.60 56.86,633.60 57.35,633.60 57.85,633.60 58.35,633.60 58.84,633.60 59.34,633.60 59.84,633.60 60.33,633.60 60.83,633.60 61.33,633.59 61.82,633.59 62.32,633.58 62.82,633.57 63.31,633.56 63.81,633.54 64.31,633.50 64.80,633.46 65.30,633.40 65.80,633.31 66.29,633.19 66.79,633.04 67.29,632.84 67.78,632.60 68.28,632.29 68.78,631.91 69.27,631.47 69.77,630.96 70.27,630.38 70.76,629.74 71.26,629.04 71.76,628.32 72.25,627.58 72.75,626.86 73.25,626.18 73.74,625.57 74.24,625.05 74.74,624.65 75.23,624.40 75.73,624.29 76.23,624.34 76.72,624.54 77.22,624.87 77.72,625.33 78.21,625.88 78.71,626.48 79.21,627.11 79.70,627.73 80.20,628.31 80.70,628.81 81.19,629.21 81.69,629.48 82.19,629.61 82.68,629.60 83.18,629.44 83.68,629.14 84.17,628.71 84.67,628.17 85.17,627.57 85.66,626.92 86.16,626.27 86.66,625.65 87.15,625.12 87.65,624.69 88.15,624.40 88.64,624.28 89.14,624.32 89.64,624.54 90.13,624.91 90.63,625.42 91.13,626.05 91.62,626.76 92.12,627.52 92.62,628.30 93.11,629.06 93.61,629.79 94.11,630.46 94.60,631.06 95.10,631.59 95.60,632.04 96.09,632.41 96.59,632.71 97.09,632.94 97.58,633.13 98.08,633.26 98.58,633.37 99.07,633.44 99.57,633.49 100.07,633.53 100.56,633.56 101.06,633.57 101.56,633.58 102.05,633.59 102.55,633.59 103.05,633.60 103.54,633.60 104.04,633.60 104.54,633.60 105.03,633.60 105.53,633.60 106.03,633.60 106.52,633.60 107.02,633.60 107.52,633.60 108.01,633.60 108.51,633.60 109.01,633.60 109.50,633.60 110.00,633.60" fill="none" stroke="#ad0e3a" stroke-width="1.2"/>
<polyline points="35.5,633.60 35.50,633.60 36.00,633.60 36.49,633.60 36.99,633.60 37.49,633.60 37.98,633.60 38.48,633.60 38.98,633.60 39.47,633.60 39.97,633.60 40.47,633.60 40.96,633.60 41.46,633.60 41.96,633.60 42.45,633.60 42.95,633.60 43.45,633.60 43.94,633.60 44.44,633.60 44.94,633.60 45.43,633.60 45.93,633.60 46.43,633.60 46.92,633.60 47.42,633.60 47.92,633.60 48.41,633.60 48.91,633.60 49.41,633.60 49.90,633.60 50.40,633.60 50.90,633.60 51.39,633.60 51.89,633.60 52.39,633.60 52.88,633.60 53.38,633.60 53.88,633.60 54.37,633.60 54.87,633.60 55.37,633.60 55.86,633.60 56.36,633.60 56.86,633.60 57.35,633.60 57.85,633.60 58.35,633.60 58.84,633.60 59.34,633.60 59.84,633.60 60.33,633.60 60.83,633.60 61.33,633.59 61.82,633.59 62.32,633.58 62.82,633.57 63.31,633.56 63.81,633.54 64.31,633.50 64.80,633.46 65.30,633.40 65.80,633.31 66.29,633.19 66.79,633.04 67.29,632.84 67.78,632.60 68.28,632.29 68.78,631.91 69.27,631.47 69.77,630.96 70.27,630.38 70.76,629.74 71.26,629.04 71.76,628.32 72.25,627.58 72.75,626.86 73.25,626.18 73.74,625.57 74.24,625.05 74.74,624.65 75.23,624.40 75.73,624.29 76.23,624.34 76.72,624.54 77.22,624.87 77.72,625.33 78.21,625.88 78.71,626.48 79.21,627.11 79.70,627.73 80.20,628.31 80.70,628.81 81.19,629.21 81.69,629.48 82.19,629.61 82.68,629.60 83.18,629.44 83.68,629.14 84.17,628.71 84.67,628.17 85.17,627.57 85.66,626.92 86.16,626.27 86.66,625.65 87.15,625.12 87.65,624.69 88.15,624.40 88.64,624.28 89.14,624.32 89.64,624.54 90.13,624.91 90.63,625.42 91.13,626.05 91.62,626.76 92.12,627.52 92.62,628.30 93.11,629.06 93.61,629.79 94.11,630.46 94.60,631.06 95.10,631.59 95.60,632.04 96.09,632.41 96.59,632.71 97.09,632.94 97.58,633.13 98.08,633.26 98.58,633.37 99.07,633.44 99.57,633.49 100.07,633.53 100.56,633.56 101.06,633.57 101.56,633.58 102.05,633.59 102.55,633.59 103.05,633.60 103.54,633.60 104.04,633.60 104.54,633.60 105.03,633.60 105.53,633.60 106.03,633.60 106.52,633.60 107.02,633.60 107.52,633.60 108.01,633.60 108.51,633.60 109.01,633.60 109.50,633.60 110.00,633.60" fill="none" stroke="#fff" stroke-width="0.5" stroke-opacity="0.6" transform="translate(0,-1.1)"/>
<polygon points="35.5,639.40 35.50,639.40 36.00,639.40 36.49,639.40 36.99,639.40 37.49,639.40 37.98,639.40 38.48,639.40 38.98,639.40 39.47,639.40 39.97,639.40 40.47,639.40 40.96,639.40 41.46,639.40 41.96,639.40 42.45,639.40 42.95,639.40 43.45,639.40 43.94,639.40 44.44,639.40 44.94,639.40 45.43,639.40 45.93,639.40 46.43,639.40 46.92,639.40 47.42,639.40 47.92,639.40 48.41,639.40 48.91,639.40 49.41,639.40 49.90,639.40 50.40,639.40 50.90,639.40 51.39,639.40 51.89,639.40 52.39,639.40 52.88,639.40 53.38,639.40 53.88,639.40 54.37,639.40 54.87,639.40 55.37,639.40 55.86,639.40 56.36,639.40 56.86,639.40 57.35,639.40 57.85,639.40 58.35,639.40 58.84,639.40 59.34,639.40 59.84,639.40 60.33,639.40 60.83,639.40 61.33,639.40 61.82,639.39 62.32,639.39 62.82,639.38 63.31,639.37 63.81,639.35 64.31,639.32 64.80,639.29 65.30,639.24 65.80,639.16 66.29,639.07 66.79,638.94 67.29,638.77 67.78,638.55 68.28,638.28 68.78,637.95 69.27,637.55 69.77,637.08 70.27,636.54 70.76,635.93 71.26,635.27 71.76,634.56 72.25,633.83 72.75,633.09 73.25,632.38 73.74,631.72 74.24,631.14 74.74,630.66 75.23,630.30 75.73,630.09 76.23,630.02 76.72,630.09 77.22,630.30 77.72,630.62 78.21,631.02 78.71,631.48 79.21,631.95 79.70,632.40 80.20,632.80 80.70,633.11 81.19,633.30 81.69,633.37 82.19,633.29 82.68,633.09 83.18,632.78 83.68,632.37 84.17,631.90 84.67,631.40 85.17,630.93 85.66,630.52 86.16,630.20 86.66,630.01 87.15,629.97 87.65,630.08 88.15,630.35 88.64,630.78 89.14,631.33 89.64,631.99 90.13,632.72 90.63,633.49 91.13,634.27 91.62,635.03 92.12,635.74 92.62,636.40 93.11,636.99 93.61,637.49 94.11,637.92 94.60,638.28 95.10,638.56 95.60,638.79 96.09,638.96 96.59,639.09 97.09,639.19 97.58,639.25 98.08,639.30 98.58,639.34 99.07,639.36 99.57,639.37 100.07,639.38 100.56,639.39 101.06,639.39 101.56,639.40 102.05,639.40 102.55,639.40 103.05,639.40 103.54,639.40 104.04,639.40 104.54,639.40 105.03,639.40 105.53,639.40 106.03,639.40 106.52,639.40 107.02,639.40 107.52,639.40 108.01,639.40 108.51,639.40 109.01,639.40 109.50,639.40 110.00,639.40 110,639.40" fill="#ad0e3a" fill-opacity="0.5" stroke="none"/>
<polyline points="35.50,639.40 36.00,639.40 36.49,639.40 36.99,639.40 37.49,639.40 37.98,639.40 38.48,639.40 38.98,639.40 39.47,639.40 39.97,639.40 40.47,639.40 40.96,639.40 41.46,639.40 41.96,639.40 42.45,639.40 42.95,639.40 43.45,639.40 43.94,639.40 44.44,639.40 44.94,639.40 45.43,639.40 45.93,639.40 46.43,639.40 46.92,639.40 47.42,639.40 47.92,639.40 48.41,639.40 48.91,639.40 49.41,639.40 49.90,639.40 50.40,639.40 50.90,639.40 51.39,639.40 51.89,639.40 52.39,639.40 52.88,639.40 53.38,639.40 53.88,639.40 54.37,639.40 54.87,639.40 55.37,639.40 55.86,639.40 56.36,639.40 56.86,639.40 57.35,639.40 57.85,639.40 58.35,639.40 58.84,639.40 59.34,639.40 59.84,639.40 60.33,639.40 60.83,639.40 61.33,639.40 61.82,639.39 62.32,639.39 62.82,639.38 63.31,639.37 63.81,639.35 64.31,639.32 64.80,639.29 65.30,639.24 65.80,639.16 66.29,639.07 66.79,638.94 67.29,638.77 67.78,638.55 68.28,638.28 68.78,637.95 69.27,637.55 69.77,637.08 70.27,636.54 70.76,635.93 71.26,635.27 71.76,634.56 72.25,633.83 72.75,633.09 73.25,632.38 73.74,631.72 74.24,631.14 74.74,630.66 75.23,630.30 75.73,630.09 76.23,630.02 76.72,630.09 77.22,630.30 77.72,630.62 78.21,631.02 78.71,631.48 79.21,631.95 79.70,632.40 80.20,632.80 80.70,633.11 81.19,633.30 81.69,633.37 82.19,633.29 82.68,633.09 83.18,632.78 83.68,632.37 84.17,631.90 84.67,631.40 85.17,630.93 85.66,630.52 86.16,630.20 86.66,630.01 87.15,629.97 87.65,630.08 88.15,630.35 88.64,630.78 89.14,631.33 89.64,631.99 90.13,632.72 90.63,633.49 91.13,634.27 91.62,635.03 92.12,635.74 92.62,636.40 93.11,636.99 93.61,637.49 94.11,637.92 94.60,638.28 95.10,638.56 95.60,638.79 96.09,638.96 96.59,639.09 97.09,639.19 97.58,639.25 98.08,639.30 98.58,639.34 99.07,639.36 99.57,639.37 100.07,639.38 100.56,639.39 101.06,639.39 101.56,639.40 102.05,639.40 102.55,639.40 103.05,639.40 103.54,639.40 104.04,639.40 104.54,639.40 105.03,639.40 105.53,639.40 106.03,639.40 106.52,639.40 107.02,639.40 107.52,639.40 108.01,639.40 108.51,639.40 109.01,639.40 109.50,639.40 110.00,639.40" fill="none" stroke="#ad0e3a" stroke-width="1.2"/>
<polyline points="35.5,639.40 35.50,639.40 36.00,639.40 36.49,639.40 36.99,639.40 37.49,639.40 37.98,639.40 38.48,639.40 38.98,639.40 39.47,639.40 39.97,639.40 40.47,639.40 40.96,639.40 41.46,639.40 41.96,639.40 42.45,639.40 42.95,639.40 43.45,639.40 43.94,639.40 44.44,639.40 44.94,639.40 45.43,639.40 45.93,639.40 46.43,639.40 46.92,639.40 47.42,639.40 47.92,639.40 48.41,639.40 48.91,639.40 49.41,639.40 49.90,639.40 50.40,639.40 50.90,639.40 51.39,639.40 51.89,639.40 52.39,639.40 52.88,639.40 53.38,639.40 53.88,639.40 54.37,639.40 54.87,639.40 55.37,639.40 55.86,639.40 56.36,639.40 56.86,639.40 57.35,639.40 57.85,639.40 58.35,639.40 58.84,639.40 59.34,639.40 59.84,639.40 60.33,639.40 60.83,639.40 61.33,639.40 61.82,639.39 62.32,639.39 62.82,639.38 63.31,639.37 63.81,639.35 64.31,639.32 64.80,639.29 65.30,639.24 65.80,639.16 66.29,639.07 66.79,638.94 67.29,638.77 67.78,638.55 68.28,638.28 68.78,637.95 69.27,637.55 69.77,637.08 70.27,636.54 70.76,635.93 71.26,635.27 71.76,634.56 72.25,633.83 72.75,633.09 73.25,632.38 73.74,631.72 74.24,631.14 74.74,630.66 75.23,630.30 75.73,630.09 76.23,630.02 76.72,630.09 77.22,630.30 77.72,630.62 78.21,631.02 78.71,631.48 79.21,631.95 79.70,632.40 80.20,632.80 80.70,633.11 81.19,633.30 81.69,633.37 82.19,633.29 82.68,633.09 83.18,632.78 83.68,632.37 84.17,631.90 84.67,631.40 85.17,630.93 85.66,630.52 86.16,630.20 86.66,630.01 87.15,629.97 87.65,630.08 88.15,630.35 88.64,630.78 89.14,631.33 89.64,631.99 90.13,632.72 90.63,633.49 91.13,634.27 91.62,635.03 92.12,635.74 92.62,636.40 93.11,636.99 93.61,637.49 94.11,637.92 94.60,638.28 95.10,638.56 95.60,638.79 96.09,638.96 96.59,639.09 97.09,639.19 97.58,639.25 98.08,639.30 98.58,639.34 99.07,639.36 99.57,639.37 100.07,639.38 100.56,639.39 101.06,639.39 101.56,639.40 102.05,639.40 102.55,639.40 103.05,639.40 103.54,639.40 104.04,639.40 104.54,639.40 105.03,639.40 105.53,639.40 106.03,639.40 106.52,639.40 107.02,639.40 107.52,639.40 108.01,639.40 108.51,639.40 109.01,639.40 109.50,639.40 110.00,639.40" fill="none" stroke="#fff" stroke-width="0.5" stroke-opacity="0.6" transform="translate(0,-1.1)"/>
<polygon points="35.5,644.80 35.50,644.80 36.00,644.80 36.49,644.80 36.99,644.80 37.49,644.80 37.98,644.80 38.48,644.80 38.98,644.80 39.47,644.80 39.97,644.80 40.47,644.80 40.96,644.80 41.46,644.80 41.96,644.80 42.45,644.80 42.95,644.80 43.45,644.80 43.94,644.80 44.44,644.80 44.94,644.80 45.43,644.80 45.93,644.80 46.43,644.80 46.92,644.80 47.42,644.80 47.92,644.80 48.41,644.80 48.91,644.80 49.41,644.80 49.90,644.80 50.40,644.80 50.90,644.80 51.39,644.80 51.89,644.80 52.39,644.80 52.88,644.80 53.38,644.80 53.88,644.80 54.37,644.80 54.87,644.80 55.37,644.80 55.86,644.80 56.36,644.80 56.86,644.80 57.35,644.80 57.85,644.80 58.35,644.80 58.84,644.80 59.34,644.80 59.84,644.80 60.33,644.80 60.83,644.80 61.33,644.80 61.82,644.79 62.32,644.79 62.82,644.78 63.31,644.77 63.81,644.75 64.31,644.72 64.80,644.69 65.30,644.64 65.80,644.56 66.29,644.47 66.79,644.34 67.29,644.17 67.78,643.95 68.28,643.68 68.78,643.35 69.27,642.95 69.77,642.48 70.27,641.94 70.76,641.33 71.26,640.67 71.76,639.96 72.25,639.23 72.75,638.49 73.25,637.78 73.74,637.12 74.24,636.54 74.74,636.06 75.23,635.70 75.73,635.49 76.23,635.42 76.72,635.49 77.22,635.70 77.72,636.02 78.21,636.42 78.71,636.88 79.21,637.35 79.70,637.80 80.20,638.20 80.70,638.51 81.19,638.70 81.69,638.77 82.19,638.69 82.68,638.49 83.18,638.18 83.68,637.77 84.17,637.30 84.67,636.80 85.17,636.33 85.66,635.92 86.16,635.60 86.66,635.41 87.15,635.37 87.65,635.48 88.15,635.75 88.64,636.18 89.14,636.73 89.64,637.39 90.13,638.12 90.63,638.89 91.13,639.67 91.62,640.43 92.12,641.14 92.62,641.80 93.11,642.39 93.61,642.89 94.11,643.32 94.60,643.68 95.10,643.96 95.60,644.19 96.09,644.36 96.59,644.49 97.09,644.59 97.58,644.65 98.08,644.70 98.58,644.74 99.07,644.76 99.57,644.77 100.07,644.78 100.56,644.79 101.06,644.79 101.56,644.80 102.05,644.80 102.55,644.80 103.05,644.80 103.54,644.80 104.04,644.80 104.54,644.80 105.03,644.80 105.53,644.80 106.03,644.80 106.52,644.80 107.02,644.80 107.52,644.80 108.01,644.80 108.51,644.80 109.01,644.80 109.50,644.80 110.00,644.80 110,644.80" fill="#ad0e3a" fill-opacity="0.55" stroke="none"/>
<polyline points="35.50,644.80 36.00,644.80 36.49,644.80 36.99,644.80 37.49,644.80 37.98,644.80 38.48,644.80 38.98,644.80 39.47,644.80 39.97,644.80 40.47,644.80 40.96,644.80 41.46,644.80 41.96,644.80 42.45,644.80 42.95,644.80 43.45,644.80 43.94,644.80 44.44,644.80 44.94,644.80 45.43,644.80 45.93,644.80 46.43,644.80 46.92,644.80 47.42,644.80 47.92,644.80 48.41,644.80 48.91,644.80 49.41,644.80 49.90,644.80 50.40,644.80 50.90,644.80 51.39,644.80 51.89,644.80 52.39,644.80 52.88,644.80 53.38,644.80 53.88,644.80 54.37,644.80 54.87,644.80 55.37,644.80 55.86,644.80 56.36,644.80 56.86,644.80 57.35,644.80 57.85,644.80 58.35,644.80 58.84,644.80 59.34,644.80 59.84,644.80 60.33,644.80 60.83,644.80 61.33,644.80 61.82,644.79 62.32,644.79 62.82,644.78 63.31,644.77 63.81,644.75 64.31,644.72 64.80,644.69 65.30,644.64 65.80,644.56 66.29,644.47 66.79,644.34 67.29,644.17 67.78,643.95 68.28,643.68 68.78,643.35 69.27,642.95 69.77,642.48 70.27,641.94 70.76,641.33 71.26,640.67 71.76,639.96 72.25,639.23 72.75,638.49 73.25,637.78 73.74,637.12 74.24,636.54 74.74,636.06 75.23,635.70 75.73,635.49 76.23,635.42 76.72,635.49 77.22,635.70 77.72,636.02 78.21,636.42 78.71,636.88 79.21,637.35 79.70,637.80 80.20,638.20 80.70,638.51 81.19,638.70 81.69,638.77 82.19,638.69 82.68,638.49 83.18,638.18 83.68,637.77 84.17,637.30 84.67,636.80 85.17,636.33 85.66,635.92 86.16,635.60 86.66,635.41 87.15,635.37 87.65,635.48 88.15,635.75 88.64,636.18 89.14,636.73 89.64,637.39 90.13,638.12 90.63,638.89 91.13,639.67 91.62,640.43 92.12,641.14 92.62,641.80 93.11,642.39 93.61,642.89 94.11,643.32 94.60,643.68 95.10,643.96 95.60,644.19 96.09,644.36 96.59,644.49 97.09,644.59 97.58,644.65 98.08,644.70 98.58,644.74 99.07,644.76 99.57,644.77 100.07,644.78 100.56,644.79 101.06,644.79 101.56,644.80 102.05,644.80 102.55,644.80 103.05,644.80 103.54,644.80 104.04,644.80 104.54,644.80 105.03,644.80 105.53,644.80 106.03,644.80 106.52,644.80 107.02,644.80 107.52,644.80 108.01,644.80 108.51,644.80 109.01,644.80 109.50,644.80 110.00,644.80" fill="none" stroke="#ad0e3a" stroke-width="1.2"/>
<polyline points="35.5,644.80 35.50,644.80 36.00,644.80 36.49,644.80 36.99,644.80 37.49,644.80 37.98,644.80 38.48,644.80 38.98,644.80 39.47,644.80 39.97,644.80 40.47,644.80 40.96,644.80 41.46,644.80 41.96,644.80 42.45,644.80 42.95,644.80 43.45,644.80 43.94,644.80 44.44,644.80 44.94,644.80 45.43,644.80 45.93,644.80 46.43,644.80 46.92,644.80 47.42,644.80 47.92,644.80 48.41,644.80 48.91,644.80 49.41,644.80 49.90,644.80 50.40,644.80 50.90,644.80 51.39,644.80 51.89,644.80 52.39,644.80 52.88,644.80 53.38,644.80 53.88,644.80 54.37,644.80 54.87,644.80 55.37,644.80 55.86,644.80 56.36,644.80 56.86,644.80 57.35,644.80 57.85,644.80 58.35,644.80 58.84,644.80 59.34,644.80 59.84,644.80 60.33,644.80 60.83,644.80 61.33,644.80 61.82,644.79 62.32,644.79 62.82,644.78 63.31,644.77 63.81,644.75 64.31,644.72 64.80,644.69 65.30,644.64 65.80,644.56 66.29,644.47 66.79,644.34 67.29,644.17 67.78,643.95 68.28,643.68 68.78,643.35 69.27,642.95 69.77,642.48 70.27,641.94 70.76,641.33 71.26,640.67 71.76,639.96 72.25,639.23 72.75,638.49 73.25,637.78 73.74,637.12 74.24,636.54 74.74,636.06 75.23,635.70 75.73,635.49 76.23,635.42 76.72,635.49 77.22,635.70 77.72,636.02 78.21,636.42 78.71,636.88 79.21,637.35 79.70,637.80 80.20,638.20 80.70,638.51 81.19,638.70 81.69,638.77 82.19,638.69 82.68,638.49 83.18,638.18 83.68,637.77 84.17,637.30 84.67,636.80 85.17,636.33 85.66,635.92 86.16,635.60 86.66,635.41 87.15,635.37 87.65,635.48 88.15,635.75 88.64,636.18 89.14,636.73 89.64,637.39 90.13,638.12 90.63,638.89 91.13,639.67 91.62,640.43 92.12,641.14 92.62,641.80 93.11,642.39 93.61,642.89 94.11,643.32 94.60,643.68 95.10,643.96 95.60,644.19 96.09,644.36 96.59,644.49 97.09,644.59 97.58,644.65 98.08,644.70 98.58,644.74 99.07,644.76 99.57,644.77 100.07,644.78 100.56,644.79 101.06,644.79 101.56,644.80 102.05,644.80 102.55,644.80 103.05,644.80 103.54,644.80 104.04,644.80 104.54,644.80 105.03,644.80 105.53,644.80 106.03,644.80 106.52,644.80 107.02,644.80 107.52,644.80 108.01,644.80 108.51,644.80 109.01,644.80 109.50,644.80 110.00,644.80" fill="none" stroke="#fff" stroke-width="0.5" stroke-opacity="0.6" transform="translate(0,-1.1)"/>
<line x1="35.40" y1="570.70" x2="35.40" y2="645.80" stroke="#111" stroke-width="1.2"/>
<line x1="35.00" y1="645.60" x2="112.50" y2="645.60" stroke="#111" stroke-width="1.2"/>
<line x1="36.50" y1="645.60" x2="36.50" y2="648.00" stroke="#111" stroke-width="0.6"/>
<line x1="38.50" y1="645.60" x2="38.50" y2="648.00" stroke="#111" stroke-width="0.6"/>
<line x1="40.50" y1="645.60" x2="40.50" y2="648.00" stroke="#111" stroke-width="0.6"/>
<line x1="42.60" y1="645.60" x2="42.60" y2="648.00" stroke="#111" stroke-width="0.6"/>
<line x1="44.70" y1="645.60" x2="44.70" y2="648.00" stroke="#111" stroke-width="0.6"/>
<line x1="46.80" y1="645.60" x2="46.80" y2="648.00" stroke="#111" stroke-width="0.6"/>
<line x1="48.90" y1="645.60" x2="48.90" y2="648.00" stroke="#111" stroke-width="0.6"/>
<line x1="51.00" y1="645.60" x2="51.00" y2="648.00" stroke="#111" stroke-width="0.6"/>
<line x1="56.50" y1="645.60" x2="56.50" y2="648.00" stroke="#111" stroke-width="0.6"/>
<line x1="63.27" y1="645.60" x2="63.27" y2="648.00" stroke="#111" stroke-width="0.6"/>
<line x1="67.24" y1="645.60" x2="67.24" y2="648.00" stroke="#111" stroke-width="0.6"/>
<line x1="70.05" y1="645.60" x2="70.05" y2="648.00" stroke="#111" stroke-width="0.6"/>
<line x1="72.23" y1="645.60" x2="72.23" y2="648.00" stroke="#111" stroke-width="0.6"/>
<line x1="74.01" y1="645.60" x2="74.01" y2="648.00" stroke="#111" stroke-width="0.6"/>
<line x1="75.51" y1="645.60" x2="75.51" y2="648.00" stroke="#111" stroke-width="0.6"/>
<line x1="76.82" y1="645.60" x2="76.82" y2="648.00" stroke="#111" stroke-width="0.6"/>
<line x1="77.97" y1="645.60" x2="77.97" y2="648.00" stroke="#111" stroke-width="0.6"/>
<line x1="79.00" y1="645.60" x2="79.00" y2="648.00" stroke="#111" stroke-width="0.6"/>
<line x1="85.77" y1="645.60" x2="85.77" y2="648.00" stroke="#111" stroke-width="0.6"/>
<line x1="89.74" y1="645.60" x2="89.74" y2="648.00" stroke="#111" stroke-width="0.6"/>
<line x1="92.55" y1="645.60" x2="92.55" y2="648.00" stroke="#111" stroke-width="0.6"/>
<line x1="94.73" y1="645.60" x2="94.73" y2="648.00" stroke="#111" stroke-width="0.6"/>
<line x1="96.51" y1="645.60" x2="96.51" y2="648.00" stroke="#111" stroke-width="0.6"/>
<line x1="98.01" y1="645.60" x2="98.01" y2="648.00" stroke="#111" stroke-width="0.6"/>
<line x1="99.32" y1="645.60" x2="99.32" y2="648.00" stroke="#111" stroke-width="0.6"/>
<line x1="100.47" y1="645.60" x2="100.47" y2="648.00" stroke="#111" stroke-width="0.6"/>
<line x1="101.50" y1="645.60" x2="101.50" y2="648.00" stroke="#111" stroke-width="0.6"/>
<line x1="108.27" y1="645.60" x2="108.27" y2="648.00" stroke="#111" stroke-width="0.6"/>
<line x1="40.77" y1="645.60" x2="40.77" y2="648.00" stroke="#111" stroke-width="0.6"/>
<line x1="44.74" y1="645.60" x2="44.74" y2="648.00" stroke="#111" stroke-width="0.6"/>
<line x1="47.55" y1="645.60" x2="47.55" y2="648.00" stroke="#111" stroke-width="0.6"/>
<line x1="49.73" y1="645.60" x2="49.73" y2="648.00" stroke="#111" stroke-width="0.6"/>
<line x1="51.51" y1="645.60" x2="51.51" y2="648.00" stroke="#111" stroke-width="0.6"/>
<line x1="53.01" y1="645.60" x2="53.01" y2="648.00" stroke="#111" stroke-width="0.6"/>
<line x1="54.32" y1="645.60" x2="54.32" y2="648.00" stroke="#111" stroke-width="0.6"/>
<line x1="55.47" y1="645.60" x2="55.47" y2="648.00" stroke="#111" stroke-width="0.6"/>
<text x="44.70" y="656.20" font-size="6.8" text-anchor="middle" fill="#222" stroke="#222" stroke-width="0.18">0</text>
<text x="79.50" y="656.20" font-size="6.8" text-anchor="middle" fill="#222" stroke="#222" stroke-width="0.18">10<tspan font-size="5.4" dy="-2.6">3</tspan></text>
<text x="102.20" y="656.20" font-size="6.8" text-anchor="middle" fill="#222" stroke="#222" stroke-width="0.18">10<tspan font-size="5.4" dy="-2.6">4</tspan></text>
<text x="37.00" y="670.30" font-size="8.2" textLength="64.50" lengthAdjust="spacingAndGlyphs" fill="#222" stroke="#222" stroke-width="0.18">2-NBDG fluorescence</text>
<text x="38.30" y="606.00" font-size="6.4" fill="#e6f0dc" stroke="#7fb35a" stroke-width="0.35">WT</text>
<text x="38.30" y="621.60" font-size="6.4" fill="#dde3ef" stroke="#5a74a8" stroke-width="0.35">VF</text>
<text x="38.30" y="639.00" font-size="6.4" fill="#f3dbe1" stroke="#c24a66" stroke-width="0.35">Ex12</text>
<path d="M70.5,575.6 H73.8 V594.7 H70.5 M73.8,585.2 H76" fill="none" stroke="#5aaee2" stroke-width="0.9"/>
<text x="79.00" y="583.30" font-size="5.8" textLength="19.50" lengthAdjust="spacingAndGlyphs" fill="#555" stroke="#555" stroke-width="0">without</text>
<text x="78.70" y="589.60" font-size="5.8" textLength="19.80" lengthAdjust="spacingAndGlyphs" fill="#555" stroke="#555" stroke-width="0">2-NBDG</text>
<line x1="155.60" y1="573.00" x2="155.60" y2="646.20" stroke="#111" stroke-width="1.1"/>
<line x1="152.80" y1="574.90" x2="155.60" y2="574.90" stroke="#111" stroke-width="0.9"/>
<text x="149.80" y="577.42" font-size="7" text-anchor="end" fill="#222" stroke="#222" stroke-width="0.18">2000</text>
<line x1="152.80" y1="592.60" x2="155.60" y2="592.60" stroke="#111" stroke-width="0.9"/>
<text x="149.80" y="595.12" font-size="7" text-anchor="end" fill="#222" stroke="#222" stroke-width="0.18">1500</text>
<line x1="152.80" y1="610.30" x2="155.60" y2="610.30" stroke="#111" stroke-width="0.9"/>
<text x="149.80" y="612.82" font-size="7" text-anchor="end" fill="#222" stroke="#222" stroke-width="0.18">1000</text>
<line x1="152.80" y1="628.00" x2="155.60" y2="628.00" stroke="#111" stroke-width="0.9"/>
<text x="149.80" y="630.52" font-size="7" text-anchor="end" fill="#222" stroke="#222" stroke-width="0.18">500</text>
<line x1="152.80" y1="645.70" x2="155.60" y2="645.70" stroke="#111" stroke-width="0.9"/>
<text x="149.80" y="648.22" font-size="7" text-anchor="end" fill="#222" stroke="#222" stroke-width="0.18">0</text>
<line x1="155.10" y1="645.70" x2="183.00" y2="645.70" stroke="#111" stroke-width="1.1"/>
<line x1="162.35" y1="629.42" x2="162.35" y2="628.71" stroke="#6ab23e" stroke-width="0.9"/>
<line x1="161.15" y1="628.71" x2="163.55" y2="628.71" stroke="#6ab23e" stroke-width="0.9"/>
<rect x="159.90" y="629.42" width="4.90" height="16.28" fill="#6ab23e"/>
<line x1="169.40" y1="611.01" x2="169.40" y2="604.28" stroke="#2b4b8c" stroke-width="0.9"/>
<line x1="168.20" y1="604.28" x2="170.60" y2="604.28" stroke="#2b4b8c" stroke-width="0.9"/>
<rect x="166.80" y="611.01" width="5.20" height="34.69" fill="#2b4b8c"/>
<line x1="176.05" y1="590.83" x2="176.05" y2="588.35" stroke="#ad0e3a" stroke-width="0.9"/>
<line x1="174.85" y1="588.35" x2="177.25" y2="588.35" stroke="#ad0e3a" stroke-width="0.9"/>
<rect x="173.50" y="590.83" width="5.10" height="54.87" fill="#ad0e3a"/>
<line x1="161.90" y1="596.90" x2="172.00" y2="596.90" stroke="#555" stroke-width="1.1"/>
<text x="167.00" y="596.00" font-size="5.5" text-anchor="middle" fill="#333" stroke="#333" stroke-width="0.18">*</text>
<line x1="161.30" y1="586.50" x2="180.70" y2="586.50" stroke="#555" stroke-width="1.1"/>
<text x="171.00" y="585.60" font-size="5.5" text-anchor="middle" fill="#333" stroke="#333" stroke-width="0.18">**</text>
<text transform="translate(128.9,613.4) rotate(-90)" font-size="8.4" text-anchor="middle" fill="#222" stroke="#222" stroke-width="0.15" textLength="32" lengthAdjust="spacingAndGlyphs">2-NBDG-MFI</text>
<text x="168.90" y="654.80" font-size="7.6" text-anchor="middle" textLength="23.70" lengthAdjust="spacingAndGlyphs" fill="#222" stroke="#222" stroke-width="0.18">Ter119+</text>
<text x="168.90" y="662.00" font-size="7.6" text-anchor="middle" textLength="20.00" lengthAdjust="spacingAndGlyphs" fill="#222" stroke="#222" stroke-width="0.18">CD71+</text>
<line x1="212.60" y1="573.00" x2="212.60" y2="646.00" stroke="#111" stroke-width="1.1"/>
<line x1="209.80" y1="574.25" x2="212.60" y2="574.25" stroke="#111" stroke-width="0.9"/>
<text x="206.80" y="576.77" font-size="7" text-anchor="end" fill="#222" stroke="#222" stroke-width="0.18">5000</text>
<line x1="209.80" y1="588.50" x2="212.60" y2="588.50" stroke="#111" stroke-width="0.9"/>
<text x="206.80" y="591.02" font-size="7" text-anchor="end" fill="#222" stroke="#222" stroke-width="0.18">4000</text>
<line x1="209.80" y1="602.75" x2="212.60" y2="602.75" stroke="#111" stroke-width="0.9"/>
<text x="206.80" y="605.27" font-size="7" text-anchor="end" fill="#222" stroke="#222" stroke-width="0.18">3000</text>
<line x1="209.80" y1="617.00" x2="212.60" y2="617.00" stroke="#111" stroke-width="0.9"/>
<text x="206.80" y="619.52" font-size="7" text-anchor="end" fill="#222" stroke="#222" stroke-width="0.18">2000</text>
<line x1="209.80" y1="631.25" x2="212.60" y2="631.25" stroke="#111" stroke-width="0.9"/>
<text x="206.80" y="633.77" font-size="7" text-anchor="end" fill="#222" stroke="#222" stroke-width="0.18">1000</text>
<line x1="209.80" y1="645.50" x2="212.60" y2="645.50" stroke="#111" stroke-width="0.9"/>
<text x="206.80" y="648.02" font-size="7" text-anchor="end" fill="#222" stroke="#222" stroke-width="0.18">0</text>
<line x1="212.10" y1="645.50" x2="301.50" y2="645.50" stroke="#111" stroke-width="1.1"/>
<line x1="216.85" y1="632.67" x2="216.85" y2="631.96" stroke="#6ab23e" stroke-width="0.9"/>
<line x1="215.65" y1="631.96" x2="218.05" y2="631.96" stroke="#6ab23e" stroke-width="0.9"/>
<rect x="215.00" y="632.67" width="3.70" height="12.83" fill="#6ab23e"/>
<line x1="221.25" y1="627.69" x2="221.25" y2="626.26" stroke="#2b4b8c" stroke-width="0.9"/>
<line x1="220.05" y1="626.26" x2="222.45" y2="626.26" stroke="#2b4b8c" stroke-width="0.9"/>
<rect x="219.40" y="627.69" width="3.70" height="17.81" fill="#2b4b8c"/>
<line x1="225.65" y1="612.73" x2="225.65" y2="605.60" stroke="#ad0e3a" stroke-width="0.9"/>
<line x1="224.45" y1="605.60" x2="226.85" y2="605.60" stroke="#ad0e3a" stroke-width="0.9"/>
<rect x="223.80" y="612.73" width="3.70" height="32.77" fill="#ad0e3a"/>
<line x1="221.20" y1="645.50" x2="221.20" y2="648.00" stroke="#111" stroke-width="0.9"/>
<text x="221.20" y="656.50" font-size="6.8" text-anchor="middle" fill="#222" stroke="#222" stroke-width="0.18">I</text>
<line x1="234.85" y1="623.41" x2="234.85" y2="621.27" stroke="#6ab23e" stroke-width="0.9"/>
<line x1="233.65" y1="621.27" x2="236.05" y2="621.27" stroke="#6ab23e" stroke-width="0.9"/>
<rect x="233.00" y="623.41" width="3.70" height="22.09" fill="#6ab23e"/>
<line x1="239.25" y1="603.46" x2="239.25" y2="595.62" stroke="#2b4b8c" stroke-width="0.9"/>
<line x1="238.05" y1="595.62" x2="240.45" y2="595.62" stroke="#2b4b8c" stroke-width="0.9"/>
<rect x="237.40" y="603.46" width="3.70" height="42.04" fill="#2b4b8c"/>
<line x1="243.65" y1="592.06" x2="243.65" y2="588.50" stroke="#ad0e3a" stroke-width="0.9"/>
<line x1="242.45" y1="588.50" x2="244.85" y2="588.50" stroke="#ad0e3a" stroke-width="0.9"/>
<rect x="241.80" y="592.06" width="3.70" height="53.44" fill="#ad0e3a"/>
<line x1="239.20" y1="645.50" x2="239.20" y2="648.00" stroke="#111" stroke-width="0.9"/>
<text x="239.20" y="656.50" font-size="6.8" text-anchor="middle" fill="#222" stroke="#222" stroke-width="0.18">II</text>
<line x1="252.85" y1="628.40" x2="252.85" y2="625.55" stroke="#6ab23e" stroke-width="0.9"/>
<line x1="251.65" y1="625.55" x2="254.05" y2="625.55" stroke="#6ab23e" stroke-width="0.9"/>
<rect x="251.00" y="628.40" width="3.70" height="17.10" fill="#6ab23e"/>
<line x1="257.25" y1="619.85" x2="257.25" y2="614.86" stroke="#2b4b8c" stroke-width="0.9"/>
<line x1="256.05" y1="614.86" x2="258.45" y2="614.86" stroke="#2b4b8c" stroke-width="0.9"/>
<rect x="255.40" y="619.85" width="3.70" height="25.65" fill="#2b4b8c"/>
<line x1="261.65" y1="609.88" x2="261.65" y2="608.45" stroke="#ad0e3a" stroke-width="0.9"/>
<line x1="260.45" y1="608.45" x2="262.85" y2="608.45" stroke="#ad0e3a" stroke-width="0.9"/>
<rect x="259.80" y="609.88" width="3.70" height="35.62" fill="#ad0e3a"/>
<line x1="257.20" y1="645.50" x2="257.20" y2="648.00" stroke="#111" stroke-width="0.9"/>
<text x="257.20" y="656.50" font-size="6.8" text-anchor="middle" fill="#222" stroke="#222" stroke-width="0.18">III</text>
<line x1="270.65" y1="643.36" x2="270.65" y2="642.65" stroke="#6ab23e" stroke-width="0.9"/>
<line x1="269.45" y1="642.65" x2="271.85" y2="642.65" stroke="#6ab23e" stroke-width="0.9"/>
<rect x="268.80" y="643.36" width="3.70" height="2.14" fill="#6ab23e"/>
<line x1="275.05" y1="640.51" x2="275.05" y2="639.80" stroke="#2b4b8c" stroke-width="0.9"/>
<line x1="273.85" y1="639.80" x2="276.25" y2="639.80" stroke="#2b4b8c" stroke-width="0.9"/>
<rect x="273.20" y="640.51" width="3.70" height="4.99" fill="#2b4b8c"/>
<line x1="279.45" y1="634.81" x2="279.45" y2="634.10" stroke="#ad0e3a" stroke-width="0.9"/>
<line x1="278.25" y1="634.10" x2="280.65" y2="634.10" stroke="#ad0e3a" stroke-width="0.9"/>
<rect x="277.60" y="634.81" width="3.70" height="10.69" fill="#ad0e3a"/>
<line x1="275.00" y1="645.50" x2="275.00" y2="648.00" stroke="#111" stroke-width="0.9"/>
<text x="275.00" y="656.50" font-size="6.8" text-anchor="middle" fill="#222" stroke="#222" stroke-width="0.18">IV</text>
<rect x="287.10" y="644.79" width="3.70" height="0.71" fill="#6ab23e"/>
<line x1="293.35" y1="642.65" x2="293.35" y2="641.94" stroke="#2b4b8c" stroke-width="0.9"/>
<line x1="292.15" y1="641.94" x2="294.55" y2="641.94" stroke="#2b4b8c" stroke-width="0.9"/>
<rect x="291.50" y="642.65" width="3.70" height="2.85" fill="#2b4b8c"/>
<line x1="297.75" y1="637.66" x2="297.75" y2="636.95" stroke="#ad0e3a" stroke-width="0.9"/>
<line x1="296.55" y1="636.95" x2="298.95" y2="636.95" stroke="#ad0e3a" stroke-width="0.9"/>
<rect x="295.90" y="637.66" width="3.70" height="7.84" fill="#ad0e3a"/>
<line x1="293.30" y1="645.50" x2="293.30" y2="648.00" stroke="#111" stroke-width="0.9"/>
<text x="293.30" y="656.50" font-size="6.8" text-anchor="middle" fill="#222" stroke="#222" stroke-width="0.18">V</text>
<line x1="213.80" y1="624.20" x2="221.90" y2="624.20" stroke="#444" stroke-width="0.95"/>
<text x="218.40" y="624.80" font-size="5.6" text-anchor="middle" fill="#333" stroke="#333" stroke-width="0">*</text>
<line x1="215.00" y1="603.40" x2="228.80" y2="603.40" stroke="#444" stroke-width="0.95"/>
<text x="225.30" y="604.00" font-size="5.6" text-anchor="middle" fill="#333" stroke="#333" stroke-width="0">**</text>
<line x1="232.30" y1="590.00" x2="240.40" y2="590.00" stroke="#444" stroke-width="0.95"/>
<text x="236.90" y="590.60" font-size="5.6" text-anchor="middle" fill="#333" stroke="#333" stroke-width="0">*</text>
<line x1="233.50" y1="583.50" x2="248.00" y2="583.50" stroke="#444" stroke-width="0.95"/>
<text x="244.50" y="584.10" font-size="5.6" text-anchor="middle" fill="#333" stroke="#333" stroke-width="0">**</text>
<line x1="250.80" y1="612.00" x2="258.80" y2="612.00" stroke="#444" stroke-width="0.95"/>
<text x="255.30" y="612.60" font-size="5.6" text-anchor="middle" fill="#333" stroke="#333" stroke-width="0">*</text>
<line x1="250.80" y1="605.00" x2="265.80" y2="605.00" stroke="#444" stroke-width="0.95"/>
<text x="262.30" y="605.60" font-size="5.6" text-anchor="middle" fill="#333" stroke="#333" stroke-width="0">**</text>
<line x1="268.80" y1="636.90" x2="276.20" y2="636.90" stroke="#444" stroke-width="0.95"/>
<text x="272.70" y="637.50" font-size="5.6" text-anchor="middle" fill="#333" stroke="#333" stroke-width="0">*</text>
<line x1="268.80" y1="632.00" x2="281.90" y2="632.00" stroke="#444" stroke-width="0.95"/>
<text x="278.40" y="632.60" font-size="5.6" text-anchor="middle" fill="#333" stroke="#333" stroke-width="0">**</text>
<line x1="286.50" y1="639.60" x2="293.50" y2="639.60" stroke="#444" stroke-width="0.95"/>
<text x="290.00" y="640.20" font-size="5.6" text-anchor="middle" fill="#333" stroke="#333" stroke-width="0">*</text>
<line x1="286.50" y1="632.00" x2="300.40" y2="632.00" stroke="#444" stroke-width="0.95"/>
<text x="296.90" y="632.60" font-size="5.6" text-anchor="middle" fill="#333" stroke="#333" stroke-width="0">**</text>
<text x="310.80" y="545.20" font-size="9.4" textLength="2.80" lengthAdjust="spacingAndGlyphs" font-weight="bold" fill="#000" stroke="#000" stroke-width="0.18">I</text>
<text x="320.30" y="553.70" font-size="9.2" textLength="162.00" lengthAdjust="spacingAndGlyphs" fill="#1a1a1a" stroke="#1a1a1a" stroke-width="0.18">Glucose uptake capacity of erythroid cells</text>
<text x="320.30" y="564.10" font-size="9.2" textLength="61.60" lengthAdjust="spacingAndGlyphs" fill="#1a1a1a" stroke="#1a1a1a" stroke-width="0.18">in bone marrow</text>
<line x1="341.10" y1="573.40" x2="341.10" y2="645.90" stroke="#111" stroke-width="1.1"/>
<line x1="338.30" y1="576.20" x2="341.10" y2="576.20" stroke="#111" stroke-width="0.9"/>
<text x="335.30" y="578.72" font-size="7" text-anchor="end" fill="#222" stroke="#222" stroke-width="0.18">2000</text>
<line x1="338.30" y1="593.50" x2="341.10" y2="593.50" stroke="#111" stroke-width="0.9"/>
<text x="335.30" y="596.02" font-size="7" text-anchor="end" fill="#222" stroke="#222" stroke-width="0.18">1500</text>
<line x1="338.30" y1="610.80" x2="341.10" y2="610.80" stroke="#111" stroke-width="0.9"/>
<text x="335.30" y="613.32" font-size="7" text-anchor="end" fill="#222" stroke="#222" stroke-width="0.18">1000</text>
<line x1="338.30" y1="628.10" x2="341.10" y2="628.10" stroke="#111" stroke-width="0.9"/>
<text x="335.30" y="630.62" font-size="7" text-anchor="end" fill="#222" stroke="#222" stroke-width="0.18">500</text>
<line x1="338.30" y1="645.40" x2="341.10" y2="645.40" stroke="#111" stroke-width="0.9"/>
<text x="335.30" y="647.92" font-size="7" text-anchor="end" fill="#222" stroke="#222" stroke-width="0.18">0</text>
<line x1="340.60" y1="645.40" x2="368.80" y2="645.40" stroke="#111" stroke-width="1.1"/>
<line x1="347.30" y1="625.33" x2="347.30" y2="624.64" stroke="#6ab23e" stroke-width="0.9"/>
<line x1="346.10" y1="624.64" x2="348.50" y2="624.64" stroke="#6ab23e" stroke-width="0.9"/>
<rect x="345.00" y="625.33" width="4.60" height="20.07" fill="#6ab23e"/>
<line x1="353.85" y1="614.26" x2="353.85" y2="608.03" stroke="#2b4b8c" stroke-width="0.9"/>
<line x1="352.65" y1="608.03" x2="355.05" y2="608.03" stroke="#2b4b8c" stroke-width="0.9"/>
<rect x="351.20" y="614.26" width="5.30" height="31.14" fill="#2b4b8c"/>
<line x1="360.60" y1="621.87" x2="360.60" y2="620.14" stroke="#ad0e3a" stroke-width="0.9"/>
<line x1="359.40" y1="620.14" x2="361.80" y2="620.14" stroke="#ad0e3a" stroke-width="0.9"/>
<rect x="358.20" y="621.87" width="4.80" height="23.53" fill="#ad0e3a"/>
<line x1="345.00" y1="608.00" x2="355.80" y2="608.00" stroke="#555" stroke-width="1.1"/>
<text x="352.60" y="607.40" font-size="5.5" text-anchor="middle" fill="#333" stroke="#333" stroke-width="0.18">*</text>
<text x="353.10" y="654.60" font-size="7.6" text-anchor="middle" textLength="19.40" lengthAdjust="spacingAndGlyphs" fill="#222" stroke="#222" stroke-width="0.18">Ter119+</text>
<text x="353.10" y="662.60" font-size="7.6" text-anchor="middle" textLength="17.00" lengthAdjust="spacingAndGlyphs" fill="#222" stroke="#222" stroke-width="0.18">CD71+</text>
<line x1="398.80" y1="573.00" x2="398.80" y2="646.00" stroke="#111" stroke-width="1.1"/>
<line x1="396.00" y1="574.25" x2="398.80" y2="574.25" stroke="#111" stroke-width="0.9"/>
<text x="393.00" y="576.77" font-size="7" text-anchor="end" fill="#222" stroke="#222" stroke-width="0.18">5000</text>
<line x1="396.00" y1="588.50" x2="398.80" y2="588.50" stroke="#111" stroke-width="0.9"/>
<text x="393.00" y="591.02" font-size="7" text-anchor="end" fill="#222" stroke="#222" stroke-width="0.18">4000</text>
<line x1="396.00" y1="602.75" x2="398.80" y2="602.75" stroke="#111" stroke-width="0.9"/>
<text x="393.00" y="605.27" font-size="7" text-anchor="end" fill="#222" stroke="#222" stroke-width="0.18">3000</text>
<line x1="396.00" y1="617.00" x2="398.80" y2="617.00" stroke="#111" stroke-width="0.9"/>
<text x="393.00" y="619.52" font-size="7" text-anchor="end" fill="#222" stroke="#222" stroke-width="0.18">2000</text>
<line x1="396.00" y1="631.25" x2="398.80" y2="631.25" stroke="#111" stroke-width="0.9"/>
<text x="393.00" y="633.77" font-size="7" text-anchor="end" fill="#222" stroke="#222" stroke-width="0.18">1000</text>
<line x1="396.00" y1="645.50" x2="398.80" y2="645.50" stroke="#111" stroke-width="0.9"/>
<text x="393.00" y="648.02" font-size="7" text-anchor="end" fill="#222" stroke="#222" stroke-width="0.18">0</text>
<line x1="398.30" y1="645.50" x2="487.50" y2="645.50" stroke="#111" stroke-width="1.1"/>
<line x1="402.65" y1="618.42" x2="402.65" y2="617.00" stroke="#6ab23e" stroke-width="0.9"/>
<line x1="401.45" y1="617.00" x2="403.85" y2="617.00" stroke="#6ab23e" stroke-width="0.9"/>
<rect x="400.80" y="618.42" width="3.70" height="27.08" fill="#6ab23e"/>
<line x1="407.05" y1="605.88" x2="407.05" y2="604.17" stroke="#2b4b8c" stroke-width="0.9"/>
<line x1="405.85" y1="604.17" x2="408.25" y2="604.17" stroke="#2b4b8c" stroke-width="0.9"/>
<rect x="405.20" y="605.88" width="3.70" height="39.62" fill="#2b4b8c"/>
<line x1="411.45" y1="610.87" x2="411.45" y2="610.16" stroke="#ad0e3a" stroke-width="0.9"/>
<line x1="410.25" y1="610.16" x2="412.65" y2="610.16" stroke="#ad0e3a" stroke-width="0.9"/>
<rect x="409.60" y="610.87" width="3.70" height="34.63" fill="#ad0e3a"/>
<line x1="407.00" y1="645.50" x2="407.00" y2="648.00" stroke="#111" stroke-width="0.9"/>
<text x="407.00" y="656.50" font-size="6.8" text-anchor="middle" fill="#222" stroke="#222" stroke-width="0.18">I</text>
<line x1="420.65" y1="621.56" x2="420.65" y2="620.99" stroke="#6ab23e" stroke-width="0.9"/>
<line x1="419.45" y1="620.99" x2="421.85" y2="620.99" stroke="#6ab23e" stroke-width="0.9"/>
<rect x="418.80" y="621.56" width="3.70" height="23.94" fill="#6ab23e"/>
<line x1="425.05" y1="608.45" x2="425.05" y2="603.46" stroke="#2b4b8c" stroke-width="0.9"/>
<line x1="423.85" y1="603.46" x2="426.25" y2="603.46" stroke="#2b4b8c" stroke-width="0.9"/>
<rect x="423.20" y="608.45" width="3.70" height="37.05" fill="#2b4b8c"/>
<line x1="429.45" y1="618.85" x2="429.45" y2="618.42" stroke="#ad0e3a" stroke-width="0.9"/>
<line x1="428.25" y1="618.42" x2="430.65" y2="618.42" stroke="#ad0e3a" stroke-width="0.9"/>
<rect x="427.60" y="618.85" width="3.70" height="26.65" fill="#ad0e3a"/>
<line x1="425.00" y1="645.50" x2="425.00" y2="648.00" stroke="#111" stroke-width="0.9"/>
<text x="425.00" y="656.50" font-size="6.8" text-anchor="middle" fill="#222" stroke="#222" stroke-width="0.18">II</text>
<line x1="438.65" y1="631.53" x2="438.65" y2="631.25" stroke="#6ab23e" stroke-width="0.9"/>
<line x1="437.45" y1="631.25" x2="439.85" y2="631.25" stroke="#6ab23e" stroke-width="0.9"/>
<rect x="436.80" y="631.53" width="3.70" height="13.97" fill="#6ab23e"/>
<line x1="443.05" y1="626.26" x2="443.05" y2="624.84" stroke="#2b4b8c" stroke-width="0.9"/>
<line x1="441.85" y1="624.84" x2="444.25" y2="624.84" stroke="#2b4b8c" stroke-width="0.9"/>
<rect x="441.20" y="626.26" width="3.70" height="19.24" fill="#2b4b8c"/>
<line x1="447.45" y1="629.83" x2="447.45" y2="629.40" stroke="#ad0e3a" stroke-width="0.9"/>
<line x1="446.25" y1="629.40" x2="448.65" y2="629.40" stroke="#ad0e3a" stroke-width="0.9"/>
<rect x="445.60" y="629.83" width="3.70" height="15.67" fill="#ad0e3a"/>
<line x1="443.00" y1="645.50" x2="443.00" y2="648.00" stroke="#111" stroke-width="0.9"/>
<text x="443.00" y="656.50" font-size="6.8" text-anchor="middle" fill="#222" stroke="#222" stroke-width="0.18">III</text>
<line x1="456.90" y1="642.37" x2="456.90" y2="642.08" stroke="#6ab23e" stroke-width="0.9"/>
<line x1="455.70" y1="642.08" x2="458.10" y2="642.08" stroke="#6ab23e" stroke-width="0.9"/>
<rect x="455.05" y="642.37" width="3.70" height="3.13" fill="#6ab23e"/>
<line x1="461.30" y1="641.23" x2="461.30" y2="640.94" stroke="#2b4b8c" stroke-width="0.9"/>
<line x1="460.10" y1="640.94" x2="462.50" y2="640.94" stroke="#2b4b8c" stroke-width="0.9"/>
<rect x="459.45" y="641.23" width="3.70" height="4.27" fill="#2b4b8c"/>
<line x1="465.70" y1="641.23" x2="465.70" y2="640.94" stroke="#ad0e3a" stroke-width="0.9"/>
<line x1="464.50" y1="640.94" x2="466.90" y2="640.94" stroke="#ad0e3a" stroke-width="0.9"/>
<rect x="463.85" y="641.23" width="3.70" height="4.27" fill="#ad0e3a"/>
<line x1="461.25" y1="645.50" x2="461.25" y2="648.00" stroke="#111" stroke-width="0.9"/>
<text x="461.25" y="656.50" font-size="6.8" text-anchor="middle" fill="#222" stroke="#222" stroke-width="0.18">IV</text>
<rect x="472.55" y="644.36" width="3.70" height="1.14" fill="#6ab23e"/>
<rect x="476.95" y="644.08" width="3.70" height="1.42" fill="#2b4b8c"/>
<rect x="481.35" y="643.93" width="3.70" height="1.57" fill="#ad0e3a"/>
<line x1="478.75" y1="645.50" x2="478.75" y2="648.00" stroke="#111" stroke-width="0.9"/>
<text x="478.75" y="656.50" font-size="6.8" text-anchor="middle" fill="#222" stroke="#222" stroke-width="0.18">V</text>
<line x1="400.50" y1="596.25" x2="413.75" y2="596.25" stroke="#444" stroke-width="0.95"/>
<text x="410.25" y="596.85" font-size="5.6" text-anchor="middle" fill="#333" stroke="#333" stroke-width="0">**</text>
<line x1="400.50" y1="603.00" x2="408.75" y2="603.00" stroke="#444" stroke-width="0.95"/>
<text x="405.25" y="603.60" font-size="5.6" text-anchor="middle" fill="#333" stroke="#333" stroke-width="0">*</text>
<line x1="418.25" y1="603.00" x2="426.25" y2="603.00" stroke="#444" stroke-width="0.95"/>
<text x="422.75" y="603.60" font-size="5.6" text-anchor="middle" fill="#333" stroke="#333" stroke-width="0">*</text>
<line x1="437.00" y1="621.25" x2="445.50" y2="621.25" stroke="#444" stroke-width="0.95"/>
<text x="442.00" y="621.85" font-size="5.6" text-anchor="middle" fill="#333" stroke="#333" stroke-width="0">*</text>
<rect x="462.50" y="581.45" width="5.50" height="4.60" fill="#6ab23e"/>
<text x="471.30" y="585.95" font-size="6.4" font-style="italic" fill="#222" stroke="#222" stroke-width="0.18">WT</text>
<rect x="462.50" y="587.70" width="5.50" height="4.60" fill="#2b4b8c"/>
<text x="471.30" y="592.20" font-size="6.4" font-style="italic" fill="#222" stroke="#222" stroke-width="0.18">VF</text>
<rect x="462.50" y="594.45" width="5.50" height="4.60" fill="#ad0e3a"/>
<text x="471.30" y="598.95" font-size="6.4" font-style="italic" fill="#222" stroke="#222" stroke-width="0.18">E12</text>
<rect x="0.5" y="0.5" width="519" height="678" fill="none" stroke="#000" stroke-width="1.1"/>
</svg></body></html>
